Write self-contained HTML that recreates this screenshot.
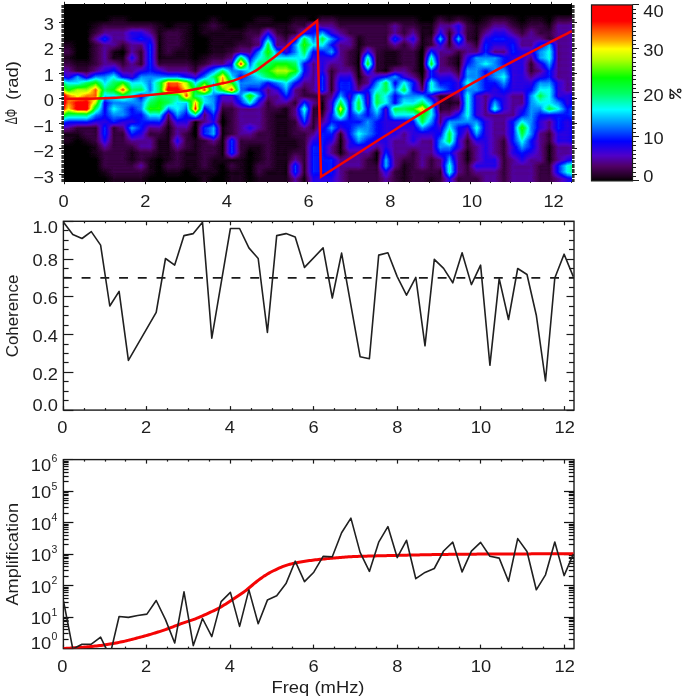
<!DOCTYPE html>
<html><head><meta charset="utf-8"><style>
html,body{margin:0;padding:0;background:#fff;}
svg{display:block;font-family:"Liberation Sans", sans-serif;will-change:transform;}
text{fill:#1e1e1e;}
</style></head><body>
<svg width="685" height="699" viewBox="0 0 685 699">
<defs><linearGradient id="cbgrad" x1="0" y1="0" x2="0" y2="1"><stop offset="0.000" stop-color="rgb(255, 0, 0)"/><stop offset="0.092" stop-color="rgb(255, 0, 0)"/><stop offset="0.144" stop-color="rgb(255, 80, 0)"/><stop offset="0.200" stop-color="rgb(255, 160, 0)"/><stop offset="0.250" stop-color="rgb(255, 255, 0)"/><stop offset="0.310" stop-color="rgb(180, 255, 0)"/><stop offset="0.414" stop-color="rgb(0, 255, 0)"/><stop offset="0.503" stop-color="rgb(0, 255, 100)"/><stop offset="0.595" stop-color="rgb(0, 255, 255)"/><stop offset="0.670" stop-color="rgb(0, 150, 255)"/><stop offset="0.775" stop-color="rgb(0, 0, 255)"/><stop offset="0.857" stop-color="rgb(80, 0, 200)"/><stop offset="0.917" stop-color="rgb(80, 0, 100)"/><stop offset="0.977" stop-color="rgb(30, 0, 30)"/><stop offset="1.000" stop-color="rgb(0, 0, 0)"/></linearGradient></defs>
<defs>
<linearGradient id="hg0" gradientUnits="userSpaceOnUse" x1="64.0" y1="0" x2="572.0" y2="0"><stop offset="0.0089" stop-color="#000000"/><stop offset="0.0268" stop-color="#000000"/><stop offset="0.0446" stop-color="#000000"/><stop offset="0.0625" stop-color="#000000"/><stop offset="0.0804" stop-color="#000000"/><stop offset="0.0982" stop-color="#000000"/><stop offset="0.1161" stop-color="#000000"/><stop offset="0.1339" stop-color="#000000"/><stop offset="0.1518" stop-color="#000000"/><stop offset="0.1696" stop-color="#000000"/><stop offset="0.1875" stop-color="#000000"/><stop offset="0.2054" stop-color="#000000"/><stop offset="0.2232" stop-color="#000000"/><stop offset="0.2411" stop-color="#000000"/><stop offset="0.2589" stop-color="#000000"/><stop offset="0.2768" stop-color="#000000"/><stop offset="0.2946" stop-color="#000000"/><stop offset="0.3125" stop-color="#000000"/><stop offset="0.3304" stop-color="#000000"/><stop offset="0.3482" stop-color="#000000"/><stop offset="0.3661" stop-color="#000000"/><stop offset="0.3839" stop-color="#000000"/><stop offset="0.4018" stop-color="#000000"/><stop offset="0.4196" stop-color="#000000"/><stop offset="0.4375" stop-color="#000000"/><stop offset="0.4554" stop-color="#000000"/><stop offset="0.4732" stop-color="#000000"/><stop offset="0.4911" stop-color="#000000"/><stop offset="0.5089" stop-color="#000000"/><stop offset="0.5268" stop-color="#000000"/><stop offset="0.5446" stop-color="#000000"/><stop offset="0.5625" stop-color="#000000"/><stop offset="0.5804" stop-color="#000000"/><stop offset="0.5982" stop-color="#000000"/><stop offset="0.6161" stop-color="#000000"/><stop offset="0.6339" stop-color="#000000"/><stop offset="0.6518" stop-color="#000000"/><stop offset="0.6696" stop-color="#000000"/><stop offset="0.6875" stop-color="#000000"/><stop offset="0.7054" stop-color="#000000"/><stop offset="0.7232" stop-color="#000000"/><stop offset="0.7411" stop-color="#000000"/><stop offset="0.7589" stop-color="#000000"/><stop offset="0.7768" stop-color="#000000"/><stop offset="0.7946" stop-color="#000000"/><stop offset="0.8125" stop-color="#000000"/><stop offset="0.8304" stop-color="#000000"/><stop offset="0.8482" stop-color="#000000"/><stop offset="0.8661" stop-color="#000000"/><stop offset="0.8839" stop-color="#000000"/><stop offset="0.9018" stop-color="#000000"/><stop offset="0.9196" stop-color="#000000"/><stop offset="0.9375" stop-color="#000000"/><stop offset="0.9554" stop-color="#000000"/><stop offset="0.9732" stop-color="#000000"/><stop offset="0.9911" stop-color="#000000"/></linearGradient>
<linearGradient id="hg1" gradientUnits="userSpaceOnUse" x1="64.0" y1="0" x2="572.0" y2="0"><stop offset="0.0089" stop-color="#000000"/><stop offset="0.0268" stop-color="#000000"/><stop offset="0.0446" stop-color="#000000"/><stop offset="0.0625" stop-color="#000000"/><stop offset="0.0804" stop-color="#000000"/><stop offset="0.0982" stop-color="#000000"/><stop offset="0.1161" stop-color="#000000"/><stop offset="0.1339" stop-color="#000000"/><stop offset="0.1518" stop-color="#000000"/><stop offset="0.1696" stop-color="#000000"/><stop offset="0.1875" stop-color="#000000"/><stop offset="0.2054" stop-color="#000000"/><stop offset="0.2232" stop-color="#000000"/><stop offset="0.2411" stop-color="#000000"/><stop offset="0.2589" stop-color="#000000"/><stop offset="0.2768" stop-color="#000000"/><stop offset="0.2946" stop-color="#000000"/><stop offset="0.3125" stop-color="#000000"/><stop offset="0.3304" stop-color="#000000"/><stop offset="0.3482" stop-color="#000000"/><stop offset="0.3661" stop-color="#000000"/><stop offset="0.3839" stop-color="#000000"/><stop offset="0.4018" stop-color="#000000"/><stop offset="0.4196" stop-color="#000000"/><stop offset="0.4375" stop-color="#000000"/><stop offset="0.4554" stop-color="#000000"/><stop offset="0.4732" stop-color="#000000"/><stop offset="0.4911" stop-color="#000000"/><stop offset="0.5089" stop-color="#000000"/><stop offset="0.5268" stop-color="#000000"/><stop offset="0.5446" stop-color="#000000"/><stop offset="0.5625" stop-color="#000000"/><stop offset="0.5804" stop-color="#000000"/><stop offset="0.5982" stop-color="#000000"/><stop offset="0.6161" stop-color="#000000"/><stop offset="0.6339" stop-color="#000000"/><stop offset="0.6518" stop-color="#000000"/><stop offset="0.6696" stop-color="#000000"/><stop offset="0.6875" stop-color="#000000"/><stop offset="0.7054" stop-color="#000000"/><stop offset="0.7232" stop-color="#000000"/><stop offset="0.7411" stop-color="#000000"/><stop offset="0.7589" stop-color="#000000"/><stop offset="0.7768" stop-color="#000000"/><stop offset="0.7946" stop-color="#000000"/><stop offset="0.8125" stop-color="#000000"/><stop offset="0.8304" stop-color="#000000"/><stop offset="0.8482" stop-color="#000000"/><stop offset="0.8661" stop-color="#000000"/><stop offset="0.8839" stop-color="#000000"/><stop offset="0.9018" stop-color="#000000"/><stop offset="0.9196" stop-color="#000000"/><stop offset="0.9375" stop-color="#000000"/><stop offset="0.9554" stop-color="#000000"/><stop offset="0.9732" stop-color="#000000"/><stop offset="0.9911" stop-color="#000000"/></linearGradient>
<linearGradient id="hg2" gradientUnits="userSpaceOnUse" x1="64.0" y1="0" x2="572.0" y2="0"><stop offset="0.0089" stop-color="#000000"/><stop offset="0.0268" stop-color="#000000"/><stop offset="0.0446" stop-color="#000000"/><stop offset="0.0625" stop-color="#000000"/><stop offset="0.0804" stop-color="#000000"/><stop offset="0.0982" stop-color="#060606"/><stop offset="0.1161" stop-color="#060606"/><stop offset="0.1339" stop-color="#000000"/><stop offset="0.1518" stop-color="#000000"/><stop offset="0.1696" stop-color="#000000"/><stop offset="0.1875" stop-color="#000000"/><stop offset="0.2054" stop-color="#000000"/><stop offset="0.2232" stop-color="#000000"/><stop offset="0.2411" stop-color="#000000"/><stop offset="0.2589" stop-color="#000000"/><stop offset="0.2768" stop-color="#000000"/><stop offset="0.2946" stop-color="#060606"/><stop offset="0.3125" stop-color="#000000"/><stop offset="0.3304" stop-color="#000000"/><stop offset="0.3482" stop-color="#000000"/><stop offset="0.3661" stop-color="#000000"/><stop offset="0.3839" stop-color="#060606"/><stop offset="0.4018" stop-color="#060606"/><stop offset="0.4196" stop-color="#000000"/><stop offset="0.4375" stop-color="#000000"/><stop offset="0.4554" stop-color="#060606"/><stop offset="0.4732" stop-color="#060606"/><stop offset="0.4911" stop-color="#000000"/><stop offset="0.5089" stop-color="#0e0e0e"/><stop offset="0.5268" stop-color="#0e0e0e"/><stop offset="0.5446" stop-color="#060606"/><stop offset="0.5625" stop-color="#060606"/><stop offset="0.5804" stop-color="#060606"/><stop offset="0.5982" stop-color="#060606"/><stop offset="0.6161" stop-color="#060606"/><stop offset="0.6339" stop-color="#060606"/><stop offset="0.6518" stop-color="#060606"/><stop offset="0.6696" stop-color="#060606"/><stop offset="0.6875" stop-color="#060606"/><stop offset="0.7054" stop-color="#000000"/><stop offset="0.7232" stop-color="#000000"/><stop offset="0.7411" stop-color="#0e0e0e"/><stop offset="0.7589" stop-color="#060606"/><stop offset="0.7768" stop-color="#0e0e0e"/><stop offset="0.7946" stop-color="#060606"/><stop offset="0.8125" stop-color="#000000"/><stop offset="0.8304" stop-color="#060606"/><stop offset="0.8482" stop-color="#0e0e0e"/><stop offset="0.8661" stop-color="#0e0e0e"/><stop offset="0.8839" stop-color="#060606"/><stop offset="0.9018" stop-color="#000000"/><stop offset="0.9196" stop-color="#060606"/><stop offset="0.9375" stop-color="#060606"/><stop offset="0.9554" stop-color="#000000"/><stop offset="0.9732" stop-color="#0e0e0e"/><stop offset="0.9911" stop-color="#0e0e0e"/></linearGradient>
<linearGradient id="hg3" gradientUnits="userSpaceOnUse" x1="64.0" y1="0" x2="572.0" y2="0"><stop offset="0.0089" stop-color="#000000"/><stop offset="0.0268" stop-color="#000000"/><stop offset="0.0446" stop-color="#000000"/><stop offset="0.0625" stop-color="#060606"/><stop offset="0.0804" stop-color="#0e0e0e"/><stop offset="0.0982" stop-color="#0e0e0e"/><stop offset="0.1161" stop-color="#0e0e0e"/><stop offset="0.1339" stop-color="#0e0e0e"/><stop offset="0.1518" stop-color="#0e0e0e"/><stop offset="0.1696" stop-color="#0e0e0e"/><stop offset="0.1875" stop-color="#060606"/><stop offset="0.2054" stop-color="#000000"/><stop offset="0.2232" stop-color="#060606"/><stop offset="0.2411" stop-color="#060606"/><stop offset="0.2589" stop-color="#000000"/><stop offset="0.2768" stop-color="#060606"/><stop offset="0.2946" stop-color="#0e0e0e"/><stop offset="0.3125" stop-color="#060606"/><stop offset="0.3304" stop-color="#000000"/><stop offset="0.3482" stop-color="#000000"/><stop offset="0.3661" stop-color="#060606"/><stop offset="0.3839" stop-color="#060606"/><stop offset="0.4018" stop-color="#060606"/><stop offset="0.4196" stop-color="#060606"/><stop offset="0.4375" stop-color="#060606"/><stop offset="0.4554" stop-color="#0e0e0e"/><stop offset="0.4732" stop-color="#0e0e0e"/><stop offset="0.4911" stop-color="#2f2f2f"/><stop offset="0.5089" stop-color="#1d1d1d"/><stop offset="0.5268" stop-color="#1d1d1d"/><stop offset="0.5446" stop-color="#0e0e0e"/><stop offset="0.5625" stop-color="#0e0e0e"/><stop offset="0.5804" stop-color="#0e0e0e"/><stop offset="0.5982" stop-color="#0e0e0e"/><stop offset="0.6161" stop-color="#0e0e0e"/><stop offset="0.6339" stop-color="#0e0e0e"/><stop offset="0.6518" stop-color="#1d1d1d"/><stop offset="0.6696" stop-color="#0e0e0e"/><stop offset="0.6875" stop-color="#0e0e0e"/><stop offset="0.7054" stop-color="#060606"/><stop offset="0.7232" stop-color="#060606"/><stop offset="0.7411" stop-color="#1d1d1d"/><stop offset="0.7589" stop-color="#1d1d1d"/><stop offset="0.7768" stop-color="#2f2f2f"/><stop offset="0.7946" stop-color="#0e0e0e"/><stop offset="0.8125" stop-color="#060606"/><stop offset="0.8304" stop-color="#0e0e0e"/><stop offset="0.8482" stop-color="#1d1d1d"/><stop offset="0.8661" stop-color="#1d1d1d"/><stop offset="0.8839" stop-color="#0e0e0e"/><stop offset="0.9018" stop-color="#060606"/><stop offset="0.9196" stop-color="#0e0e0e"/><stop offset="0.9375" stop-color="#0e0e0e"/><stop offset="0.9554" stop-color="#060606"/><stop offset="0.9732" stop-color="#1d1d1d"/><stop offset="0.9911" stop-color="#1d1d1d"/></linearGradient>
<linearGradient id="hg4" gradientUnits="userSpaceOnUse" x1="64.0" y1="0" x2="572.0" y2="0"><stop offset="0.0089" stop-color="#000000"/><stop offset="0.0268" stop-color="#000000"/><stop offset="0.0446" stop-color="#000000"/><stop offset="0.0625" stop-color="#0e0e0e"/><stop offset="0.0804" stop-color="#1d1d1d"/><stop offset="0.0982" stop-color="#1d1d1d"/><stop offset="0.1161" stop-color="#1d1d1d"/><stop offset="0.1339" stop-color="#2f2f2f"/><stop offset="0.1518" stop-color="#2f2f2f"/><stop offset="0.1696" stop-color="#1d1d1d"/><stop offset="0.1875" stop-color="#060606"/><stop offset="0.2054" stop-color="#0e0e0e"/><stop offset="0.2232" stop-color="#0e0e0e"/><stop offset="0.2411" stop-color="#060606"/><stop offset="0.2589" stop-color="#000000"/><stop offset="0.2768" stop-color="#060606"/><stop offset="0.2946" stop-color="#060606"/><stop offset="0.3125" stop-color="#060606"/><stop offset="0.3304" stop-color="#060606"/><stop offset="0.3482" stop-color="#060606"/><stop offset="0.3661" stop-color="#0e0e0e"/><stop offset="0.3839" stop-color="#0e0e0e"/><stop offset="0.4018" stop-color="#2f2f2f"/><stop offset="0.4196" stop-color="#0e0e0e"/><stop offset="0.4375" stop-color="#060606"/><stop offset="0.4554" stop-color="#0e0e0e"/><stop offset="0.4732" stop-color="#2f2f2f"/><stop offset="0.4911" stop-color="#3c3c3c"/><stop offset="0.5089" stop-color="#525252"/><stop offset="0.5268" stop-color="#2f2f2f"/><stop offset="0.5446" stop-color="#1d1d1d"/><stop offset="0.5625" stop-color="#0e0e0e"/><stop offset="0.5804" stop-color="#0e0e0e"/><stop offset="0.5982" stop-color="#0e0e0e"/><stop offset="0.6161" stop-color="#0e0e0e"/><stop offset="0.6339" stop-color="#0e0e0e"/><stop offset="0.6518" stop-color="#1d1d1d"/><stop offset="0.6696" stop-color="#0e0e0e"/><stop offset="0.6875" stop-color="#1d1d1d"/><stop offset="0.7054" stop-color="#060606"/><stop offset="0.7232" stop-color="#060606"/><stop offset="0.7411" stop-color="#2f2f2f"/><stop offset="0.7589" stop-color="#0e0e0e"/><stop offset="0.7768" stop-color="#2f2f2f"/><stop offset="0.7946" stop-color="#0e0e0e"/><stop offset="0.8125" stop-color="#060606"/><stop offset="0.8304" stop-color="#1d1d1d"/><stop offset="0.8482" stop-color="#2f2f2f"/><stop offset="0.8661" stop-color="#2f2f2f"/><stop offset="0.8839" stop-color="#1d1d1d"/><stop offset="0.9018" stop-color="#0e0e0e"/><stop offset="0.9196" stop-color="#1d1d1d"/><stop offset="0.9375" stop-color="#0e0e0e"/><stop offset="0.9554" stop-color="#0e0e0e"/><stop offset="0.9732" stop-color="#1d1d1d"/><stop offset="0.9911" stop-color="#1d1d1d"/></linearGradient>
<linearGradient id="hg5" gradientUnits="userSpaceOnUse" x1="64.0" y1="0" x2="572.0" y2="0"><stop offset="0.0089" stop-color="#000000"/><stop offset="0.0268" stop-color="#000000"/><stop offset="0.0446" stop-color="#000000"/><stop offset="0.0625" stop-color="#1d1d1d"/><stop offset="0.0804" stop-color="#3c3c3c"/><stop offset="0.0982" stop-color="#1d1d1d"/><stop offset="0.1161" stop-color="#1d1d1d"/><stop offset="0.1339" stop-color="#2f2f2f"/><stop offset="0.1518" stop-color="#3c3c3c"/><stop offset="0.1696" stop-color="#2f2f2f"/><stop offset="0.1875" stop-color="#060606"/><stop offset="0.2054" stop-color="#0e0e0e"/><stop offset="0.2232" stop-color="#0e0e0e"/><stop offset="0.2411" stop-color="#060606"/><stop offset="0.2589" stop-color="#000000"/><stop offset="0.2768" stop-color="#000000"/><stop offset="0.2946" stop-color="#060606"/><stop offset="0.3125" stop-color="#060606"/><stop offset="0.3304" stop-color="#060606"/><stop offset="0.3482" stop-color="#060606"/><stop offset="0.3661" stop-color="#0e0e0e"/><stop offset="0.3839" stop-color="#1d1d1d"/><stop offset="0.4018" stop-color="#525252"/><stop offset="0.4196" stop-color="#1d1d1d"/><stop offset="0.4375" stop-color="#0e0e0e"/><stop offset="0.4554" stop-color="#2f2f2f"/><stop offset="0.4732" stop-color="#808080"/><stop offset="0.4911" stop-color="#525252"/><stop offset="0.5089" stop-color="#808080"/><stop offset="0.5268" stop-color="#525252"/><stop offset="0.5446" stop-color="#2f2f2f"/><stop offset="0.5625" stop-color="#1d1d1d"/><stop offset="0.5804" stop-color="#060606"/><stop offset="0.5982" stop-color="#0e0e0e"/><stop offset="0.6161" stop-color="#0e0e0e"/><stop offset="0.6339" stop-color="#0e0e0e"/><stop offset="0.6518" stop-color="#3c3c3c"/><stop offset="0.6696" stop-color="#1d1d1d"/><stop offset="0.6875" stop-color="#2f2f2f"/><stop offset="0.7054" stop-color="#060606"/><stop offset="0.7232" stop-color="#0e0e0e"/><stop offset="0.7411" stop-color="#525252"/><stop offset="0.7589" stop-color="#0e0e0e"/><stop offset="0.7768" stop-color="#525252"/><stop offset="0.7946" stop-color="#0e0e0e"/><stop offset="0.8125" stop-color="#060606"/><stop offset="0.8304" stop-color="#2f2f2f"/><stop offset="0.8482" stop-color="#3c3c3c"/><stop offset="0.8661" stop-color="#3c3c3c"/><stop offset="0.8839" stop-color="#2f2f2f"/><stop offset="0.9018" stop-color="#1d1d1d"/><stop offset="0.9196" stop-color="#1d1d1d"/><stop offset="0.9375" stop-color="#1d1d1d"/><stop offset="0.9554" stop-color="#0e0e0e"/><stop offset="0.9732" stop-color="#1d1d1d"/><stop offset="0.9911" stop-color="#1d1d1d"/></linearGradient>
<linearGradient id="hg6" gradientUnits="userSpaceOnUse" x1="64.0" y1="0" x2="572.0" y2="0"><stop offset="0.0089" stop-color="#060606"/><stop offset="0.0268" stop-color="#000000"/><stop offset="0.0446" stop-color="#000000"/><stop offset="0.0625" stop-color="#0e0e0e"/><stop offset="0.0804" stop-color="#1d1d1d"/><stop offset="0.0982" stop-color="#1d1d1d"/><stop offset="0.1161" stop-color="#0e0e0e"/><stop offset="0.1339" stop-color="#1d1d1d"/><stop offset="0.1518" stop-color="#1d1d1d"/><stop offset="0.1696" stop-color="#3c3c3c"/><stop offset="0.1875" stop-color="#060606"/><stop offset="0.2054" stop-color="#0e0e0e"/><stop offset="0.2232" stop-color="#0e0e0e"/><stop offset="0.2411" stop-color="#060606"/><stop offset="0.2589" stop-color="#000000"/><stop offset="0.2768" stop-color="#000000"/><stop offset="0.2946" stop-color="#060606"/><stop offset="0.3125" stop-color="#060606"/><stop offset="0.3304" stop-color="#060606"/><stop offset="0.3482" stop-color="#0e0e0e"/><stop offset="0.3661" stop-color="#0e0e0e"/><stop offset="0.3839" stop-color="#1d1d1d"/><stop offset="0.4018" stop-color="#808080"/><stop offset="0.4196" stop-color="#1d1d1d"/><stop offset="0.4375" stop-color="#1d1d1d"/><stop offset="0.4554" stop-color="#525252"/><stop offset="0.4732" stop-color="#949494"/><stop offset="0.4911" stop-color="#666666"/><stop offset="0.5089" stop-color="#666666"/><stop offset="0.5268" stop-color="#3c3c3c"/><stop offset="0.5446" stop-color="#1d1d1d"/><stop offset="0.5625" stop-color="#1d1d1d"/><stop offset="0.5804" stop-color="#060606"/><stop offset="0.5982" stop-color="#0e0e0e"/><stop offset="0.6161" stop-color="#0e0e0e"/><stop offset="0.6339" stop-color="#0e0e0e"/><stop offset="0.6518" stop-color="#1d1d1d"/><stop offset="0.6696" stop-color="#0e0e0e"/><stop offset="0.6875" stop-color="#1d1d1d"/><stop offset="0.7054" stop-color="#060606"/><stop offset="0.7232" stop-color="#0e0e0e"/><stop offset="0.7411" stop-color="#2f2f2f"/><stop offset="0.7589" stop-color="#0e0e0e"/><stop offset="0.7768" stop-color="#2f2f2f"/><stop offset="0.7946" stop-color="#1d1d1d"/><stop offset="0.8125" stop-color="#0e0e0e"/><stop offset="0.8304" stop-color="#3c3c3c"/><stop offset="0.8482" stop-color="#2f2f2f"/><stop offset="0.8661" stop-color="#2f2f2f"/><stop offset="0.8839" stop-color="#3c3c3c"/><stop offset="0.9018" stop-color="#1d1d1d"/><stop offset="0.9196" stop-color="#1d1d1d"/><stop offset="0.9375" stop-color="#3c3c3c"/><stop offset="0.9554" stop-color="#525252"/><stop offset="0.9732" stop-color="#1d1d1d"/><stop offset="0.9911" stop-color="#1d1d1d"/></linearGradient>
<linearGradient id="hg7" gradientUnits="userSpaceOnUse" x1="64.0" y1="0" x2="572.0" y2="0"><stop offset="0.0089" stop-color="#0e0e0e"/><stop offset="0.0268" stop-color="#000000"/><stop offset="0.0446" stop-color="#000000"/><stop offset="0.0625" stop-color="#0e0e0e"/><stop offset="0.0804" stop-color="#1d1d1d"/><stop offset="0.0982" stop-color="#060606"/><stop offset="0.1161" stop-color="#000000"/><stop offset="0.1339" stop-color="#1d1d1d"/><stop offset="0.1518" stop-color="#0e0e0e"/><stop offset="0.1696" stop-color="#3c3c3c"/><stop offset="0.1875" stop-color="#060606"/><stop offset="0.2054" stop-color="#0e0e0e"/><stop offset="0.2232" stop-color="#060606"/><stop offset="0.2411" stop-color="#060606"/><stop offset="0.2589" stop-color="#000000"/><stop offset="0.2768" stop-color="#000000"/><stop offset="0.2946" stop-color="#060606"/><stop offset="0.3125" stop-color="#060606"/><stop offset="0.3304" stop-color="#0e0e0e"/><stop offset="0.3482" stop-color="#1d1d1d"/><stop offset="0.3661" stop-color="#1d1d1d"/><stop offset="0.3839" stop-color="#525252"/><stop offset="0.4018" stop-color="#949494"/><stop offset="0.4196" stop-color="#525252"/><stop offset="0.4375" stop-color="#2f2f2f"/><stop offset="0.4554" stop-color="#525252"/><stop offset="0.4732" stop-color="#808080"/><stop offset="0.4911" stop-color="#3c3c3c"/><stop offset="0.5089" stop-color="#3c3c3c"/><stop offset="0.5268" stop-color="#525252"/><stop offset="0.5446" stop-color="#1d1d1d"/><stop offset="0.5625" stop-color="#0e0e0e"/><stop offset="0.5804" stop-color="#060606"/><stop offset="0.5982" stop-color="#2f2f2f"/><stop offset="0.6161" stop-color="#0e0e0e"/><stop offset="0.6339" stop-color="#060606"/><stop offset="0.6518" stop-color="#060606"/><stop offset="0.6696" stop-color="#0e0e0e"/><stop offset="0.6875" stop-color="#0e0e0e"/><stop offset="0.7054" stop-color="#000000"/><stop offset="0.7232" stop-color="#3c3c3c"/><stop offset="0.7411" stop-color="#1d1d1d"/><stop offset="0.7589" stop-color="#1d1d1d"/><stop offset="0.7768" stop-color="#0e0e0e"/><stop offset="0.7946" stop-color="#1d1d1d"/><stop offset="0.8125" stop-color="#1d1d1d"/><stop offset="0.8304" stop-color="#3c3c3c"/><stop offset="0.8482" stop-color="#1d1d1d"/><stop offset="0.8661" stop-color="#1d1d1d"/><stop offset="0.8839" stop-color="#3c3c3c"/><stop offset="0.9018" stop-color="#2f2f2f"/><stop offset="0.9196" stop-color="#2f2f2f"/><stop offset="0.9375" stop-color="#525252"/><stop offset="0.9554" stop-color="#666666"/><stop offset="0.9732" stop-color="#1d1d1d"/><stop offset="0.9911" stop-color="#1d1d1d"/></linearGradient>
<linearGradient id="hg8" gradientUnits="userSpaceOnUse" x1="64.0" y1="0" x2="572.0" y2="0"><stop offset="0.0089" stop-color="#060606"/><stop offset="0.0268" stop-color="#000000"/><stop offset="0.0446" stop-color="#000000"/><stop offset="0.0625" stop-color="#0e0e0e"/><stop offset="0.0804" stop-color="#1d1d1d"/><stop offset="0.0982" stop-color="#060606"/><stop offset="0.1161" stop-color="#060606"/><stop offset="0.1339" stop-color="#2f2f2f"/><stop offset="0.1518" stop-color="#0e0e0e"/><stop offset="0.1696" stop-color="#3c3c3c"/><stop offset="0.1875" stop-color="#060606"/><stop offset="0.2054" stop-color="#060606"/><stop offset="0.2232" stop-color="#060606"/><stop offset="0.2411" stop-color="#060606"/><stop offset="0.2589" stop-color="#000000"/><stop offset="0.2768" stop-color="#060606"/><stop offset="0.2946" stop-color="#0e0e0e"/><stop offset="0.3125" stop-color="#0e0e0e"/><stop offset="0.3304" stop-color="#1d1d1d"/><stop offset="0.3482" stop-color="#808080"/><stop offset="0.3661" stop-color="#3c3c3c"/><stop offset="0.3839" stop-color="#666666"/><stop offset="0.4018" stop-color="#808080"/><stop offset="0.4196" stop-color="#666666"/><stop offset="0.4375" stop-color="#666666"/><stop offset="0.4554" stop-color="#666666"/><stop offset="0.4732" stop-color="#666666"/><stop offset="0.4911" stop-color="#2f2f2f"/><stop offset="0.5089" stop-color="#2f2f2f"/><stop offset="0.5268" stop-color="#2f2f2f"/><stop offset="0.5446" stop-color="#1d1d1d"/><stop offset="0.5625" stop-color="#0e0e0e"/><stop offset="0.5804" stop-color="#060606"/><stop offset="0.5982" stop-color="#666666"/><stop offset="0.6161" stop-color="#0e0e0e"/><stop offset="0.6339" stop-color="#060606"/><stop offset="0.6518" stop-color="#060606"/><stop offset="0.6696" stop-color="#0e0e0e"/><stop offset="0.6875" stop-color="#0e0e0e"/><stop offset="0.7054" stop-color="#000000"/><stop offset="0.7232" stop-color="#666666"/><stop offset="0.7411" stop-color="#1d1d1d"/><stop offset="0.7589" stop-color="#0e0e0e"/><stop offset="0.7768" stop-color="#060606"/><stop offset="0.7946" stop-color="#2f2f2f"/><stop offset="0.8125" stop-color="#525252"/><stop offset="0.8304" stop-color="#525252"/><stop offset="0.8482" stop-color="#525252"/><stop offset="0.8661" stop-color="#3c3c3c"/><stop offset="0.8839" stop-color="#2f2f2f"/><stop offset="0.9018" stop-color="#2f2f2f"/><stop offset="0.9196" stop-color="#1d1d1d"/><stop offset="0.9375" stop-color="#525252"/><stop offset="0.9554" stop-color="#666666"/><stop offset="0.9732" stop-color="#1d1d1d"/><stop offset="0.9911" stop-color="#1d1d1d"/></linearGradient>
<linearGradient id="hg9" gradientUnits="userSpaceOnUse" x1="64.0" y1="0" x2="572.0" y2="0"><stop offset="0.0089" stop-color="#0e0e0e"/><stop offset="0.0268" stop-color="#060606"/><stop offset="0.0446" stop-color="#060606"/><stop offset="0.0625" stop-color="#0e0e0e"/><stop offset="0.0804" stop-color="#1d1d1d"/><stop offset="0.0982" stop-color="#1d1d1d"/><stop offset="0.1161" stop-color="#0e0e0e"/><stop offset="0.1339" stop-color="#1d1d1d"/><stop offset="0.1518" stop-color="#0e0e0e"/><stop offset="0.1696" stop-color="#3c3c3c"/><stop offset="0.1875" stop-color="#0e0e0e"/><stop offset="0.2054" stop-color="#0e0e0e"/><stop offset="0.2232" stop-color="#0e0e0e"/><stop offset="0.2411" stop-color="#0e0e0e"/><stop offset="0.2589" stop-color="#060606"/><stop offset="0.2768" stop-color="#0e0e0e"/><stop offset="0.2946" stop-color="#1d1d1d"/><stop offset="0.3125" stop-color="#1d1d1d"/><stop offset="0.3304" stop-color="#3c3c3c"/><stop offset="0.3482" stop-color="#d1d1d1"/><stop offset="0.3661" stop-color="#525252"/><stop offset="0.3839" stop-color="#808080"/><stop offset="0.4018" stop-color="#808080"/><stop offset="0.4196" stop-color="#949494"/><stop offset="0.4375" stop-color="#949494"/><stop offset="0.4554" stop-color="#808080"/><stop offset="0.4732" stop-color="#3c3c3c"/><stop offset="0.4911" stop-color="#1d1d1d"/><stop offset="0.5089" stop-color="#2f2f2f"/><stop offset="0.5268" stop-color="#1d1d1d"/><stop offset="0.5446" stop-color="#1d1d1d"/><stop offset="0.5625" stop-color="#0e0e0e"/><stop offset="0.5804" stop-color="#060606"/><stop offset="0.5982" stop-color="#808080"/><stop offset="0.6161" stop-color="#0e0e0e"/><stop offset="0.6339" stop-color="#060606"/><stop offset="0.6518" stop-color="#060606"/><stop offset="0.6696" stop-color="#0e0e0e"/><stop offset="0.6875" stop-color="#0e0e0e"/><stop offset="0.7054" stop-color="#000000"/><stop offset="0.7232" stop-color="#808080"/><stop offset="0.7411" stop-color="#1d1d1d"/><stop offset="0.7589" stop-color="#0e0e0e"/><stop offset="0.7768" stop-color="#060606"/><stop offset="0.7946" stop-color="#3c3c3c"/><stop offset="0.8125" stop-color="#525252"/><stop offset="0.8304" stop-color="#666666"/><stop offset="0.8482" stop-color="#525252"/><stop offset="0.8661" stop-color="#3c3c3c"/><stop offset="0.8839" stop-color="#2f2f2f"/><stop offset="0.9018" stop-color="#2f2f2f"/><stop offset="0.9196" stop-color="#0e0e0e"/><stop offset="0.9375" stop-color="#2f2f2f"/><stop offset="0.9554" stop-color="#525252"/><stop offset="0.9732" stop-color="#1d1d1d"/><stop offset="0.9911" stop-color="#1d1d1d"/></linearGradient>
<linearGradient id="hg10" gradientUnits="userSpaceOnUse" x1="64.0" y1="0" x2="572.0" y2="0"><stop offset="0.0089" stop-color="#1d1d1d"/><stop offset="0.0268" stop-color="#0e0e0e"/><stop offset="0.0446" stop-color="#0e0e0e"/><stop offset="0.0625" stop-color="#1d1d1d"/><stop offset="0.0804" stop-color="#2f2f2f"/><stop offset="0.0982" stop-color="#3c3c3c"/><stop offset="0.1161" stop-color="#1d1d1d"/><stop offset="0.1339" stop-color="#1d1d1d"/><stop offset="0.1518" stop-color="#2f2f2f"/><stop offset="0.1696" stop-color="#3c3c3c"/><stop offset="0.1875" stop-color="#2f2f2f"/><stop offset="0.2054" stop-color="#1d1d1d"/><stop offset="0.2232" stop-color="#1d1d1d"/><stop offset="0.2411" stop-color="#1d1d1d"/><stop offset="0.2589" stop-color="#0e0e0e"/><stop offset="0.2768" stop-color="#2f2f2f"/><stop offset="0.2946" stop-color="#525252"/><stop offset="0.3125" stop-color="#808080"/><stop offset="0.3304" stop-color="#525252"/><stop offset="0.3482" stop-color="#525252"/><stop offset="0.3661" stop-color="#666666"/><stop offset="0.3839" stop-color="#808080"/><stop offset="0.4018" stop-color="#949494"/><stop offset="0.4196" stop-color="#adadad"/><stop offset="0.4375" stop-color="#adadad"/><stop offset="0.4554" stop-color="#949494"/><stop offset="0.4732" stop-color="#3c3c3c"/><stop offset="0.4911" stop-color="#1d1d1d"/><stop offset="0.5089" stop-color="#2f2f2f"/><stop offset="0.5268" stop-color="#0e0e0e"/><stop offset="0.5446" stop-color="#1d1d1d"/><stop offset="0.5625" stop-color="#1d1d1d"/><stop offset="0.5804" stop-color="#060606"/><stop offset="0.5982" stop-color="#3c3c3c"/><stop offset="0.6161" stop-color="#0e0e0e"/><stop offset="0.6339" stop-color="#060606"/><stop offset="0.6518" stop-color="#1d1d1d"/><stop offset="0.6696" stop-color="#1d1d1d"/><stop offset="0.6875" stop-color="#0e0e0e"/><stop offset="0.7054" stop-color="#000000"/><stop offset="0.7232" stop-color="#3c3c3c"/><stop offset="0.7411" stop-color="#1d1d1d"/><stop offset="0.7589" stop-color="#1d1d1d"/><stop offset="0.7768" stop-color="#0e0e0e"/><stop offset="0.7946" stop-color="#525252"/><stop offset="0.8125" stop-color="#525252"/><stop offset="0.8304" stop-color="#3c3c3c"/><stop offset="0.8482" stop-color="#525252"/><stop offset="0.8661" stop-color="#525252"/><stop offset="0.8839" stop-color="#2f2f2f"/><stop offset="0.9018" stop-color="#2f2f2f"/><stop offset="0.9196" stop-color="#0e0e0e"/><stop offset="0.9375" stop-color="#1d1d1d"/><stop offset="0.9554" stop-color="#3c3c3c"/><stop offset="0.9732" stop-color="#1d1d1d"/><stop offset="0.9911" stop-color="#1d1d1d"/></linearGradient>
<linearGradient id="hg11" gradientUnits="userSpaceOnUse" x1="64.0" y1="0" x2="572.0" y2="0"><stop offset="0.0089" stop-color="#2f2f2f"/><stop offset="0.0268" stop-color="#525252"/><stop offset="0.0446" stop-color="#2f2f2f"/><stop offset="0.0625" stop-color="#525252"/><stop offset="0.0804" stop-color="#525252"/><stop offset="0.0982" stop-color="#666666"/><stop offset="0.1161" stop-color="#3c3c3c"/><stop offset="0.1339" stop-color="#2f2f2f"/><stop offset="0.1518" stop-color="#525252"/><stop offset="0.1696" stop-color="#525252"/><stop offset="0.1875" stop-color="#525252"/><stop offset="0.2054" stop-color="#525252"/><stop offset="0.2232" stop-color="#525252"/><stop offset="0.2411" stop-color="#3c3c3c"/><stop offset="0.2589" stop-color="#2f2f2f"/><stop offset="0.2768" stop-color="#525252"/><stop offset="0.2946" stop-color="#808080"/><stop offset="0.3125" stop-color="#bfbfbf"/><stop offset="0.3304" stop-color="#666666"/><stop offset="0.3482" stop-color="#3c3c3c"/><stop offset="0.3661" stop-color="#525252"/><stop offset="0.3839" stop-color="#666666"/><stop offset="0.4018" stop-color="#808080"/><stop offset="0.4196" stop-color="#949494"/><stop offset="0.4375" stop-color="#949494"/><stop offset="0.4554" stop-color="#666666"/><stop offset="0.4732" stop-color="#2f2f2f"/><stop offset="0.4911" stop-color="#1d1d1d"/><stop offset="0.5089" stop-color="#3c3c3c"/><stop offset="0.5268" stop-color="#0e0e0e"/><stop offset="0.5446" stop-color="#2f2f2f"/><stop offset="0.5625" stop-color="#2f2f2f"/><stop offset="0.5804" stop-color="#060606"/><stop offset="0.5982" stop-color="#1d1d1d"/><stop offset="0.6161" stop-color="#2f2f2f"/><stop offset="0.6339" stop-color="#3c3c3c"/><stop offset="0.6518" stop-color="#525252"/><stop offset="0.6696" stop-color="#2f2f2f"/><stop offset="0.6875" stop-color="#1d1d1d"/><stop offset="0.7054" stop-color="#060606"/><stop offset="0.7232" stop-color="#3c3c3c"/><stop offset="0.7411" stop-color="#2f2f2f"/><stop offset="0.7589" stop-color="#2f2f2f"/><stop offset="0.7768" stop-color="#1d1d1d"/><stop offset="0.7946" stop-color="#525252"/><stop offset="0.8125" stop-color="#525252"/><stop offset="0.8304" stop-color="#3c3c3c"/><stop offset="0.8482" stop-color="#525252"/><stop offset="0.8661" stop-color="#666666"/><stop offset="0.8839" stop-color="#2f2f2f"/><stop offset="0.9018" stop-color="#2f2f2f"/><stop offset="0.9196" stop-color="#1d1d1d"/><stop offset="0.9375" stop-color="#2f2f2f"/><stop offset="0.9554" stop-color="#3c3c3c"/><stop offset="0.9732" stop-color="#1d1d1d"/><stop offset="0.9911" stop-color="#1d1d1d"/></linearGradient>
<linearGradient id="hg12" gradientUnits="userSpaceOnUse" x1="64.0" y1="0" x2="572.0" y2="0"><stop offset="0.0089" stop-color="#666666"/><stop offset="0.0268" stop-color="#666666"/><stop offset="0.0446" stop-color="#808080"/><stop offset="0.0625" stop-color="#949494"/><stop offset="0.0804" stop-color="#666666"/><stop offset="0.0982" stop-color="#808080"/><stop offset="0.1161" stop-color="#949494"/><stop offset="0.1339" stop-color="#666666"/><stop offset="0.1518" stop-color="#666666"/><stop offset="0.1696" stop-color="#525252"/><stop offset="0.1875" stop-color="#808080"/><stop offset="0.2054" stop-color="#d1d1d1"/><stop offset="0.2232" stop-color="#d1d1d1"/><stop offset="0.2411" stop-color="#adadad"/><stop offset="0.2589" stop-color="#666666"/><stop offset="0.2768" stop-color="#949494"/><stop offset="0.2946" stop-color="#666666"/><stop offset="0.3125" stop-color="#d1d1d1"/><stop offset="0.3304" stop-color="#949494"/><stop offset="0.3482" stop-color="#525252"/><stop offset="0.3661" stop-color="#525252"/><stop offset="0.3839" stop-color="#525252"/><stop offset="0.4018" stop-color="#3c3c3c"/><stop offset="0.4196" stop-color="#525252"/><stop offset="0.4375" stop-color="#666666"/><stop offset="0.4554" stop-color="#3c3c3c"/><stop offset="0.4732" stop-color="#1d1d1d"/><stop offset="0.4911" stop-color="#1d1d1d"/><stop offset="0.5089" stop-color="#3c3c3c"/><stop offset="0.5268" stop-color="#0e0e0e"/><stop offset="0.5446" stop-color="#3c3c3c"/><stop offset="0.5625" stop-color="#3c3c3c"/><stop offset="0.5804" stop-color="#0e0e0e"/><stop offset="0.5982" stop-color="#1d1d1d"/><stop offset="0.6161" stop-color="#525252"/><stop offset="0.6339" stop-color="#808080"/><stop offset="0.6518" stop-color="#3c3c3c"/><stop offset="0.6696" stop-color="#666666"/><stop offset="0.6875" stop-color="#3c3c3c"/><stop offset="0.7054" stop-color="#0e0e0e"/><stop offset="0.7232" stop-color="#666666"/><stop offset="0.7411" stop-color="#3c3c3c"/><stop offset="0.7589" stop-color="#3c3c3c"/><stop offset="0.7768" stop-color="#2f2f2f"/><stop offset="0.7946" stop-color="#666666"/><stop offset="0.8125" stop-color="#525252"/><stop offset="0.8304" stop-color="#3c3c3c"/><stop offset="0.8482" stop-color="#3c3c3c"/><stop offset="0.8661" stop-color="#525252"/><stop offset="0.8839" stop-color="#2f2f2f"/><stop offset="0.9018" stop-color="#2f2f2f"/><stop offset="0.9196" stop-color="#2f2f2f"/><stop offset="0.9375" stop-color="#525252"/><stop offset="0.9554" stop-color="#525252"/><stop offset="0.9732" stop-color="#2f2f2f"/><stop offset="0.9911" stop-color="#1d1d1d"/></linearGradient>
<linearGradient id="hg13" gradientUnits="userSpaceOnUse" x1="64.0" y1="0" x2="572.0" y2="0"><stop offset="0.0089" stop-color="#949494"/><stop offset="0.0268" stop-color="#adadad"/><stop offset="0.0446" stop-color="#adadad"/><stop offset="0.0625" stop-color="#d1d1d1"/><stop offset="0.0804" stop-color="#808080"/><stop offset="0.0982" stop-color="#949494"/><stop offset="0.1161" stop-color="#d1d1d1"/><stop offset="0.1339" stop-color="#808080"/><stop offset="0.1518" stop-color="#808080"/><stop offset="0.1696" stop-color="#525252"/><stop offset="0.1875" stop-color="#808080"/><stop offset="0.2054" stop-color="#ebebeb"/><stop offset="0.2232" stop-color="#ebebeb"/><stop offset="0.2411" stop-color="#bfbfbf"/><stop offset="0.2589" stop-color="#949494"/><stop offset="0.2768" stop-color="#d1d1d1"/><stop offset="0.2946" stop-color="#666666"/><stop offset="0.3125" stop-color="#949494"/><stop offset="0.3304" stop-color="#d1d1d1"/><stop offset="0.3482" stop-color="#525252"/><stop offset="0.3661" stop-color="#3c3c3c"/><stop offset="0.3839" stop-color="#3c3c3c"/><stop offset="0.4018" stop-color="#1d1d1d"/><stop offset="0.4196" stop-color="#2f2f2f"/><stop offset="0.4375" stop-color="#525252"/><stop offset="0.4554" stop-color="#1d1d1d"/><stop offset="0.4732" stop-color="#0e0e0e"/><stop offset="0.4911" stop-color="#1d1d1d"/><stop offset="0.5089" stop-color="#3c3c3c"/><stop offset="0.5268" stop-color="#0e0e0e"/><stop offset="0.5446" stop-color="#3c3c3c"/><stop offset="0.5625" stop-color="#3c3c3c"/><stop offset="0.5804" stop-color="#1d1d1d"/><stop offset="0.5982" stop-color="#3c3c3c"/><stop offset="0.6161" stop-color="#666666"/><stop offset="0.6339" stop-color="#808080"/><stop offset="0.6518" stop-color="#525252"/><stop offset="0.6696" stop-color="#808080"/><stop offset="0.6875" stop-color="#3c3c3c"/><stop offset="0.7054" stop-color="#1d1d1d"/><stop offset="0.7232" stop-color="#666666"/><stop offset="0.7411" stop-color="#525252"/><stop offset="0.7589" stop-color="#3c3c3c"/><stop offset="0.7768" stop-color="#2f2f2f"/><stop offset="0.7946" stop-color="#525252"/><stop offset="0.8125" stop-color="#525252"/><stop offset="0.8304" stop-color="#3c3c3c"/><stop offset="0.8482" stop-color="#2f2f2f"/><stop offset="0.8661" stop-color="#3c3c3c"/><stop offset="0.8839" stop-color="#2f2f2f"/><stop offset="0.9018" stop-color="#2f2f2f"/><stop offset="0.9196" stop-color="#3c3c3c"/><stop offset="0.9375" stop-color="#666666"/><stop offset="0.9554" stop-color="#666666"/><stop offset="0.9732" stop-color="#2f2f2f"/><stop offset="0.9911" stop-color="#1d1d1d"/></linearGradient>
<linearGradient id="hg14" gradientUnits="userSpaceOnUse" x1="64.0" y1="0" x2="572.0" y2="0"><stop offset="0.0089" stop-color="#d1d1d1"/><stop offset="0.0268" stop-color="#bfbfbf"/><stop offset="0.0446" stop-color="#d1d1d1"/><stop offset="0.0625" stop-color="#d1d1d1"/><stop offset="0.0804" stop-color="#666666"/><stop offset="0.0982" stop-color="#666666"/><stop offset="0.1161" stop-color="#808080"/><stop offset="0.1339" stop-color="#666666"/><stop offset="0.1518" stop-color="#3c3c3c"/><stop offset="0.1696" stop-color="#666666"/><stop offset="0.1875" stop-color="#808080"/><stop offset="0.2054" stop-color="#808080"/><stop offset="0.2232" stop-color="#808080"/><stop offset="0.2411" stop-color="#d1d1d1"/><stop offset="0.2589" stop-color="#808080"/><stop offset="0.2768" stop-color="#666666"/><stop offset="0.2946" stop-color="#525252"/><stop offset="0.3125" stop-color="#2f2f2f"/><stop offset="0.3304" stop-color="#2f2f2f"/><stop offset="0.3482" stop-color="#525252"/><stop offset="0.3661" stop-color="#949494"/><stop offset="0.3839" stop-color="#525252"/><stop offset="0.4018" stop-color="#1d1d1d"/><stop offset="0.4196" stop-color="#1d1d1d"/><stop offset="0.4375" stop-color="#3c3c3c"/><stop offset="0.4554" stop-color="#1d1d1d"/><stop offset="0.4732" stop-color="#0e0e0e"/><stop offset="0.4911" stop-color="#0e0e0e"/><stop offset="0.5089" stop-color="#0e0e0e"/><stop offset="0.5268" stop-color="#1d1d1d"/><stop offset="0.5446" stop-color="#525252"/><stop offset="0.5625" stop-color="#2f2f2f"/><stop offset="0.5804" stop-color="#666666"/><stop offset="0.5982" stop-color="#2f2f2f"/><stop offset="0.6161" stop-color="#808080"/><stop offset="0.6339" stop-color="#666666"/><stop offset="0.6518" stop-color="#3c3c3c"/><stop offset="0.6696" stop-color="#525252"/><stop offset="0.6875" stop-color="#525252"/><stop offset="0.7054" stop-color="#525252"/><stop offset="0.7232" stop-color="#2f2f2f"/><stop offset="0.7411" stop-color="#0e0e0e"/><stop offset="0.7589" stop-color="#0e0e0e"/><stop offset="0.7768" stop-color="#1d1d1d"/><stop offset="0.7946" stop-color="#666666"/><stop offset="0.8125" stop-color="#2f2f2f"/><stop offset="0.8304" stop-color="#1d1d1d"/><stop offset="0.8482" stop-color="#2f2f2f"/><stop offset="0.8661" stop-color="#2f2f2f"/><stop offset="0.8839" stop-color="#1d1d1d"/><stop offset="0.9018" stop-color="#1d1d1d"/><stop offset="0.9196" stop-color="#525252"/><stop offset="0.9375" stop-color="#808080"/><stop offset="0.9554" stop-color="#666666"/><stop offset="0.9732" stop-color="#2f2f2f"/><stop offset="0.9911" stop-color="#2f2f2f"/></linearGradient>
<linearGradient id="hg15" gradientUnits="userSpaceOnUse" x1="64.0" y1="0" x2="572.0" y2="0"><stop offset="0.0089" stop-color="#d1d1d1"/><stop offset="0.0268" stop-color="#ebebeb"/><stop offset="0.0446" stop-color="#ebebeb"/><stop offset="0.0625" stop-color="#adadad"/><stop offset="0.0804" stop-color="#3c3c3c"/><stop offset="0.0982" stop-color="#525252"/><stop offset="0.1161" stop-color="#525252"/><stop offset="0.1339" stop-color="#525252"/><stop offset="0.1518" stop-color="#525252"/><stop offset="0.1696" stop-color="#808080"/><stop offset="0.1875" stop-color="#949494"/><stop offset="0.2054" stop-color="#808080"/><stop offset="0.2232" stop-color="#666666"/><stop offset="0.2411" stop-color="#666666"/><stop offset="0.2589" stop-color="#bfbfbf"/><stop offset="0.2768" stop-color="#666666"/><stop offset="0.2946" stop-color="#525252"/><stop offset="0.3125" stop-color="#1d1d1d"/><stop offset="0.3304" stop-color="#1d1d1d"/><stop offset="0.3482" stop-color="#3c3c3c"/><stop offset="0.3661" stop-color="#666666"/><stop offset="0.3839" stop-color="#2f2f2f"/><stop offset="0.4018" stop-color="#0e0e0e"/><stop offset="0.4196" stop-color="#1d1d1d"/><stop offset="0.4375" stop-color="#1d1d1d"/><stop offset="0.4554" stop-color="#0e0e0e"/><stop offset="0.4732" stop-color="#3c3c3c"/><stop offset="0.4911" stop-color="#1d1d1d"/><stop offset="0.5089" stop-color="#060606"/><stop offset="0.5268" stop-color="#2f2f2f"/><stop offset="0.5446" stop-color="#808080"/><stop offset="0.5625" stop-color="#3c3c3c"/><stop offset="0.5804" stop-color="#808080"/><stop offset="0.5982" stop-color="#2f2f2f"/><stop offset="0.6161" stop-color="#808080"/><stop offset="0.6339" stop-color="#666666"/><stop offset="0.6518" stop-color="#3c3c3c"/><stop offset="0.6696" stop-color="#666666"/><stop offset="0.6875" stop-color="#666666"/><stop offset="0.7054" stop-color="#808080"/><stop offset="0.7232" stop-color="#525252"/><stop offset="0.7411" stop-color="#0e0e0e"/><stop offset="0.7589" stop-color="#060606"/><stop offset="0.7768" stop-color="#0e0e0e"/><stop offset="0.7946" stop-color="#666666"/><stop offset="0.8125" stop-color="#2f2f2f"/><stop offset="0.8304" stop-color="#1d1d1d"/><stop offset="0.8482" stop-color="#525252"/><stop offset="0.8661" stop-color="#2f2f2f"/><stop offset="0.8839" stop-color="#1d1d1d"/><stop offset="0.9018" stop-color="#1d1d1d"/><stop offset="0.9196" stop-color="#525252"/><stop offset="0.9375" stop-color="#666666"/><stop offset="0.9554" stop-color="#666666"/><stop offset="0.9732" stop-color="#525252"/><stop offset="0.9911" stop-color="#2f2f2f"/></linearGradient>
<linearGradient id="hg16" gradientUnits="userSpaceOnUse" x1="64.0" y1="0" x2="572.0" y2="0"><stop offset="0.0089" stop-color="#bfbfbf"/><stop offset="0.0268" stop-color="#ebebeb"/><stop offset="0.0446" stop-color="#ebebeb"/><stop offset="0.0625" stop-color="#808080"/><stop offset="0.0804" stop-color="#3c3c3c"/><stop offset="0.0982" stop-color="#666666"/><stop offset="0.1161" stop-color="#525252"/><stop offset="0.1339" stop-color="#3c3c3c"/><stop offset="0.1518" stop-color="#525252"/><stop offset="0.1696" stop-color="#949494"/><stop offset="0.1875" stop-color="#949494"/><stop offset="0.2054" stop-color="#525252"/><stop offset="0.2232" stop-color="#666666"/><stop offset="0.2411" stop-color="#525252"/><stop offset="0.2589" stop-color="#d1d1d1"/><stop offset="0.2768" stop-color="#3c3c3c"/><stop offset="0.2946" stop-color="#525252"/><stop offset="0.3125" stop-color="#0e0e0e"/><stop offset="0.3304" stop-color="#0e0e0e"/><stop offset="0.3482" stop-color="#1d1d1d"/><stop offset="0.3661" stop-color="#1d1d1d"/><stop offset="0.3839" stop-color="#1d1d1d"/><stop offset="0.4018" stop-color="#0e0e0e"/><stop offset="0.4196" stop-color="#0e0e0e"/><stop offset="0.4375" stop-color="#060606"/><stop offset="0.4554" stop-color="#1d1d1d"/><stop offset="0.4732" stop-color="#666666"/><stop offset="0.4911" stop-color="#0e0e0e"/><stop offset="0.5089" stop-color="#060606"/><stop offset="0.5268" stop-color="#2f2f2f"/><stop offset="0.5446" stop-color="#adadad"/><stop offset="0.5625" stop-color="#3c3c3c"/><stop offset="0.5804" stop-color="#808080"/><stop offset="0.5982" stop-color="#3c3c3c"/><stop offset="0.6161" stop-color="#666666"/><stop offset="0.6339" stop-color="#2f2f2f"/><stop offset="0.6518" stop-color="#808080"/><stop offset="0.6696" stop-color="#808080"/><stop offset="0.6875" stop-color="#949494"/><stop offset="0.7054" stop-color="#bfbfbf"/><stop offset="0.7232" stop-color="#666666"/><stop offset="0.7411" stop-color="#0e0e0e"/><stop offset="0.7589" stop-color="#0e0e0e"/><stop offset="0.7768" stop-color="#1d1d1d"/><stop offset="0.7946" stop-color="#666666"/><stop offset="0.8125" stop-color="#2f2f2f"/><stop offset="0.8304" stop-color="#1d1d1d"/><stop offset="0.8482" stop-color="#666666"/><stop offset="0.8661" stop-color="#2f2f2f"/><stop offset="0.8839" stop-color="#1d1d1d"/><stop offset="0.9018" stop-color="#2f2f2f"/><stop offset="0.9196" stop-color="#525252"/><stop offset="0.9375" stop-color="#525252"/><stop offset="0.9554" stop-color="#808080"/><stop offset="0.9732" stop-color="#666666"/><stop offset="0.9911" stop-color="#3c3c3c"/></linearGradient>
<linearGradient id="hg17" gradientUnits="userSpaceOnUse" x1="64.0" y1="0" x2="572.0" y2="0"><stop offset="0.0089" stop-color="#808080"/><stop offset="0.0268" stop-color="#808080"/><stop offset="0.0446" stop-color="#808080"/><stop offset="0.0625" stop-color="#525252"/><stop offset="0.0804" stop-color="#3c3c3c"/><stop offset="0.0982" stop-color="#525252"/><stop offset="0.1161" stop-color="#525252"/><stop offset="0.1339" stop-color="#3c3c3c"/><stop offset="0.1518" stop-color="#3c3c3c"/><stop offset="0.1696" stop-color="#666666"/><stop offset="0.1875" stop-color="#666666"/><stop offset="0.2054" stop-color="#1d1d1d"/><stop offset="0.2232" stop-color="#525252"/><stop offset="0.2411" stop-color="#3c3c3c"/><stop offset="0.2589" stop-color="#666666"/><stop offset="0.2768" stop-color="#1d1d1d"/><stop offset="0.2946" stop-color="#3c3c3c"/><stop offset="0.3125" stop-color="#060606"/><stop offset="0.3304" stop-color="#0e0e0e"/><stop offset="0.3482" stop-color="#1d1d1d"/><stop offset="0.3661" stop-color="#1d1d1d"/><stop offset="0.3839" stop-color="#1d1d1d"/><stop offset="0.4018" stop-color="#0e0e0e"/><stop offset="0.4196" stop-color="#060606"/><stop offset="0.4375" stop-color="#060606"/><stop offset="0.4554" stop-color="#1d1d1d"/><stop offset="0.4732" stop-color="#525252"/><stop offset="0.4911" stop-color="#0e0e0e"/><stop offset="0.5089" stop-color="#0e0e0e"/><stop offset="0.5268" stop-color="#3c3c3c"/><stop offset="0.5446" stop-color="#808080"/><stop offset="0.5625" stop-color="#3c3c3c"/><stop offset="0.5804" stop-color="#525252"/><stop offset="0.5982" stop-color="#3c3c3c"/><stop offset="0.6161" stop-color="#525252"/><stop offset="0.6339" stop-color="#2f2f2f"/><stop offset="0.6518" stop-color="#666666"/><stop offset="0.6696" stop-color="#666666"/><stop offset="0.6875" stop-color="#666666"/><stop offset="0.7054" stop-color="#949494"/><stop offset="0.7232" stop-color="#666666"/><stop offset="0.7411" stop-color="#1d1d1d"/><stop offset="0.7589" stop-color="#1d1d1d"/><stop offset="0.7768" stop-color="#3c3c3c"/><stop offset="0.7946" stop-color="#666666"/><stop offset="0.8125" stop-color="#2f2f2f"/><stop offset="0.8304" stop-color="#1d1d1d"/><stop offset="0.8482" stop-color="#1d1d1d"/><stop offset="0.8661" stop-color="#1d1d1d"/><stop offset="0.8839" stop-color="#1d1d1d"/><stop offset="0.9018" stop-color="#3c3c3c"/><stop offset="0.9196" stop-color="#525252"/><stop offset="0.9375" stop-color="#3c3c3c"/><stop offset="0.9554" stop-color="#3c3c3c"/><stop offset="0.9732" stop-color="#3c3c3c"/><stop offset="0.9911" stop-color="#3c3c3c"/></linearGradient>
<linearGradient id="hg18" gradientUnits="userSpaceOnUse" x1="64.0" y1="0" x2="572.0" y2="0"><stop offset="0.0089" stop-color="#3c3c3c"/><stop offset="0.0268" stop-color="#3c3c3c"/><stop offset="0.0446" stop-color="#3c3c3c"/><stop offset="0.0625" stop-color="#2f2f2f"/><stop offset="0.0804" stop-color="#2f2f2f"/><stop offset="0.0982" stop-color="#3c3c3c"/><stop offset="0.1161" stop-color="#2f2f2f"/><stop offset="0.1339" stop-color="#2f2f2f"/><stop offset="0.1518" stop-color="#3c3c3c"/><stop offset="0.1696" stop-color="#3c3c3c"/><stop offset="0.1875" stop-color="#3c3c3c"/><stop offset="0.2054" stop-color="#0e0e0e"/><stop offset="0.2232" stop-color="#2f2f2f"/><stop offset="0.2411" stop-color="#2f2f2f"/><stop offset="0.2589" stop-color="#060606"/><stop offset="0.2768" stop-color="#1d1d1d"/><stop offset="0.2946" stop-color="#2f2f2f"/><stop offset="0.3125" stop-color="#000000"/><stop offset="0.3304" stop-color="#0e0e0e"/><stop offset="0.3482" stop-color="#1d1d1d"/><stop offset="0.3661" stop-color="#1d1d1d"/><stop offset="0.3839" stop-color="#1d1d1d"/><stop offset="0.4018" stop-color="#0e0e0e"/><stop offset="0.4196" stop-color="#060606"/><stop offset="0.4375" stop-color="#060606"/><stop offset="0.4554" stop-color="#0e0e0e"/><stop offset="0.4732" stop-color="#3c3c3c"/><stop offset="0.4911" stop-color="#0e0e0e"/><stop offset="0.5089" stop-color="#1d1d1d"/><stop offset="0.5268" stop-color="#3c3c3c"/><stop offset="0.5446" stop-color="#3c3c3c"/><stop offset="0.5625" stop-color="#3c3c3c"/><stop offset="0.5804" stop-color="#3c3c3c"/><stop offset="0.5982" stop-color="#525252"/><stop offset="0.6161" stop-color="#3c3c3c"/><stop offset="0.6339" stop-color="#2f2f2f"/><stop offset="0.6518" stop-color="#2f2f2f"/><stop offset="0.6696" stop-color="#2f2f2f"/><stop offset="0.6875" stop-color="#3c3c3c"/><stop offset="0.7054" stop-color="#808080"/><stop offset="0.7232" stop-color="#525252"/><stop offset="0.7411" stop-color="#1d1d1d"/><stop offset="0.7589" stop-color="#525252"/><stop offset="0.7768" stop-color="#525252"/><stop offset="0.7946" stop-color="#525252"/><stop offset="0.8125" stop-color="#525252"/><stop offset="0.8304" stop-color="#2f2f2f"/><stop offset="0.8482" stop-color="#1d1d1d"/><stop offset="0.8661" stop-color="#1d1d1d"/><stop offset="0.8839" stop-color="#3c3c3c"/><stop offset="0.9018" stop-color="#666666"/><stop offset="0.9196" stop-color="#525252"/><stop offset="0.9375" stop-color="#2f2f2f"/><stop offset="0.9554" stop-color="#1d1d1d"/><stop offset="0.9732" stop-color="#3c3c3c"/><stop offset="0.9911" stop-color="#2f2f2f"/></linearGradient>
<linearGradient id="hg19" gradientUnits="userSpaceOnUse" x1="64.0" y1="0" x2="572.0" y2="0"><stop offset="0.0089" stop-color="#1d1d1d"/><stop offset="0.0268" stop-color="#0e0e0e"/><stop offset="0.0446" stop-color="#0e0e0e"/><stop offset="0.0625" stop-color="#0e0e0e"/><stop offset="0.0804" stop-color="#3c3c3c"/><stop offset="0.0982" stop-color="#0e0e0e"/><stop offset="0.1161" stop-color="#1d1d1d"/><stop offset="0.1339" stop-color="#525252"/><stop offset="0.1518" stop-color="#3c3c3c"/><stop offset="0.1696" stop-color="#1d1d1d"/><stop offset="0.1875" stop-color="#1d1d1d"/><stop offset="0.2054" stop-color="#060606"/><stop offset="0.2232" stop-color="#1d1d1d"/><stop offset="0.2411" stop-color="#1d1d1d"/><stop offset="0.2589" stop-color="#000000"/><stop offset="0.2768" stop-color="#3c3c3c"/><stop offset="0.2946" stop-color="#525252"/><stop offset="0.3125" stop-color="#060606"/><stop offset="0.3304" stop-color="#0e0e0e"/><stop offset="0.3482" stop-color="#1d1d1d"/><stop offset="0.3661" stop-color="#2f2f2f"/><stop offset="0.3839" stop-color="#1d1d1d"/><stop offset="0.4018" stop-color="#0e0e0e"/><stop offset="0.4196" stop-color="#060606"/><stop offset="0.4375" stop-color="#060606"/><stop offset="0.4554" stop-color="#0e0e0e"/><stop offset="0.4732" stop-color="#1d1d1d"/><stop offset="0.4911" stop-color="#0e0e0e"/><stop offset="0.5089" stop-color="#2f2f2f"/><stop offset="0.5268" stop-color="#525252"/><stop offset="0.5446" stop-color="#2f2f2f"/><stop offset="0.5625" stop-color="#3c3c3c"/><stop offset="0.5804" stop-color="#525252"/><stop offset="0.5982" stop-color="#525252"/><stop offset="0.6161" stop-color="#3c3c3c"/><stop offset="0.6339" stop-color="#2f2f2f"/><stop offset="0.6518" stop-color="#2f2f2f"/><stop offset="0.6696" stop-color="#2f2f2f"/><stop offset="0.6875" stop-color="#2f2f2f"/><stop offset="0.7054" stop-color="#525252"/><stop offset="0.7232" stop-color="#3c3c3c"/><stop offset="0.7411" stop-color="#2f2f2f"/><stop offset="0.7589" stop-color="#666666"/><stop offset="0.7768" stop-color="#3c3c3c"/><stop offset="0.7946" stop-color="#2f2f2f"/><stop offset="0.8125" stop-color="#666666"/><stop offset="0.8304" stop-color="#2f2f2f"/><stop offset="0.8482" stop-color="#1d1d1d"/><stop offset="0.8661" stop-color="#1d1d1d"/><stop offset="0.8839" stop-color="#3c3c3c"/><stop offset="0.9018" stop-color="#949494"/><stop offset="0.9196" stop-color="#525252"/><stop offset="0.9375" stop-color="#2f2f2f"/><stop offset="0.9554" stop-color="#1d1d1d"/><stop offset="0.9732" stop-color="#3c3c3c"/><stop offset="0.9911" stop-color="#2f2f2f"/></linearGradient>
<linearGradient id="hg20" gradientUnits="userSpaceOnUse" x1="64.0" y1="0" x2="572.0" y2="0"><stop offset="0.0089" stop-color="#060606"/><stop offset="0.0268" stop-color="#060606"/><stop offset="0.0446" stop-color="#0e0e0e"/><stop offset="0.0625" stop-color="#0e0e0e"/><stop offset="0.0804" stop-color="#3c3c3c"/><stop offset="0.0982" stop-color="#0e0e0e"/><stop offset="0.1161" stop-color="#0e0e0e"/><stop offset="0.1339" stop-color="#3c3c3c"/><stop offset="0.1518" stop-color="#2f2f2f"/><stop offset="0.1696" stop-color="#0e0e0e"/><stop offset="0.1875" stop-color="#0e0e0e"/><stop offset="0.2054" stop-color="#060606"/><stop offset="0.2232" stop-color="#1d1d1d"/><stop offset="0.2411" stop-color="#0e0e0e"/><stop offset="0.2589" stop-color="#000000"/><stop offset="0.2768" stop-color="#3c3c3c"/><stop offset="0.2946" stop-color="#525252"/><stop offset="0.3125" stop-color="#060606"/><stop offset="0.3304" stop-color="#0e0e0e"/><stop offset="0.3482" stop-color="#1d1d1d"/><stop offset="0.3661" stop-color="#1d1d1d"/><stop offset="0.3839" stop-color="#0e0e0e"/><stop offset="0.4018" stop-color="#0e0e0e"/><stop offset="0.4196" stop-color="#060606"/><stop offset="0.4375" stop-color="#060606"/><stop offset="0.4554" stop-color="#0e0e0e"/><stop offset="0.4732" stop-color="#0e0e0e"/><stop offset="0.4911" stop-color="#1d1d1d"/><stop offset="0.5089" stop-color="#3c3c3c"/><stop offset="0.5268" stop-color="#3c3c3c"/><stop offset="0.5446" stop-color="#0e0e0e"/><stop offset="0.5625" stop-color="#3c3c3c"/><stop offset="0.5804" stop-color="#666666"/><stop offset="0.5982" stop-color="#525252"/><stop offset="0.6161" stop-color="#3c3c3c"/><stop offset="0.6339" stop-color="#2f2f2f"/><stop offset="0.6518" stop-color="#2f2f2f"/><stop offset="0.6696" stop-color="#1d1d1d"/><stop offset="0.6875" stop-color="#2f2f2f"/><stop offset="0.7054" stop-color="#2f2f2f"/><stop offset="0.7232" stop-color="#2f2f2f"/><stop offset="0.7411" stop-color="#3c3c3c"/><stop offset="0.7589" stop-color="#808080"/><stop offset="0.7768" stop-color="#3c3c3c"/><stop offset="0.7946" stop-color="#1d1d1d"/><stop offset="0.8125" stop-color="#525252"/><stop offset="0.8304" stop-color="#2f2f2f"/><stop offset="0.8482" stop-color="#1d1d1d"/><stop offset="0.8661" stop-color="#1d1d1d"/><stop offset="0.8839" stop-color="#3c3c3c"/><stop offset="0.9018" stop-color="#808080"/><stop offset="0.9196" stop-color="#525252"/><stop offset="0.9375" stop-color="#1d1d1d"/><stop offset="0.9554" stop-color="#0e0e0e"/><stop offset="0.9732" stop-color="#2f2f2f"/><stop offset="0.9911" stop-color="#2f2f2f"/></linearGradient>
<linearGradient id="hg21" gradientUnits="userSpaceOnUse" x1="64.0" y1="0" x2="572.0" y2="0"><stop offset="0.0089" stop-color="#060606"/><stop offset="0.0268" stop-color="#000000"/><stop offset="0.0446" stop-color="#060606"/><stop offset="0.0625" stop-color="#0e0e0e"/><stop offset="0.0804" stop-color="#2f2f2f"/><stop offset="0.0982" stop-color="#0e0e0e"/><stop offset="0.1161" stop-color="#0e0e0e"/><stop offset="0.1339" stop-color="#1d1d1d"/><stop offset="0.1518" stop-color="#1d1d1d"/><stop offset="0.1696" stop-color="#1d1d1d"/><stop offset="0.1875" stop-color="#060606"/><stop offset="0.2054" stop-color="#060606"/><stop offset="0.2232" stop-color="#2f2f2f"/><stop offset="0.2411" stop-color="#0e0e0e"/><stop offset="0.2589" stop-color="#060606"/><stop offset="0.2768" stop-color="#0e0e0e"/><stop offset="0.2946" stop-color="#1d1d1d"/><stop offset="0.3125" stop-color="#060606"/><stop offset="0.3304" stop-color="#3c3c3c"/><stop offset="0.3482" stop-color="#0e0e0e"/><stop offset="0.3661" stop-color="#0e0e0e"/><stop offset="0.3839" stop-color="#0e0e0e"/><stop offset="0.4018" stop-color="#0e0e0e"/><stop offset="0.4196" stop-color="#060606"/><stop offset="0.4375" stop-color="#060606"/><stop offset="0.4554" stop-color="#060606"/><stop offset="0.4732" stop-color="#0e0e0e"/><stop offset="0.4911" stop-color="#2f2f2f"/><stop offset="0.5089" stop-color="#3c3c3c"/><stop offset="0.5268" stop-color="#2f2f2f"/><stop offset="0.5446" stop-color="#060606"/><stop offset="0.5625" stop-color="#2f2f2f"/><stop offset="0.5804" stop-color="#525252"/><stop offset="0.5982" stop-color="#3c3c3c"/><stop offset="0.6161" stop-color="#2f2f2f"/><stop offset="0.6339" stop-color="#2f2f2f"/><stop offset="0.6518" stop-color="#1d1d1d"/><stop offset="0.6696" stop-color="#1d1d1d"/><stop offset="0.6875" stop-color="#2f2f2f"/><stop offset="0.7054" stop-color="#1d1d1d"/><stop offset="0.7232" stop-color="#1d1d1d"/><stop offset="0.7411" stop-color="#525252"/><stop offset="0.7589" stop-color="#808080"/><stop offset="0.7768" stop-color="#2f2f2f"/><stop offset="0.7946" stop-color="#0e0e0e"/><stop offset="0.8125" stop-color="#2f2f2f"/><stop offset="0.8304" stop-color="#2f2f2f"/><stop offset="0.8482" stop-color="#1d1d1d"/><stop offset="0.8661" stop-color="#0e0e0e"/><stop offset="0.8839" stop-color="#3c3c3c"/><stop offset="0.9018" stop-color="#666666"/><stop offset="0.9196" stop-color="#3c3c3c"/><stop offset="0.9375" stop-color="#1d1d1d"/><stop offset="0.9554" stop-color="#0e0e0e"/><stop offset="0.9732" stop-color="#2f2f2f"/><stop offset="0.9911" stop-color="#2f2f2f"/></linearGradient>
<linearGradient id="hg22" gradientUnits="userSpaceOnUse" x1="64.0" y1="0" x2="572.0" y2="0"><stop offset="0.0089" stop-color="#000000"/><stop offset="0.0268" stop-color="#000000"/><stop offset="0.0446" stop-color="#000000"/><stop offset="0.0625" stop-color="#060606"/><stop offset="0.0804" stop-color="#1d1d1d"/><stop offset="0.0982" stop-color="#0e0e0e"/><stop offset="0.1161" stop-color="#0e0e0e"/><stop offset="0.1339" stop-color="#0e0e0e"/><stop offset="0.1518" stop-color="#1d1d1d"/><stop offset="0.1696" stop-color="#1d1d1d"/><stop offset="0.1875" stop-color="#060606"/><stop offset="0.2054" stop-color="#060606"/><stop offset="0.2232" stop-color="#1d1d1d"/><stop offset="0.2411" stop-color="#0e0e0e"/><stop offset="0.2589" stop-color="#060606"/><stop offset="0.2768" stop-color="#0e0e0e"/><stop offset="0.2946" stop-color="#0e0e0e"/><stop offset="0.3125" stop-color="#060606"/><stop offset="0.3304" stop-color="#3c3c3c"/><stop offset="0.3482" stop-color="#0e0e0e"/><stop offset="0.3661" stop-color="#060606"/><stop offset="0.3839" stop-color="#060606"/><stop offset="0.4018" stop-color="#0e0e0e"/><stop offset="0.4196" stop-color="#060606"/><stop offset="0.4375" stop-color="#060606"/><stop offset="0.4554" stop-color="#060606"/><stop offset="0.4732" stop-color="#0e0e0e"/><stop offset="0.4911" stop-color="#3c3c3c"/><stop offset="0.5089" stop-color="#3c3c3c"/><stop offset="0.5268" stop-color="#1d1d1d"/><stop offset="0.5446" stop-color="#060606"/><stop offset="0.5625" stop-color="#2f2f2f"/><stop offset="0.5804" stop-color="#2f2f2f"/><stop offset="0.5982" stop-color="#2f2f2f"/><stop offset="0.6161" stop-color="#1d1d1d"/><stop offset="0.6339" stop-color="#2f2f2f"/><stop offset="0.6518" stop-color="#1d1d1d"/><stop offset="0.6696" stop-color="#1d1d1d"/><stop offset="0.6875" stop-color="#1d1d1d"/><stop offset="0.7054" stop-color="#1d1d1d"/><stop offset="0.7232" stop-color="#1d1d1d"/><stop offset="0.7411" stop-color="#525252"/><stop offset="0.7589" stop-color="#525252"/><stop offset="0.7768" stop-color="#2f2f2f"/><stop offset="0.7946" stop-color="#0e0e0e"/><stop offset="0.8125" stop-color="#1d1d1d"/><stop offset="0.8304" stop-color="#2f2f2f"/><stop offset="0.8482" stop-color="#1d1d1d"/><stop offset="0.8661" stop-color="#0e0e0e"/><stop offset="0.8839" stop-color="#2f2f2f"/><stop offset="0.9018" stop-color="#525252"/><stop offset="0.9196" stop-color="#3c3c3c"/><stop offset="0.9375" stop-color="#1d1d1d"/><stop offset="0.9554" stop-color="#060606"/><stop offset="0.9732" stop-color="#1d1d1d"/><stop offset="0.9911" stop-color="#1d1d1d"/></linearGradient>
<linearGradient id="hg23" gradientUnits="userSpaceOnUse" x1="64.0" y1="0" x2="572.0" y2="0"><stop offset="0.0089" stop-color="#000000"/><stop offset="0.0268" stop-color="#000000"/><stop offset="0.0446" stop-color="#000000"/><stop offset="0.0625" stop-color="#060606"/><stop offset="0.0804" stop-color="#0e0e0e"/><stop offset="0.0982" stop-color="#0e0e0e"/><stop offset="0.1161" stop-color="#0e0e0e"/><stop offset="0.1339" stop-color="#060606"/><stop offset="0.1518" stop-color="#0e0e0e"/><stop offset="0.1696" stop-color="#0e0e0e"/><stop offset="0.1875" stop-color="#060606"/><stop offset="0.2054" stop-color="#060606"/><stop offset="0.2232" stop-color="#0e0e0e"/><stop offset="0.2411" stop-color="#060606"/><stop offset="0.2589" stop-color="#060606"/><stop offset="0.2768" stop-color="#0e0e0e"/><stop offset="0.2946" stop-color="#0e0e0e"/><stop offset="0.3125" stop-color="#060606"/><stop offset="0.3304" stop-color="#3c3c3c"/><stop offset="0.3482" stop-color="#0e0e0e"/><stop offset="0.3661" stop-color="#000000"/><stop offset="0.3839" stop-color="#060606"/><stop offset="0.4018" stop-color="#0e0e0e"/><stop offset="0.4196" stop-color="#060606"/><stop offset="0.4375" stop-color="#060606"/><stop offset="0.4554" stop-color="#0e0e0e"/><stop offset="0.4732" stop-color="#0e0e0e"/><stop offset="0.4911" stop-color="#3c3c3c"/><stop offset="0.5089" stop-color="#3c3c3c"/><stop offset="0.5268" stop-color="#1d1d1d"/><stop offset="0.5446" stop-color="#060606"/><stop offset="0.5625" stop-color="#1d1d1d"/><stop offset="0.5804" stop-color="#1d1d1d"/><stop offset="0.5982" stop-color="#1d1d1d"/><stop offset="0.6161" stop-color="#060606"/><stop offset="0.6339" stop-color="#3c3c3c"/><stop offset="0.6518" stop-color="#1d1d1d"/><stop offset="0.6696" stop-color="#1d1d1d"/><stop offset="0.6875" stop-color="#0e0e0e"/><stop offset="0.7054" stop-color="#1d1d1d"/><stop offset="0.7232" stop-color="#1d1d1d"/><stop offset="0.7411" stop-color="#3c3c3c"/><stop offset="0.7589" stop-color="#3c3c3c"/><stop offset="0.7768" stop-color="#1d1d1d"/><stop offset="0.7946" stop-color="#060606"/><stop offset="0.8125" stop-color="#1d1d1d"/><stop offset="0.8304" stop-color="#2f2f2f"/><stop offset="0.8482" stop-color="#1d1d1d"/><stop offset="0.8661" stop-color="#0e0e0e"/><stop offset="0.8839" stop-color="#2f2f2f"/><stop offset="0.9018" stop-color="#3c3c3c"/><stop offset="0.9196" stop-color="#2f2f2f"/><stop offset="0.9375" stop-color="#1d1d1d"/><stop offset="0.9554" stop-color="#060606"/><stop offset="0.9732" stop-color="#1d1d1d"/><stop offset="0.9911" stop-color="#1d1d1d"/></linearGradient>
<linearGradient id="hg24" gradientUnits="userSpaceOnUse" x1="64.0" y1="0" x2="572.0" y2="0"><stop offset="0.0089" stop-color="#000000"/><stop offset="0.0268" stop-color="#000000"/><stop offset="0.0446" stop-color="#000000"/><stop offset="0.0625" stop-color="#000000"/><stop offset="0.0804" stop-color="#0e0e0e"/><stop offset="0.0982" stop-color="#0e0e0e"/><stop offset="0.1161" stop-color="#0e0e0e"/><stop offset="0.1339" stop-color="#060606"/><stop offset="0.1518" stop-color="#0e0e0e"/><stop offset="0.1696" stop-color="#060606"/><stop offset="0.1875" stop-color="#000000"/><stop offset="0.2054" stop-color="#060606"/><stop offset="0.2232" stop-color="#0e0e0e"/><stop offset="0.2411" stop-color="#060606"/><stop offset="0.2589" stop-color="#060606"/><stop offset="0.2768" stop-color="#0e0e0e"/><stop offset="0.2946" stop-color="#060606"/><stop offset="0.3125" stop-color="#060606"/><stop offset="0.3304" stop-color="#060606"/><stop offset="0.3482" stop-color="#060606"/><stop offset="0.3661" stop-color="#000000"/><stop offset="0.3839" stop-color="#060606"/><stop offset="0.4018" stop-color="#0e0e0e"/><stop offset="0.4196" stop-color="#060606"/><stop offset="0.4375" stop-color="#060606"/><stop offset="0.4554" stop-color="#1d1d1d"/><stop offset="0.4732" stop-color="#0e0e0e"/><stop offset="0.4911" stop-color="#3c3c3c"/><stop offset="0.5089" stop-color="#3c3c3c"/><stop offset="0.5268" stop-color="#3c3c3c"/><stop offset="0.5446" stop-color="#1d1d1d"/><stop offset="0.5625" stop-color="#1d1d1d"/><stop offset="0.5804" stop-color="#1d1d1d"/><stop offset="0.5982" stop-color="#0e0e0e"/><stop offset="0.6161" stop-color="#060606"/><stop offset="0.6339" stop-color="#525252"/><stop offset="0.6518" stop-color="#1d1d1d"/><stop offset="0.6696" stop-color="#0e0e0e"/><stop offset="0.6875" stop-color="#0e0e0e"/><stop offset="0.7054" stop-color="#1d1d1d"/><stop offset="0.7232" stop-color="#0e0e0e"/><stop offset="0.7411" stop-color="#1d1d1d"/><stop offset="0.7589" stop-color="#525252"/><stop offset="0.7768" stop-color="#1d1d1d"/><stop offset="0.7946" stop-color="#060606"/><stop offset="0.8125" stop-color="#1d1d1d"/><stop offset="0.8304" stop-color="#2f2f2f"/><stop offset="0.8482" stop-color="#2f2f2f"/><stop offset="0.8661" stop-color="#0e0e0e"/><stop offset="0.8839" stop-color="#1d1d1d"/><stop offset="0.9018" stop-color="#2f2f2f"/><stop offset="0.9196" stop-color="#1d1d1d"/><stop offset="0.9375" stop-color="#1d1d1d"/><stop offset="0.9554" stop-color="#060606"/><stop offset="0.9732" stop-color="#1d1d1d"/><stop offset="0.9911" stop-color="#2f2f2f"/></linearGradient>
<linearGradient id="hg25" gradientUnits="userSpaceOnUse" x1="64.0" y1="0" x2="572.0" y2="0"><stop offset="0.0089" stop-color="#000000"/><stop offset="0.0268" stop-color="#000000"/><stop offset="0.0446" stop-color="#000000"/><stop offset="0.0625" stop-color="#000000"/><stop offset="0.0804" stop-color="#0e0e0e"/><stop offset="0.0982" stop-color="#0e0e0e"/><stop offset="0.1161" stop-color="#0e0e0e"/><stop offset="0.1339" stop-color="#0e0e0e"/><stop offset="0.1518" stop-color="#1d1d1d"/><stop offset="0.1696" stop-color="#060606"/><stop offset="0.1875" stop-color="#000000"/><stop offset="0.2054" stop-color="#0e0e0e"/><stop offset="0.2232" stop-color="#0e0e0e"/><stop offset="0.2411" stop-color="#060606"/><stop offset="0.2589" stop-color="#060606"/><stop offset="0.2768" stop-color="#0e0e0e"/><stop offset="0.2946" stop-color="#060606"/><stop offset="0.3125" stop-color="#000000"/><stop offset="0.3304" stop-color="#0e0e0e"/><stop offset="0.3482" stop-color="#060606"/><stop offset="0.3661" stop-color="#000000"/><stop offset="0.3839" stop-color="#0e0e0e"/><stop offset="0.4018" stop-color="#0e0e0e"/><stop offset="0.4196" stop-color="#060606"/><stop offset="0.4375" stop-color="#060606"/><stop offset="0.4554" stop-color="#3c3c3c"/><stop offset="0.4732" stop-color="#0e0e0e"/><stop offset="0.4911" stop-color="#3c3c3c"/><stop offset="0.5089" stop-color="#3c3c3c"/><stop offset="0.5268" stop-color="#3c3c3c"/><stop offset="0.5446" stop-color="#1d1d1d"/><stop offset="0.5625" stop-color="#1d1d1d"/><stop offset="0.5804" stop-color="#1d1d1d"/><stop offset="0.5982" stop-color="#0e0e0e"/><stop offset="0.6161" stop-color="#0e0e0e"/><stop offset="0.6339" stop-color="#525252"/><stop offset="0.6518" stop-color="#1d1d1d"/><stop offset="0.6696" stop-color="#060606"/><stop offset="0.6875" stop-color="#0e0e0e"/><stop offset="0.7054" stop-color="#1d1d1d"/><stop offset="0.7232" stop-color="#0e0e0e"/><stop offset="0.7411" stop-color="#1d1d1d"/><stop offset="0.7589" stop-color="#666666"/><stop offset="0.7768" stop-color="#1d1d1d"/><stop offset="0.7946" stop-color="#0e0e0e"/><stop offset="0.8125" stop-color="#2f2f2f"/><stop offset="0.8304" stop-color="#2f2f2f"/><stop offset="0.8482" stop-color="#2f2f2f"/><stop offset="0.8661" stop-color="#0e0e0e"/><stop offset="0.8839" stop-color="#1d1d1d"/><stop offset="0.9018" stop-color="#1d1d1d"/><stop offset="0.9196" stop-color="#1d1d1d"/><stop offset="0.9375" stop-color="#0e0e0e"/><stop offset="0.9554" stop-color="#0e0e0e"/><stop offset="0.9732" stop-color="#3c3c3c"/><stop offset="0.9911" stop-color="#666666"/></linearGradient>
<linearGradient id="hg26" gradientUnits="userSpaceOnUse" x1="64.0" y1="0" x2="572.0" y2="0"><stop offset="0.0089" stop-color="#000000"/><stop offset="0.0268" stop-color="#000000"/><stop offset="0.0446" stop-color="#000000"/><stop offset="0.0625" stop-color="#000000"/><stop offset="0.0804" stop-color="#060606"/><stop offset="0.0982" stop-color="#0e0e0e"/><stop offset="0.1161" stop-color="#0e0e0e"/><stop offset="0.1339" stop-color="#0e0e0e"/><stop offset="0.1518" stop-color="#0e0e0e"/><stop offset="0.1696" stop-color="#060606"/><stop offset="0.1875" stop-color="#000000"/><stop offset="0.2054" stop-color="#060606"/><stop offset="0.2232" stop-color="#060606"/><stop offset="0.2411" stop-color="#000000"/><stop offset="0.2589" stop-color="#060606"/><stop offset="0.2768" stop-color="#060606"/><stop offset="0.2946" stop-color="#060606"/><stop offset="0.3125" stop-color="#000000"/><stop offset="0.3304" stop-color="#060606"/><stop offset="0.3482" stop-color="#060606"/><stop offset="0.3661" stop-color="#000000"/><stop offset="0.3839" stop-color="#0e0e0e"/><stop offset="0.4018" stop-color="#060606"/><stop offset="0.4196" stop-color="#060606"/><stop offset="0.4375" stop-color="#060606"/><stop offset="0.4554" stop-color="#3c3c3c"/><stop offset="0.4732" stop-color="#0e0e0e"/><stop offset="0.4911" stop-color="#3c3c3c"/><stop offset="0.5089" stop-color="#3c3c3c"/><stop offset="0.5268" stop-color="#3c3c3c"/><stop offset="0.5446" stop-color="#1d1d1d"/><stop offset="0.5625" stop-color="#0e0e0e"/><stop offset="0.5804" stop-color="#0e0e0e"/><stop offset="0.5982" stop-color="#0e0e0e"/><stop offset="0.6161" stop-color="#0e0e0e"/><stop offset="0.6339" stop-color="#2f2f2f"/><stop offset="0.6518" stop-color="#0e0e0e"/><stop offset="0.6696" stop-color="#060606"/><stop offset="0.6875" stop-color="#0e0e0e"/><stop offset="0.7054" stop-color="#0e0e0e"/><stop offset="0.7232" stop-color="#0e0e0e"/><stop offset="0.7411" stop-color="#0e0e0e"/><stop offset="0.7589" stop-color="#666666"/><stop offset="0.7768" stop-color="#1d1d1d"/><stop offset="0.7946" stop-color="#0e0e0e"/><stop offset="0.8125" stop-color="#1d1d1d"/><stop offset="0.8304" stop-color="#1d1d1d"/><stop offset="0.8482" stop-color="#1d1d1d"/><stop offset="0.8661" stop-color="#0e0e0e"/><stop offset="0.8839" stop-color="#1d1d1d"/><stop offset="0.9018" stop-color="#1d1d1d"/><stop offset="0.9196" stop-color="#1d1d1d"/><stop offset="0.9375" stop-color="#0e0e0e"/><stop offset="0.9554" stop-color="#0e0e0e"/><stop offset="0.9732" stop-color="#3c3c3c"/><stop offset="0.9911" stop-color="#666666"/></linearGradient>
<linearGradient id="hg27" gradientUnits="userSpaceOnUse" x1="64.0" y1="0" x2="572.0" y2="0"><stop offset="0.0089" stop-color="#000000"/><stop offset="0.0268" stop-color="#000000"/><stop offset="0.0446" stop-color="#000000"/><stop offset="0.0625" stop-color="#000000"/><stop offset="0.0804" stop-color="#000000"/><stop offset="0.0982" stop-color="#060606"/><stop offset="0.1161" stop-color="#060606"/><stop offset="0.1339" stop-color="#060606"/><stop offset="0.1518" stop-color="#060606"/><stop offset="0.1696" stop-color="#000000"/><stop offset="0.1875" stop-color="#000000"/><stop offset="0.2054" stop-color="#000000"/><stop offset="0.2232" stop-color="#000000"/><stop offset="0.2411" stop-color="#000000"/><stop offset="0.2589" stop-color="#000000"/><stop offset="0.2768" stop-color="#060606"/><stop offset="0.2946" stop-color="#000000"/><stop offset="0.3125" stop-color="#000000"/><stop offset="0.3304" stop-color="#060606"/><stop offset="0.3482" stop-color="#060606"/><stop offset="0.3661" stop-color="#000000"/><stop offset="0.3839" stop-color="#060606"/><stop offset="0.4018" stop-color="#060606"/><stop offset="0.4196" stop-color="#060606"/><stop offset="0.4375" stop-color="#060606"/><stop offset="0.4554" stop-color="#1d1d1d"/><stop offset="0.4732" stop-color="#060606"/><stop offset="0.4911" stop-color="#2f2f2f"/><stop offset="0.5089" stop-color="#2f2f2f"/><stop offset="0.5268" stop-color="#2f2f2f"/><stop offset="0.5446" stop-color="#1d1d1d"/><stop offset="0.5625" stop-color="#0e0e0e"/><stop offset="0.5804" stop-color="#0e0e0e"/><stop offset="0.5982" stop-color="#0e0e0e"/><stop offset="0.6161" stop-color="#0e0e0e"/><stop offset="0.6339" stop-color="#1d1d1d"/><stop offset="0.6518" stop-color="#0e0e0e"/><stop offset="0.6696" stop-color="#060606"/><stop offset="0.6875" stop-color="#0e0e0e"/><stop offset="0.7054" stop-color="#0e0e0e"/><stop offset="0.7232" stop-color="#060606"/><stop offset="0.7411" stop-color="#0e0e0e"/><stop offset="0.7589" stop-color="#2f2f2f"/><stop offset="0.7768" stop-color="#0e0e0e"/><stop offset="0.7946" stop-color="#0e0e0e"/><stop offset="0.8125" stop-color="#0e0e0e"/><stop offset="0.8304" stop-color="#1d1d1d"/><stop offset="0.8482" stop-color="#1d1d1d"/><stop offset="0.8661" stop-color="#0e0e0e"/><stop offset="0.8839" stop-color="#1d1d1d"/><stop offset="0.9018" stop-color="#1d1d1d"/><stop offset="0.9196" stop-color="#1d1d1d"/><stop offset="0.9375" stop-color="#0e0e0e"/><stop offset="0.9554" stop-color="#0e0e0e"/><stop offset="0.9732" stop-color="#1d1d1d"/><stop offset="0.9911" stop-color="#2f2f2f"/></linearGradient>
<linearGradient id="vfade" x1="0" y1="0" x2="0" y2="1"><stop offset="0" stop-color="#fff" stop-opacity="0"/><stop offset="1" stop-color="#fff" stop-opacity="1"/></linearGradient>
<mask id="vm" maskContentUnits="objectBoundingBox" style="mask-type:alpha"><rect width="1" height="1" fill="url(#vfade)"/></mask>
<filter id="cm" color-interpolation-filters="sRGB" filterUnits="userSpaceOnUse" x="62.0" y="2.3" width="512.0" height="181.39999999999998"><feGaussianBlur in="SourceGraphic" stdDeviation="3 2.2" result="bl"/><feComposite in="SourceGraphic" in2="bl" operator="arithmetic" k1="0" k2="1.5" k3="-0.5" k4="0"/><feComponentTransfer><feFuncR type="table" tableValues="0.000 0.080 0.145 0.196 0.247 0.298 0.314 0.314 0.314 0.314 0.263 0.203 0.143 0.084 0.024 0.000 0.000 0.000 0.000 0.000 0.000 0.000 0.000 0.000 0.000 0.000 0.000 0.000 0.000 0.000 0.000 0.000 0.000 0.000 0.000 0.000 0.000 0.000 0.053 0.159 0.265 0.371 0.477 0.583 0.689 0.770 0.847 0.923 1.000 1.000 1.000 1.000 1.000 1.000 1.000 1.000 1.000 1.000 1.000 1.000 1.000 1.000 1.000 1.000 1.000"/><feFuncG type="table" tableValues="0.000 0.000 0.000 0.000 0.000 0.000 0.000 0.000 0.000 0.000 0.000 0.000 0.000 0.000 0.000 0.053 0.140 0.228 0.315 0.403 0.490 0.578 0.664 0.750 0.835 0.921 1.000 1.000 1.000 1.000 1.000 1.000 1.000 1.000 1.000 1.000 1.000 1.000 1.000 1.000 1.000 1.000 1.000 1.000 1.000 1.000 1.000 1.000 1.000 0.884 0.767 0.651 0.557 0.470 0.382 0.293 0.199 0.105 0.011 0.000 0.000 0.000 0.000 0.000 0.000"/><feFuncB type="table" tableValues="0.000 0.080 0.155 0.227 0.298 0.370 0.462 0.565 0.667 0.769 0.819 0.860 0.901 0.942 0.984 1.000 1.000 1.000 1.000 1.000 1.000 1.000 1.000 1.000 1.000 1.000 0.992 0.889 0.785 0.682 0.579 0.476 0.379 0.310 0.241 0.172 0.104 0.035 0.000 0.000 0.000 0.000 0.000 0.000 0.000 0.000 0.000 0.000 0.000 0.000 0.000 0.000 0.000 0.000 0.000 0.000 0.000 0.000 0.000 0.000 0.000 0.000 0.000 0.000 0.000"/></feComponentTransfer></filter>
<clipPath id="hclip"><rect x="64.0" y="4.3" width="508.0" height="177.39999999999998"/></clipPath>
</defs>
<g clip-path="url(#hclip)"><g filter="url(#cm)">
<rect x="62.0" y="2.3" width="512.0" height="181.39999999999998" fill="#000"/>
<rect x="63.0" y="0" width="510.0" height="7" fill="url(#hg0)"/>
<rect x="63.0" y="7" width="510.0" height="7" fill="url(#hg0)"/>
<rect x="63.0" y="7" width="510.0" height="7" fill="url(#hg1)" mask="url(#vm)"/>
<rect x="63.0" y="14" width="510.0" height="6" fill="url(#hg1)"/>
<rect x="63.0" y="14" width="510.0" height="6" fill="url(#hg2)" mask="url(#vm)"/>
<rect x="63.0" y="20" width="510.0" height="6" fill="url(#hg2)"/>
<rect x="63.0" y="20" width="510.0" height="6" fill="url(#hg3)" mask="url(#vm)"/>
<rect x="63.0" y="26" width="510.0" height="7" fill="url(#hg3)"/>
<rect x="63.0" y="26" width="510.0" height="7" fill="url(#hg4)" mask="url(#vm)"/>
<rect x="63.0" y="33" width="510.0" height="6" fill="url(#hg4)"/>
<rect x="63.0" y="33" width="510.0" height="6" fill="url(#hg5)" mask="url(#vm)"/>
<rect x="63.0" y="39" width="510.0" height="6" fill="url(#hg5)"/>
<rect x="63.0" y="39" width="510.0" height="6" fill="url(#hg6)" mask="url(#vm)"/>
<rect x="63.0" y="45" width="510.0" height="7" fill="url(#hg6)"/>
<rect x="63.0" y="45" width="510.0" height="7" fill="url(#hg7)" mask="url(#vm)"/>
<rect x="63.0" y="52" width="510.0" height="6" fill="url(#hg7)"/>
<rect x="63.0" y="52" width="510.0" height="6" fill="url(#hg8)" mask="url(#vm)"/>
<rect x="63.0" y="58" width="510.0" height="6" fill="url(#hg8)"/>
<rect x="63.0" y="58" width="510.0" height="6" fill="url(#hg9)" mask="url(#vm)"/>
<rect x="63.0" y="64" width="510.0" height="7" fill="url(#hg9)"/>
<rect x="63.0" y="64" width="510.0" height="7" fill="url(#hg10)" mask="url(#vm)"/>
<rect x="63.0" y="71" width="510.0" height="6" fill="url(#hg10)"/>
<rect x="63.0" y="71" width="510.0" height="6" fill="url(#hg11)" mask="url(#vm)"/>
<rect x="63.0" y="77" width="510.0" height="6" fill="url(#hg11)"/>
<rect x="63.0" y="77" width="510.0" height="6" fill="url(#hg12)" mask="url(#vm)"/>
<rect x="63.0" y="83" width="510.0" height="7" fill="url(#hg12)"/>
<rect x="63.0" y="83" width="510.0" height="7" fill="url(#hg13)" mask="url(#vm)"/>
<rect x="63.0" y="90" width="510.0" height="6" fill="url(#hg13)"/>
<rect x="63.0" y="90" width="510.0" height="6" fill="url(#hg14)" mask="url(#vm)"/>
<rect x="63.0" y="96" width="510.0" height="7" fill="url(#hg14)"/>
<rect x="63.0" y="96" width="510.0" height="7" fill="url(#hg15)" mask="url(#vm)"/>
<rect x="63.0" y="103" width="510.0" height="6" fill="url(#hg15)"/>
<rect x="63.0" y="103" width="510.0" height="6" fill="url(#hg16)" mask="url(#vm)"/>
<rect x="63.0" y="109" width="510.0" height="6" fill="url(#hg16)"/>
<rect x="63.0" y="109" width="510.0" height="6" fill="url(#hg17)" mask="url(#vm)"/>
<rect x="63.0" y="115" width="510.0" height="7" fill="url(#hg17)"/>
<rect x="63.0" y="115" width="510.0" height="7" fill="url(#hg18)" mask="url(#vm)"/>
<rect x="63.0" y="122" width="510.0" height="6" fill="url(#hg18)"/>
<rect x="63.0" y="122" width="510.0" height="6" fill="url(#hg19)" mask="url(#vm)"/>
<rect x="63.0" y="128" width="510.0" height="6" fill="url(#hg19)"/>
<rect x="63.0" y="128" width="510.0" height="6" fill="url(#hg20)" mask="url(#vm)"/>
<rect x="63.0" y="134" width="510.0" height="7" fill="url(#hg20)"/>
<rect x="63.0" y="134" width="510.0" height="7" fill="url(#hg21)" mask="url(#vm)"/>
<rect x="63.0" y="141" width="510.0" height="6" fill="url(#hg21)"/>
<rect x="63.0" y="141" width="510.0" height="6" fill="url(#hg22)" mask="url(#vm)"/>
<rect x="63.0" y="147" width="510.0" height="6" fill="url(#hg22)"/>
<rect x="63.0" y="147" width="510.0" height="6" fill="url(#hg23)" mask="url(#vm)"/>
<rect x="63.0" y="153" width="510.0" height="7" fill="url(#hg23)"/>
<rect x="63.0" y="153" width="510.0" height="7" fill="url(#hg24)" mask="url(#vm)"/>
<rect x="63.0" y="160" width="510.0" height="6" fill="url(#hg24)"/>
<rect x="63.0" y="160" width="510.0" height="6" fill="url(#hg25)" mask="url(#vm)"/>
<rect x="63.0" y="166" width="510.0" height="6" fill="url(#hg25)"/>
<rect x="63.0" y="166" width="510.0" height="6" fill="url(#hg26)" mask="url(#vm)"/>
<rect x="63.0" y="172" width="510.0" height="7" fill="url(#hg26)"/>
<rect x="63.0" y="172" width="510.0" height="7" fill="url(#hg27)" mask="url(#vm)"/>
<rect x="63.0" y="179" width="510.0" height="11" fill="url(#hg27)"/>
</g></g>
<line x1="61.40" y1="181.50" x2="64.00" y2="181.50" stroke="#1a1a1a" stroke-width="0.9"/>
<line x1="572.00" y1="181.50" x2="574.60" y2="181.50" stroke="#1a1a1a" stroke-width="0.9"/>
<line x1="61.40" y1="180.50" x2="64.00" y2="180.50" stroke="#1a1a1a" stroke-width="0.9"/>
<line x1="572.00" y1="180.50" x2="574.60" y2="180.50" stroke="#1a1a1a" stroke-width="0.9"/>
<line x1="61.40" y1="179.50" x2="64.00" y2="179.50" stroke="#1a1a1a" stroke-width="0.9"/>
<line x1="572.00" y1="179.50" x2="574.60" y2="179.50" stroke="#1a1a1a" stroke-width="0.9"/>
<line x1="61.40" y1="177.50" x2="64.00" y2="177.50" stroke="#1a1a1a" stroke-width="0.9"/>
<line x1="572.00" y1="177.50" x2="574.60" y2="177.50" stroke="#1a1a1a" stroke-width="0.9"/>
<line x1="61.40" y1="176.50" x2="64.00" y2="176.50" stroke="#1a1a1a" stroke-width="0.9"/>
<line x1="572.00" y1="176.50" x2="574.60" y2="176.50" stroke="#1a1a1a" stroke-width="0.9"/>
<line x1="61.40" y1="175.50" x2="64.00" y2="175.50" stroke="#1a1a1a" stroke-width="0.9"/>
<line x1="572.00" y1="175.50" x2="574.60" y2="175.50" stroke="#1a1a1a" stroke-width="0.9"/>
<line x1="59.00" y1="174.50" x2="64.00" y2="174.50" stroke="#1a1a1a" stroke-width="1.0"/>
<line x1="572.00" y1="174.50" x2="577.00" y2="174.50" stroke="#1a1a1a" stroke-width="1.0"/>
<line x1="61.40" y1="172.50" x2="64.00" y2="172.50" stroke="#1a1a1a" stroke-width="0.9"/>
<line x1="572.00" y1="172.50" x2="574.60" y2="172.50" stroke="#1a1a1a" stroke-width="0.9"/>
<line x1="61.40" y1="171.50" x2="64.00" y2="171.50" stroke="#1a1a1a" stroke-width="0.9"/>
<line x1="572.00" y1="171.50" x2="574.60" y2="171.50" stroke="#1a1a1a" stroke-width="0.9"/>
<line x1="61.40" y1="170.50" x2="64.00" y2="170.50" stroke="#1a1a1a" stroke-width="0.9"/>
<line x1="572.00" y1="170.50" x2="574.60" y2="170.50" stroke="#1a1a1a" stroke-width="0.9"/>
<line x1="61.40" y1="169.50" x2="64.00" y2="169.50" stroke="#1a1a1a" stroke-width="0.9"/>
<line x1="572.00" y1="169.50" x2="574.60" y2="169.50" stroke="#1a1a1a" stroke-width="0.9"/>
<line x1="61.40" y1="167.50" x2="64.00" y2="167.50" stroke="#1a1a1a" stroke-width="0.9"/>
<line x1="572.00" y1="167.50" x2="574.60" y2="167.50" stroke="#1a1a1a" stroke-width="0.9"/>
<line x1="61.40" y1="166.50" x2="64.00" y2="166.50" stroke="#1a1a1a" stroke-width="0.9"/>
<line x1="572.00" y1="166.50" x2="574.60" y2="166.50" stroke="#1a1a1a" stroke-width="0.9"/>
<line x1="61.40" y1="165.50" x2="64.00" y2="165.50" stroke="#1a1a1a" stroke-width="0.9"/>
<line x1="572.00" y1="165.50" x2="574.60" y2="165.50" stroke="#1a1a1a" stroke-width="0.9"/>
<line x1="61.40" y1="164.50" x2="64.00" y2="164.50" stroke="#1a1a1a" stroke-width="0.9"/>
<line x1="572.00" y1="164.50" x2="574.60" y2="164.50" stroke="#1a1a1a" stroke-width="0.9"/>
<line x1="61.40" y1="162.50" x2="64.00" y2="162.50" stroke="#1a1a1a" stroke-width="0.9"/>
<line x1="572.00" y1="162.50" x2="574.60" y2="162.50" stroke="#1a1a1a" stroke-width="0.9"/>
<line x1="61.40" y1="161.50" x2="64.00" y2="161.50" stroke="#1a1a1a" stroke-width="0.9"/>
<line x1="572.00" y1="161.50" x2="574.60" y2="161.50" stroke="#1a1a1a" stroke-width="0.9"/>
<line x1="61.40" y1="160.50" x2="64.00" y2="160.50" stroke="#1a1a1a" stroke-width="0.9"/>
<line x1="572.00" y1="160.50" x2="574.60" y2="160.50" stroke="#1a1a1a" stroke-width="0.9"/>
<line x1="61.40" y1="158.50" x2="64.00" y2="158.50" stroke="#1a1a1a" stroke-width="0.9"/>
<line x1="572.00" y1="158.50" x2="574.60" y2="158.50" stroke="#1a1a1a" stroke-width="0.9"/>
<line x1="61.40" y1="157.50" x2="64.00" y2="157.50" stroke="#1a1a1a" stroke-width="0.9"/>
<line x1="572.00" y1="157.50" x2="574.60" y2="157.50" stroke="#1a1a1a" stroke-width="0.9"/>
<line x1="61.40" y1="156.50" x2="64.00" y2="156.50" stroke="#1a1a1a" stroke-width="0.9"/>
<line x1="572.00" y1="156.50" x2="574.60" y2="156.50" stroke="#1a1a1a" stroke-width="0.9"/>
<line x1="61.40" y1="155.50" x2="64.00" y2="155.50" stroke="#1a1a1a" stroke-width="0.9"/>
<line x1="572.00" y1="155.50" x2="574.60" y2="155.50" stroke="#1a1a1a" stroke-width="0.9"/>
<line x1="61.40" y1="153.50" x2="64.00" y2="153.50" stroke="#1a1a1a" stroke-width="0.9"/>
<line x1="572.00" y1="153.50" x2="574.60" y2="153.50" stroke="#1a1a1a" stroke-width="0.9"/>
<line x1="61.40" y1="152.50" x2="64.00" y2="152.50" stroke="#1a1a1a" stroke-width="0.9"/>
<line x1="572.00" y1="152.50" x2="574.60" y2="152.50" stroke="#1a1a1a" stroke-width="0.9"/>
<line x1="61.40" y1="151.50" x2="64.00" y2="151.50" stroke="#1a1a1a" stroke-width="0.9"/>
<line x1="572.00" y1="151.50" x2="574.60" y2="151.50" stroke="#1a1a1a" stroke-width="0.9"/>
<line x1="61.40" y1="150.50" x2="64.00" y2="150.50" stroke="#1a1a1a" stroke-width="0.9"/>
<line x1="572.00" y1="150.50" x2="574.60" y2="150.50" stroke="#1a1a1a" stroke-width="0.9"/>
<line x1="59.00" y1="148.50" x2="64.00" y2="148.50" stroke="#1a1a1a" stroke-width="1.0"/>
<line x1="572.00" y1="148.50" x2="577.00" y2="148.50" stroke="#1a1a1a" stroke-width="1.0"/>
<line x1="61.40" y1="147.50" x2="64.00" y2="147.50" stroke="#1a1a1a" stroke-width="0.9"/>
<line x1="572.00" y1="147.50" x2="574.60" y2="147.50" stroke="#1a1a1a" stroke-width="0.9"/>
<line x1="61.40" y1="146.50" x2="64.00" y2="146.50" stroke="#1a1a1a" stroke-width="0.9"/>
<line x1="572.00" y1="146.50" x2="574.60" y2="146.50" stroke="#1a1a1a" stroke-width="0.9"/>
<line x1="61.40" y1="145.50" x2="64.00" y2="145.50" stroke="#1a1a1a" stroke-width="0.9"/>
<line x1="572.00" y1="145.50" x2="574.60" y2="145.50" stroke="#1a1a1a" stroke-width="0.9"/>
<line x1="61.40" y1="143.50" x2="64.00" y2="143.50" stroke="#1a1a1a" stroke-width="0.9"/>
<line x1="572.00" y1="143.50" x2="574.60" y2="143.50" stroke="#1a1a1a" stroke-width="0.9"/>
<line x1="61.40" y1="142.50" x2="64.00" y2="142.50" stroke="#1a1a1a" stroke-width="0.9"/>
<line x1="572.00" y1="142.50" x2="574.60" y2="142.50" stroke="#1a1a1a" stroke-width="0.9"/>
<line x1="61.40" y1="141.50" x2="64.00" y2="141.50" stroke="#1a1a1a" stroke-width="0.9"/>
<line x1="572.00" y1="141.50" x2="574.60" y2="141.50" stroke="#1a1a1a" stroke-width="0.9"/>
<line x1="61.40" y1="140.50" x2="64.00" y2="140.50" stroke="#1a1a1a" stroke-width="0.9"/>
<line x1="572.00" y1="140.50" x2="574.60" y2="140.50" stroke="#1a1a1a" stroke-width="0.9"/>
<line x1="61.40" y1="138.50" x2="64.00" y2="138.50" stroke="#1a1a1a" stroke-width="0.9"/>
<line x1="572.00" y1="138.50" x2="574.60" y2="138.50" stroke="#1a1a1a" stroke-width="0.9"/>
<line x1="61.40" y1="137.50" x2="64.00" y2="137.50" stroke="#1a1a1a" stroke-width="0.9"/>
<line x1="572.00" y1="137.50" x2="574.60" y2="137.50" stroke="#1a1a1a" stroke-width="0.9"/>
<line x1="61.40" y1="136.50" x2="64.00" y2="136.50" stroke="#1a1a1a" stroke-width="0.9"/>
<line x1="572.00" y1="136.50" x2="574.60" y2="136.50" stroke="#1a1a1a" stroke-width="0.9"/>
<line x1="61.40" y1="135.50" x2="64.00" y2="135.50" stroke="#1a1a1a" stroke-width="0.9"/>
<line x1="572.00" y1="135.50" x2="574.60" y2="135.50" stroke="#1a1a1a" stroke-width="0.9"/>
<line x1="61.40" y1="133.50" x2="64.00" y2="133.50" stroke="#1a1a1a" stroke-width="0.9"/>
<line x1="572.00" y1="133.50" x2="574.60" y2="133.50" stroke="#1a1a1a" stroke-width="0.9"/>
<line x1="61.40" y1="132.50" x2="64.00" y2="132.50" stroke="#1a1a1a" stroke-width="0.9"/>
<line x1="572.00" y1="132.50" x2="574.60" y2="132.50" stroke="#1a1a1a" stroke-width="0.9"/>
<line x1="61.40" y1="131.50" x2="64.00" y2="131.50" stroke="#1a1a1a" stroke-width="0.9"/>
<line x1="572.00" y1="131.50" x2="574.60" y2="131.50" stroke="#1a1a1a" stroke-width="0.9"/>
<line x1="61.40" y1="130.50" x2="64.00" y2="130.50" stroke="#1a1a1a" stroke-width="0.9"/>
<line x1="572.00" y1="130.50" x2="574.60" y2="130.50" stroke="#1a1a1a" stroke-width="0.9"/>
<line x1="61.40" y1="128.50" x2="64.00" y2="128.50" stroke="#1a1a1a" stroke-width="0.9"/>
<line x1="572.00" y1="128.50" x2="574.60" y2="128.50" stroke="#1a1a1a" stroke-width="0.9"/>
<line x1="61.40" y1="127.50" x2="64.00" y2="127.50" stroke="#1a1a1a" stroke-width="0.9"/>
<line x1="572.00" y1="127.50" x2="574.60" y2="127.50" stroke="#1a1a1a" stroke-width="0.9"/>
<line x1="61.40" y1="126.50" x2="64.00" y2="126.50" stroke="#1a1a1a" stroke-width="0.9"/>
<line x1="572.00" y1="126.50" x2="574.60" y2="126.50" stroke="#1a1a1a" stroke-width="0.9"/>
<line x1="61.40" y1="124.50" x2="64.00" y2="124.50" stroke="#1a1a1a" stroke-width="0.9"/>
<line x1="572.00" y1="124.50" x2="574.60" y2="124.50" stroke="#1a1a1a" stroke-width="0.9"/>
<line x1="59.00" y1="123.50" x2="64.00" y2="123.50" stroke="#1a1a1a" stroke-width="1.0"/>
<line x1="572.00" y1="123.50" x2="577.00" y2="123.50" stroke="#1a1a1a" stroke-width="1.0"/>
<line x1="61.40" y1="122.50" x2="64.00" y2="122.50" stroke="#1a1a1a" stroke-width="0.9"/>
<line x1="572.00" y1="122.50" x2="574.60" y2="122.50" stroke="#1a1a1a" stroke-width="0.9"/>
<line x1="61.40" y1="121.50" x2="64.00" y2="121.50" stroke="#1a1a1a" stroke-width="0.9"/>
<line x1="572.00" y1="121.50" x2="574.60" y2="121.50" stroke="#1a1a1a" stroke-width="0.9"/>
<line x1="61.40" y1="119.50" x2="64.00" y2="119.50" stroke="#1a1a1a" stroke-width="0.9"/>
<line x1="572.00" y1="119.50" x2="574.60" y2="119.50" stroke="#1a1a1a" stroke-width="0.9"/>
<line x1="61.40" y1="118.50" x2="64.00" y2="118.50" stroke="#1a1a1a" stroke-width="0.9"/>
<line x1="572.00" y1="118.50" x2="574.60" y2="118.50" stroke="#1a1a1a" stroke-width="0.9"/>
<line x1="61.40" y1="117.50" x2="64.00" y2="117.50" stroke="#1a1a1a" stroke-width="0.9"/>
<line x1="572.00" y1="117.50" x2="574.60" y2="117.50" stroke="#1a1a1a" stroke-width="0.9"/>
<line x1="61.40" y1="116.50" x2="64.00" y2="116.50" stroke="#1a1a1a" stroke-width="0.9"/>
<line x1="572.00" y1="116.50" x2="574.60" y2="116.50" stroke="#1a1a1a" stroke-width="0.9"/>
<line x1="61.40" y1="114.50" x2="64.00" y2="114.50" stroke="#1a1a1a" stroke-width="0.9"/>
<line x1="572.00" y1="114.50" x2="574.60" y2="114.50" stroke="#1a1a1a" stroke-width="0.9"/>
<line x1="61.40" y1="113.50" x2="64.00" y2="113.50" stroke="#1a1a1a" stroke-width="0.9"/>
<line x1="572.00" y1="113.50" x2="574.60" y2="113.50" stroke="#1a1a1a" stroke-width="0.9"/>
<line x1="61.40" y1="112.50" x2="64.00" y2="112.50" stroke="#1a1a1a" stroke-width="0.9"/>
<line x1="572.00" y1="112.50" x2="574.60" y2="112.50" stroke="#1a1a1a" stroke-width="0.9"/>
<line x1="61.40" y1="111.50" x2="64.00" y2="111.50" stroke="#1a1a1a" stroke-width="0.9"/>
<line x1="572.00" y1="111.50" x2="574.60" y2="111.50" stroke="#1a1a1a" stroke-width="0.9"/>
<line x1="61.40" y1="109.50" x2="64.00" y2="109.50" stroke="#1a1a1a" stroke-width="0.9"/>
<line x1="572.00" y1="109.50" x2="574.60" y2="109.50" stroke="#1a1a1a" stroke-width="0.9"/>
<line x1="61.40" y1="108.50" x2="64.00" y2="108.50" stroke="#1a1a1a" stroke-width="0.9"/>
<line x1="572.00" y1="108.50" x2="574.60" y2="108.50" stroke="#1a1a1a" stroke-width="0.9"/>
<line x1="61.40" y1="107.50" x2="64.00" y2="107.50" stroke="#1a1a1a" stroke-width="0.9"/>
<line x1="572.00" y1="107.50" x2="574.60" y2="107.50" stroke="#1a1a1a" stroke-width="0.9"/>
<line x1="61.40" y1="106.50" x2="64.00" y2="106.50" stroke="#1a1a1a" stroke-width="0.9"/>
<line x1="572.00" y1="106.50" x2="574.60" y2="106.50" stroke="#1a1a1a" stroke-width="0.9"/>
<line x1="61.40" y1="104.50" x2="64.00" y2="104.50" stroke="#1a1a1a" stroke-width="0.9"/>
<line x1="572.00" y1="104.50" x2="574.60" y2="104.50" stroke="#1a1a1a" stroke-width="0.9"/>
<line x1="61.40" y1="103.50" x2="64.00" y2="103.50" stroke="#1a1a1a" stroke-width="0.9"/>
<line x1="572.00" y1="103.50" x2="574.60" y2="103.50" stroke="#1a1a1a" stroke-width="0.9"/>
<line x1="61.40" y1="102.50" x2="64.00" y2="102.50" stroke="#1a1a1a" stroke-width="0.9"/>
<line x1="572.00" y1="102.50" x2="574.60" y2="102.50" stroke="#1a1a1a" stroke-width="0.9"/>
<line x1="61.40" y1="101.50" x2="64.00" y2="101.50" stroke="#1a1a1a" stroke-width="0.9"/>
<line x1="572.00" y1="101.50" x2="574.60" y2="101.50" stroke="#1a1a1a" stroke-width="0.9"/>
<line x1="61.40" y1="99.50" x2="64.00" y2="99.50" stroke="#1a1a1a" stroke-width="0.9"/>
<line x1="572.00" y1="99.50" x2="574.60" y2="99.50" stroke="#1a1a1a" stroke-width="0.9"/>
<line x1="59.00" y1="98.50" x2="64.00" y2="98.50" stroke="#1a1a1a" stroke-width="1.0"/>
<line x1="572.00" y1="98.50" x2="577.00" y2="98.50" stroke="#1a1a1a" stroke-width="1.0"/>
<line x1="61.40" y1="97.50" x2="64.00" y2="97.50" stroke="#1a1a1a" stroke-width="0.9"/>
<line x1="572.00" y1="97.50" x2="574.60" y2="97.50" stroke="#1a1a1a" stroke-width="0.9"/>
<line x1="61.40" y1="95.50" x2="64.00" y2="95.50" stroke="#1a1a1a" stroke-width="0.9"/>
<line x1="572.00" y1="95.50" x2="574.60" y2="95.50" stroke="#1a1a1a" stroke-width="0.9"/>
<line x1="61.40" y1="94.50" x2="64.00" y2="94.50" stroke="#1a1a1a" stroke-width="0.9"/>
<line x1="572.00" y1="94.50" x2="574.60" y2="94.50" stroke="#1a1a1a" stroke-width="0.9"/>
<line x1="61.40" y1="93.50" x2="64.00" y2="93.50" stroke="#1a1a1a" stroke-width="0.9"/>
<line x1="572.00" y1="93.50" x2="574.60" y2="93.50" stroke="#1a1a1a" stroke-width="0.9"/>
<line x1="61.40" y1="92.50" x2="64.00" y2="92.50" stroke="#1a1a1a" stroke-width="0.9"/>
<line x1="572.00" y1="92.50" x2="574.60" y2="92.50" stroke="#1a1a1a" stroke-width="0.9"/>
<line x1="61.40" y1="90.50" x2="64.00" y2="90.50" stroke="#1a1a1a" stroke-width="0.9"/>
<line x1="572.00" y1="90.50" x2="574.60" y2="90.50" stroke="#1a1a1a" stroke-width="0.9"/>
<line x1="61.40" y1="89.50" x2="64.00" y2="89.50" stroke="#1a1a1a" stroke-width="0.9"/>
<line x1="572.00" y1="89.50" x2="574.60" y2="89.50" stroke="#1a1a1a" stroke-width="0.9"/>
<line x1="61.40" y1="88.50" x2="64.00" y2="88.50" stroke="#1a1a1a" stroke-width="0.9"/>
<line x1="572.00" y1="88.50" x2="574.60" y2="88.50" stroke="#1a1a1a" stroke-width="0.9"/>
<line x1="61.40" y1="87.50" x2="64.00" y2="87.50" stroke="#1a1a1a" stroke-width="0.9"/>
<line x1="572.00" y1="87.50" x2="574.60" y2="87.50" stroke="#1a1a1a" stroke-width="0.9"/>
<line x1="61.40" y1="85.50" x2="64.00" y2="85.50" stroke="#1a1a1a" stroke-width="0.9"/>
<line x1="572.00" y1="85.50" x2="574.60" y2="85.50" stroke="#1a1a1a" stroke-width="0.9"/>
<line x1="61.40" y1="84.50" x2="64.00" y2="84.50" stroke="#1a1a1a" stroke-width="0.9"/>
<line x1="572.00" y1="84.50" x2="574.60" y2="84.50" stroke="#1a1a1a" stroke-width="0.9"/>
<line x1="61.40" y1="83.50" x2="64.00" y2="83.50" stroke="#1a1a1a" stroke-width="0.9"/>
<line x1="572.00" y1="83.50" x2="574.60" y2="83.50" stroke="#1a1a1a" stroke-width="0.9"/>
<line x1="61.40" y1="82.50" x2="64.00" y2="82.50" stroke="#1a1a1a" stroke-width="0.9"/>
<line x1="572.00" y1="82.50" x2="574.60" y2="82.50" stroke="#1a1a1a" stroke-width="0.9"/>
<line x1="61.40" y1="80.50" x2="64.00" y2="80.50" stroke="#1a1a1a" stroke-width="0.9"/>
<line x1="572.00" y1="80.50" x2="574.60" y2="80.50" stroke="#1a1a1a" stroke-width="0.9"/>
<line x1="61.40" y1="79.50" x2="64.00" y2="79.50" stroke="#1a1a1a" stroke-width="0.9"/>
<line x1="572.00" y1="79.50" x2="574.60" y2="79.50" stroke="#1a1a1a" stroke-width="0.9"/>
<line x1="61.40" y1="78.50" x2="64.00" y2="78.50" stroke="#1a1a1a" stroke-width="0.9"/>
<line x1="572.00" y1="78.50" x2="574.60" y2="78.50" stroke="#1a1a1a" stroke-width="0.9"/>
<line x1="61.40" y1="77.50" x2="64.00" y2="77.50" stroke="#1a1a1a" stroke-width="0.9"/>
<line x1="572.00" y1="77.50" x2="574.60" y2="77.50" stroke="#1a1a1a" stroke-width="0.9"/>
<line x1="61.40" y1="75.50" x2="64.00" y2="75.50" stroke="#1a1a1a" stroke-width="0.9"/>
<line x1="572.00" y1="75.50" x2="574.60" y2="75.50" stroke="#1a1a1a" stroke-width="0.9"/>
<line x1="61.40" y1="74.50" x2="64.00" y2="74.50" stroke="#1a1a1a" stroke-width="0.9"/>
<line x1="572.00" y1="74.50" x2="574.60" y2="74.50" stroke="#1a1a1a" stroke-width="0.9"/>
<line x1="59.00" y1="73.50" x2="64.00" y2="73.50" stroke="#1a1a1a" stroke-width="1.0"/>
<line x1="572.00" y1="73.50" x2="577.00" y2="73.50" stroke="#1a1a1a" stroke-width="1.0"/>
<line x1="61.40" y1="72.50" x2="64.00" y2="72.50" stroke="#1a1a1a" stroke-width="0.9"/>
<line x1="572.00" y1="72.50" x2="574.60" y2="72.50" stroke="#1a1a1a" stroke-width="0.9"/>
<line x1="61.40" y1="70.50" x2="64.00" y2="70.50" stroke="#1a1a1a" stroke-width="0.9"/>
<line x1="572.00" y1="70.50" x2="574.60" y2="70.50" stroke="#1a1a1a" stroke-width="0.9"/>
<line x1="61.40" y1="69.50" x2="64.00" y2="69.50" stroke="#1a1a1a" stroke-width="0.9"/>
<line x1="572.00" y1="69.50" x2="574.60" y2="69.50" stroke="#1a1a1a" stroke-width="0.9"/>
<line x1="61.40" y1="68.50" x2="64.00" y2="68.50" stroke="#1a1a1a" stroke-width="0.9"/>
<line x1="572.00" y1="68.50" x2="574.60" y2="68.50" stroke="#1a1a1a" stroke-width="0.9"/>
<line x1="61.40" y1="67.50" x2="64.00" y2="67.50" stroke="#1a1a1a" stroke-width="0.9"/>
<line x1="572.00" y1="67.50" x2="574.60" y2="67.50" stroke="#1a1a1a" stroke-width="0.9"/>
<line x1="61.40" y1="65.50" x2="64.00" y2="65.50" stroke="#1a1a1a" stroke-width="0.9"/>
<line x1="572.00" y1="65.50" x2="574.60" y2="65.50" stroke="#1a1a1a" stroke-width="0.9"/>
<line x1="61.40" y1="64.50" x2="64.00" y2="64.50" stroke="#1a1a1a" stroke-width="0.9"/>
<line x1="572.00" y1="64.50" x2="574.60" y2="64.50" stroke="#1a1a1a" stroke-width="0.9"/>
<line x1="61.40" y1="63.50" x2="64.00" y2="63.50" stroke="#1a1a1a" stroke-width="0.9"/>
<line x1="572.00" y1="63.50" x2="574.60" y2="63.50" stroke="#1a1a1a" stroke-width="0.9"/>
<line x1="61.40" y1="61.50" x2="64.00" y2="61.50" stroke="#1a1a1a" stroke-width="0.9"/>
<line x1="572.00" y1="61.50" x2="574.60" y2="61.50" stroke="#1a1a1a" stroke-width="0.9"/>
<line x1="61.40" y1="60.50" x2="64.00" y2="60.50" stroke="#1a1a1a" stroke-width="0.9"/>
<line x1="572.00" y1="60.50" x2="574.60" y2="60.50" stroke="#1a1a1a" stroke-width="0.9"/>
<line x1="61.40" y1="59.50" x2="64.00" y2="59.50" stroke="#1a1a1a" stroke-width="0.9"/>
<line x1="572.00" y1="59.50" x2="574.60" y2="59.50" stroke="#1a1a1a" stroke-width="0.9"/>
<line x1="61.40" y1="58.50" x2="64.00" y2="58.50" stroke="#1a1a1a" stroke-width="0.9"/>
<line x1="572.00" y1="58.50" x2="574.60" y2="58.50" stroke="#1a1a1a" stroke-width="0.9"/>
<line x1="61.40" y1="56.50" x2="64.00" y2="56.50" stroke="#1a1a1a" stroke-width="0.9"/>
<line x1="572.00" y1="56.50" x2="574.60" y2="56.50" stroke="#1a1a1a" stroke-width="0.9"/>
<line x1="61.40" y1="55.50" x2="64.00" y2="55.50" stroke="#1a1a1a" stroke-width="0.9"/>
<line x1="572.00" y1="55.50" x2="574.60" y2="55.50" stroke="#1a1a1a" stroke-width="0.9"/>
<line x1="61.40" y1="54.50" x2="64.00" y2="54.50" stroke="#1a1a1a" stroke-width="0.9"/>
<line x1="572.00" y1="54.50" x2="574.60" y2="54.50" stroke="#1a1a1a" stroke-width="0.9"/>
<line x1="61.40" y1="53.50" x2="64.00" y2="53.50" stroke="#1a1a1a" stroke-width="0.9"/>
<line x1="572.00" y1="53.50" x2="574.60" y2="53.50" stroke="#1a1a1a" stroke-width="0.9"/>
<line x1="61.40" y1="51.50" x2="64.00" y2="51.50" stroke="#1a1a1a" stroke-width="0.9"/>
<line x1="572.00" y1="51.50" x2="574.60" y2="51.50" stroke="#1a1a1a" stroke-width="0.9"/>
<line x1="61.40" y1="50.50" x2="64.00" y2="50.50" stroke="#1a1a1a" stroke-width="0.9"/>
<line x1="572.00" y1="50.50" x2="574.60" y2="50.50" stroke="#1a1a1a" stroke-width="0.9"/>
<line x1="61.40" y1="49.50" x2="64.00" y2="49.50" stroke="#1a1a1a" stroke-width="0.9"/>
<line x1="572.00" y1="49.50" x2="574.60" y2="49.50" stroke="#1a1a1a" stroke-width="0.9"/>
<line x1="59.00" y1="48.50" x2="64.00" y2="48.50" stroke="#1a1a1a" stroke-width="1.0"/>
<line x1="572.00" y1="48.50" x2="577.00" y2="48.50" stroke="#1a1a1a" stroke-width="1.0"/>
<line x1="61.40" y1="46.50" x2="64.00" y2="46.50" stroke="#1a1a1a" stroke-width="0.9"/>
<line x1="572.00" y1="46.50" x2="574.60" y2="46.50" stroke="#1a1a1a" stroke-width="0.9"/>
<line x1="61.40" y1="45.50" x2="64.00" y2="45.50" stroke="#1a1a1a" stroke-width="0.9"/>
<line x1="572.00" y1="45.50" x2="574.60" y2="45.50" stroke="#1a1a1a" stroke-width="0.9"/>
<line x1="61.40" y1="44.50" x2="64.00" y2="44.50" stroke="#1a1a1a" stroke-width="0.9"/>
<line x1="572.00" y1="44.50" x2="574.60" y2="44.50" stroke="#1a1a1a" stroke-width="0.9"/>
<line x1="61.40" y1="43.50" x2="64.00" y2="43.50" stroke="#1a1a1a" stroke-width="0.9"/>
<line x1="572.00" y1="43.50" x2="574.60" y2="43.50" stroke="#1a1a1a" stroke-width="0.9"/>
<line x1="61.40" y1="41.50" x2="64.00" y2="41.50" stroke="#1a1a1a" stroke-width="0.9"/>
<line x1="572.00" y1="41.50" x2="574.60" y2="41.50" stroke="#1a1a1a" stroke-width="0.9"/>
<line x1="61.40" y1="40.50" x2="64.00" y2="40.50" stroke="#1a1a1a" stroke-width="0.9"/>
<line x1="572.00" y1="40.50" x2="574.60" y2="40.50" stroke="#1a1a1a" stroke-width="0.9"/>
<line x1="61.40" y1="39.50" x2="64.00" y2="39.50" stroke="#1a1a1a" stroke-width="0.9"/>
<line x1="572.00" y1="39.50" x2="574.60" y2="39.50" stroke="#1a1a1a" stroke-width="0.9"/>
<line x1="61.40" y1="38.50" x2="64.00" y2="38.50" stroke="#1a1a1a" stroke-width="0.9"/>
<line x1="572.00" y1="38.50" x2="574.60" y2="38.50" stroke="#1a1a1a" stroke-width="0.9"/>
<line x1="61.40" y1="36.50" x2="64.00" y2="36.50" stroke="#1a1a1a" stroke-width="0.9"/>
<line x1="572.00" y1="36.50" x2="574.60" y2="36.50" stroke="#1a1a1a" stroke-width="0.9"/>
<line x1="61.40" y1="35.50" x2="64.00" y2="35.50" stroke="#1a1a1a" stroke-width="0.9"/>
<line x1="572.00" y1="35.50" x2="574.60" y2="35.50" stroke="#1a1a1a" stroke-width="0.9"/>
<line x1="61.40" y1="34.50" x2="64.00" y2="34.50" stroke="#1a1a1a" stroke-width="0.9"/>
<line x1="572.00" y1="34.50" x2="574.60" y2="34.50" stroke="#1a1a1a" stroke-width="0.9"/>
<line x1="61.40" y1="32.50" x2="64.00" y2="32.50" stroke="#1a1a1a" stroke-width="0.9"/>
<line x1="572.00" y1="32.50" x2="574.60" y2="32.50" stroke="#1a1a1a" stroke-width="0.9"/>
<line x1="61.40" y1="31.50" x2="64.00" y2="31.50" stroke="#1a1a1a" stroke-width="0.9"/>
<line x1="572.00" y1="31.50" x2="574.60" y2="31.50" stroke="#1a1a1a" stroke-width="0.9"/>
<line x1="61.40" y1="30.50" x2="64.00" y2="30.50" stroke="#1a1a1a" stroke-width="0.9"/>
<line x1="572.00" y1="30.50" x2="574.60" y2="30.50" stroke="#1a1a1a" stroke-width="0.9"/>
<line x1="61.40" y1="29.50" x2="64.00" y2="29.50" stroke="#1a1a1a" stroke-width="0.9"/>
<line x1="572.00" y1="29.50" x2="574.60" y2="29.50" stroke="#1a1a1a" stroke-width="0.9"/>
<line x1="61.40" y1="27.50" x2="64.00" y2="27.50" stroke="#1a1a1a" stroke-width="0.9"/>
<line x1="572.00" y1="27.50" x2="574.60" y2="27.50" stroke="#1a1a1a" stroke-width="0.9"/>
<line x1="61.40" y1="26.50" x2="64.00" y2="26.50" stroke="#1a1a1a" stroke-width="0.9"/>
<line x1="572.00" y1="26.50" x2="574.60" y2="26.50" stroke="#1a1a1a" stroke-width="0.9"/>
<line x1="61.40" y1="25.50" x2="64.00" y2="25.50" stroke="#1a1a1a" stroke-width="0.9"/>
<line x1="572.00" y1="25.50" x2="574.60" y2="25.50" stroke="#1a1a1a" stroke-width="0.9"/>
<line x1="61.40" y1="24.50" x2="64.00" y2="24.50" stroke="#1a1a1a" stroke-width="0.9"/>
<line x1="572.00" y1="24.50" x2="574.60" y2="24.50" stroke="#1a1a1a" stroke-width="0.9"/>
<line x1="59.00" y1="22.50" x2="64.00" y2="22.50" stroke="#1a1a1a" stroke-width="1.0"/>
<line x1="572.00" y1="22.50" x2="577.00" y2="22.50" stroke="#1a1a1a" stroke-width="1.0"/>
<line x1="61.40" y1="21.50" x2="64.00" y2="21.50" stroke="#1a1a1a" stroke-width="0.9"/>
<line x1="572.00" y1="21.50" x2="574.60" y2="21.50" stroke="#1a1a1a" stroke-width="0.9"/>
<line x1="61.40" y1="20.50" x2="64.00" y2="20.50" stroke="#1a1a1a" stroke-width="0.9"/>
<line x1="572.00" y1="20.50" x2="574.60" y2="20.50" stroke="#1a1a1a" stroke-width="0.9"/>
<line x1="61.40" y1="19.50" x2="64.00" y2="19.50" stroke="#1a1a1a" stroke-width="0.9"/>
<line x1="572.00" y1="19.50" x2="574.60" y2="19.50" stroke="#1a1a1a" stroke-width="0.9"/>
<line x1="61.40" y1="17.50" x2="64.00" y2="17.50" stroke="#1a1a1a" stroke-width="0.9"/>
<line x1="572.00" y1="17.50" x2="574.60" y2="17.50" stroke="#1a1a1a" stroke-width="0.9"/>
<line x1="61.40" y1="16.50" x2="64.00" y2="16.50" stroke="#1a1a1a" stroke-width="0.9"/>
<line x1="572.00" y1="16.50" x2="574.60" y2="16.50" stroke="#1a1a1a" stroke-width="0.9"/>
<line x1="61.40" y1="15.50" x2="64.00" y2="15.50" stroke="#1a1a1a" stroke-width="0.9"/>
<line x1="572.00" y1="15.50" x2="574.60" y2="15.50" stroke="#1a1a1a" stroke-width="0.9"/>
<line x1="61.40" y1="14.50" x2="64.00" y2="14.50" stroke="#1a1a1a" stroke-width="0.9"/>
<line x1="572.00" y1="14.50" x2="574.60" y2="14.50" stroke="#1a1a1a" stroke-width="0.9"/>
<line x1="61.40" y1="12.50" x2="64.00" y2="12.50" stroke="#1a1a1a" stroke-width="0.9"/>
<line x1="572.00" y1="12.50" x2="574.60" y2="12.50" stroke="#1a1a1a" stroke-width="0.9"/>
<line x1="61.40" y1="11.50" x2="64.00" y2="11.50" stroke="#1a1a1a" stroke-width="0.9"/>
<line x1="572.00" y1="11.50" x2="574.60" y2="11.50" stroke="#1a1a1a" stroke-width="0.9"/>
<line x1="61.40" y1="10.50" x2="64.00" y2="10.50" stroke="#1a1a1a" stroke-width="0.9"/>
<line x1="572.00" y1="10.50" x2="574.60" y2="10.50" stroke="#1a1a1a" stroke-width="0.9"/>
<line x1="61.40" y1="9.50" x2="64.00" y2="9.50" stroke="#1a1a1a" stroke-width="0.9"/>
<line x1="572.00" y1="9.50" x2="574.60" y2="9.50" stroke="#1a1a1a" stroke-width="0.9"/>
<line x1="61.40" y1="7.50" x2="64.00" y2="7.50" stroke="#1a1a1a" stroke-width="0.9"/>
<line x1="572.00" y1="7.50" x2="574.60" y2="7.50" stroke="#1a1a1a" stroke-width="0.9"/>
<line x1="61.40" y1="6.50" x2="64.00" y2="6.50" stroke="#1a1a1a" stroke-width="0.9"/>
<line x1="572.00" y1="6.50" x2="574.60" y2="6.50" stroke="#1a1a1a" stroke-width="0.9"/>
<line x1="61.40" y1="5.50" x2="64.00" y2="5.50" stroke="#1a1a1a" stroke-width="0.9"/>
<line x1="572.00" y1="5.50" x2="574.60" y2="5.50" stroke="#1a1a1a" stroke-width="0.9"/>
<line x1="64.50" y1="1.80" x2="64.50" y2="4.30" stroke="#1a1a1a" stroke-width="1.0"/>
<line x1="64.50" y1="181.70" x2="64.50" y2="184.20" stroke="#1a1a1a" stroke-width="1.0"/>
<line x1="84.50" y1="3.10" x2="84.50" y2="4.30" stroke="#1a1a1a" stroke-width="1.0"/>
<line x1="84.50" y1="181.70" x2="84.50" y2="182.90" stroke="#1a1a1a" stroke-width="1.0"/>
<line x1="104.50" y1="3.10" x2="104.50" y2="4.30" stroke="#1a1a1a" stroke-width="1.0"/>
<line x1="104.50" y1="181.70" x2="104.50" y2="182.90" stroke="#1a1a1a" stroke-width="1.0"/>
<line x1="124.50" y1="3.10" x2="124.50" y2="4.30" stroke="#1a1a1a" stroke-width="1.0"/>
<line x1="124.50" y1="181.70" x2="124.50" y2="182.90" stroke="#1a1a1a" stroke-width="1.0"/>
<line x1="145.50" y1="1.80" x2="145.50" y2="4.30" stroke="#1a1a1a" stroke-width="1.0"/>
<line x1="145.50" y1="181.70" x2="145.50" y2="184.20" stroke="#1a1a1a" stroke-width="1.0"/>
<line x1="165.50" y1="3.10" x2="165.50" y2="4.30" stroke="#1a1a1a" stroke-width="1.0"/>
<line x1="165.50" y1="181.70" x2="165.50" y2="182.90" stroke="#1a1a1a" stroke-width="1.0"/>
<line x1="185.50" y1="3.10" x2="185.50" y2="4.30" stroke="#1a1a1a" stroke-width="1.0"/>
<line x1="185.50" y1="181.70" x2="185.50" y2="182.90" stroke="#1a1a1a" stroke-width="1.0"/>
<line x1="206.50" y1="3.10" x2="206.50" y2="4.30" stroke="#1a1a1a" stroke-width="1.0"/>
<line x1="206.50" y1="181.70" x2="206.50" y2="182.90" stroke="#1a1a1a" stroke-width="1.0"/>
<line x1="226.50" y1="1.80" x2="226.50" y2="4.30" stroke="#1a1a1a" stroke-width="1.0"/>
<line x1="226.50" y1="181.70" x2="226.50" y2="184.20" stroke="#1a1a1a" stroke-width="1.0"/>
<line x1="246.50" y1="3.10" x2="246.50" y2="4.30" stroke="#1a1a1a" stroke-width="1.0"/>
<line x1="246.50" y1="181.70" x2="246.50" y2="182.90" stroke="#1a1a1a" stroke-width="1.0"/>
<line x1="267.50" y1="3.10" x2="267.50" y2="4.30" stroke="#1a1a1a" stroke-width="1.0"/>
<line x1="267.50" y1="181.70" x2="267.50" y2="182.90" stroke="#1a1a1a" stroke-width="1.0"/>
<line x1="287.50" y1="3.10" x2="287.50" y2="4.30" stroke="#1a1a1a" stroke-width="1.0"/>
<line x1="287.50" y1="181.70" x2="287.50" y2="182.90" stroke="#1a1a1a" stroke-width="1.0"/>
<line x1="307.50" y1="1.80" x2="307.50" y2="4.30" stroke="#1a1a1a" stroke-width="1.0"/>
<line x1="307.50" y1="181.70" x2="307.50" y2="184.20" stroke="#1a1a1a" stroke-width="1.0"/>
<line x1="327.50" y1="3.10" x2="327.50" y2="4.30" stroke="#1a1a1a" stroke-width="1.0"/>
<line x1="327.50" y1="181.70" x2="327.50" y2="182.90" stroke="#1a1a1a" stroke-width="1.0"/>
<line x1="348.50" y1="3.10" x2="348.50" y2="4.30" stroke="#1a1a1a" stroke-width="1.0"/>
<line x1="348.50" y1="181.70" x2="348.50" y2="182.90" stroke="#1a1a1a" stroke-width="1.0"/>
<line x1="368.50" y1="3.10" x2="368.50" y2="4.30" stroke="#1a1a1a" stroke-width="1.0"/>
<line x1="368.50" y1="181.70" x2="368.50" y2="182.90" stroke="#1a1a1a" stroke-width="1.0"/>
<line x1="388.50" y1="1.80" x2="388.50" y2="4.30" stroke="#1a1a1a" stroke-width="1.0"/>
<line x1="388.50" y1="181.70" x2="388.50" y2="184.20" stroke="#1a1a1a" stroke-width="1.0"/>
<line x1="409.50" y1="3.10" x2="409.50" y2="4.30" stroke="#1a1a1a" stroke-width="1.0"/>
<line x1="409.50" y1="181.70" x2="409.50" y2="182.90" stroke="#1a1a1a" stroke-width="1.0"/>
<line x1="429.50" y1="3.10" x2="429.50" y2="4.30" stroke="#1a1a1a" stroke-width="1.0"/>
<line x1="429.50" y1="181.70" x2="429.50" y2="182.90" stroke="#1a1a1a" stroke-width="1.0"/>
<line x1="449.50" y1="3.10" x2="449.50" y2="4.30" stroke="#1a1a1a" stroke-width="1.0"/>
<line x1="449.50" y1="181.70" x2="449.50" y2="182.90" stroke="#1a1a1a" stroke-width="1.0"/>
<line x1="470.50" y1="1.80" x2="470.50" y2="4.30" stroke="#1a1a1a" stroke-width="1.0"/>
<line x1="470.50" y1="181.70" x2="470.50" y2="184.20" stroke="#1a1a1a" stroke-width="1.0"/>
<line x1="490.50" y1="3.10" x2="490.50" y2="4.30" stroke="#1a1a1a" stroke-width="1.0"/>
<line x1="490.50" y1="181.70" x2="490.50" y2="182.90" stroke="#1a1a1a" stroke-width="1.0"/>
<line x1="510.50" y1="3.10" x2="510.50" y2="4.30" stroke="#1a1a1a" stroke-width="1.0"/>
<line x1="510.50" y1="181.70" x2="510.50" y2="182.90" stroke="#1a1a1a" stroke-width="1.0"/>
<line x1="530.50" y1="3.10" x2="530.50" y2="4.30" stroke="#1a1a1a" stroke-width="1.0"/>
<line x1="530.50" y1="181.70" x2="530.50" y2="182.90" stroke="#1a1a1a" stroke-width="1.0"/>
<line x1="551.50" y1="1.80" x2="551.50" y2="4.30" stroke="#1a1a1a" stroke-width="1.0"/>
<line x1="551.50" y1="181.70" x2="551.50" y2="184.20" stroke="#1a1a1a" stroke-width="1.0"/>
<line x1="571.50" y1="3.10" x2="571.50" y2="4.30" stroke="#1a1a1a" stroke-width="1.0"/>
<line x1="571.50" y1="181.70" x2="571.50" y2="182.90" stroke="#1a1a1a" stroke-width="1.0"/>
<path d="M64.00,98.70 C69.25,98.68 83.03,99.07 95.50,98.60 C107.97,98.13 124.72,97.05 138.80,95.90 C152.88,94.75 170.22,92.90 180.00,91.70 C189.78,90.50 191.67,89.83 197.50,88.70 C203.33,87.57 209.58,86.08 215.00,84.90 C220.42,83.72 226.03,82.65 230.00,81.60 C233.97,80.55 235.88,79.72 238.80,78.60 C241.72,77.48 244.58,76.27 247.50,74.90 C250.42,73.53 253.38,72.22 256.30,70.40 C259.22,68.58 262.08,66.13 265.00,64.00 C267.92,61.87 270.88,59.90 273.80,57.60 C276.72,55.30 279.80,52.55 282.50,50.20 C285.20,47.85 286.92,46.20 290.00,43.50 C293.08,40.80 296.47,37.78 301.00,34.00 C305.53,30.22 314.50,23.00 317.20,20.80 L321.0,176.8 C331.07,170.38 361.57,150.78 381.40,138.30 C401.23,125.82 420.38,113.50 440.00,101.90 C459.62,90.30 477.13,80.48 499.10,68.70 C521.07,56.92 559.68,37.45 571.80,31.20" fill="none" stroke="#f40404" stroke-width="2.5" stroke-linejoin="miter" stroke-miterlimit="20"/>
<text transform="translate(54.00,29.66) scale(1.15,1)" text-anchor="end" font-size="15.9">3</text>
<text transform="translate(54.00,55.18) scale(1.15,1)" text-anchor="end" font-size="15.9">2</text>
<text transform="translate(54.00,80.70) scale(1.15,1)" text-anchor="end" font-size="15.9">1</text>
<text transform="translate(54.00,106.22) scale(1.15,1)" text-anchor="end" font-size="15.9">0</text>
<text transform="translate(54.00,131.74) scale(1.15,1)" text-anchor="end" font-size="15.9">&#8722;1</text>
<text transform="translate(54.00,157.26) scale(1.15,1)" text-anchor="end" font-size="15.9">&#8722;2</text>
<text transform="translate(54.00,182.78) scale(1.15,1)" text-anchor="end" font-size="15.9">&#8722;3</text>
<text transform="translate(63.60,207.46) scale(1.15,1)" text-anchor="middle" font-size="15.9">0</text>
<text transform="translate(145.26,207.46) scale(1.15,1)" text-anchor="middle" font-size="15.9">2</text>
<text transform="translate(226.92,207.46) scale(1.15,1)" text-anchor="middle" font-size="15.9">4</text>
<text transform="translate(308.58,207.46) scale(1.15,1)" text-anchor="middle" font-size="15.9">6</text>
<text transform="translate(390.24,207.46) scale(1.15,1)" text-anchor="middle" font-size="15.9">8</text>
<text transform="translate(471.90,207.46) scale(1.15,1)" text-anchor="middle" font-size="15.9">10</text>
<text transform="translate(553.56,207.46) scale(1.15,1)" text-anchor="middle" font-size="15.9">12</text>
<text transform="translate(12.40,80.60) rotate(-90)" text-anchor="middle" font-size="16.2" textLength="39" lengthAdjust="spacingAndGlyphs" dy="0.36em">(rad)</text>
<text transform="translate(11.40,116.60) rotate(-90)" text-anchor="middle" font-size="16.5" textLength="15.5" lengthAdjust="spacingAndGlyphs" dy="0.36em">&#916;&#934;</text>
<rect x="591.5" y="4.9" width="41.0" height="176.0" fill="url(#cbgrad)" stroke="#1a1a1a" stroke-width="1.2"/>
<line x1="632.50" y1="180.50" x2="639.00" y2="180.50" stroke="#1a1a1a" stroke-width="1.0"/>
<line x1="632.50" y1="176.50" x2="636.00" y2="176.50" stroke="#1a1a1a" stroke-width="1.0"/>
<line x1="632.50" y1="172.50" x2="636.00" y2="172.50" stroke="#1a1a1a" stroke-width="1.0"/>
<line x1="632.50" y1="167.50" x2="636.00" y2="167.50" stroke="#1a1a1a" stroke-width="1.0"/>
<line x1="632.50" y1="163.50" x2="636.00" y2="163.50" stroke="#1a1a1a" stroke-width="1.0"/>
<line x1="632.50" y1="158.50" x2="636.00" y2="158.50" stroke="#1a1a1a" stroke-width="1.0"/>
<line x1="632.50" y1="154.50" x2="636.00" y2="154.50" stroke="#1a1a1a" stroke-width="1.0"/>
<line x1="632.50" y1="150.50" x2="636.00" y2="150.50" stroke="#1a1a1a" stroke-width="1.0"/>
<line x1="632.50" y1="145.50" x2="636.00" y2="145.50" stroke="#1a1a1a" stroke-width="1.0"/>
<line x1="632.50" y1="141.50" x2="636.00" y2="141.50" stroke="#1a1a1a" stroke-width="1.0"/>
<line x1="632.50" y1="136.50" x2="639.00" y2="136.50" stroke="#1a1a1a" stroke-width="1.0"/>
<line x1="632.50" y1="132.50" x2="636.00" y2="132.50" stroke="#1a1a1a" stroke-width="1.0"/>
<line x1="632.50" y1="128.50" x2="636.00" y2="128.50" stroke="#1a1a1a" stroke-width="1.0"/>
<line x1="632.50" y1="123.50" x2="636.00" y2="123.50" stroke="#1a1a1a" stroke-width="1.0"/>
<line x1="632.50" y1="119.50" x2="636.00" y2="119.50" stroke="#1a1a1a" stroke-width="1.0"/>
<line x1="632.50" y1="114.50" x2="636.00" y2="114.50" stroke="#1a1a1a" stroke-width="1.0"/>
<line x1="632.50" y1="110.50" x2="636.00" y2="110.50" stroke="#1a1a1a" stroke-width="1.0"/>
<line x1="632.50" y1="106.50" x2="636.00" y2="106.50" stroke="#1a1a1a" stroke-width="1.0"/>
<line x1="632.50" y1="101.50" x2="636.00" y2="101.50" stroke="#1a1a1a" stroke-width="1.0"/>
<line x1="632.50" y1="97.50" x2="636.00" y2="97.50" stroke="#1a1a1a" stroke-width="1.0"/>
<line x1="632.50" y1="92.50" x2="639.00" y2="92.50" stroke="#1a1a1a" stroke-width="1.0"/>
<line x1="632.50" y1="88.50" x2="636.00" y2="88.50" stroke="#1a1a1a" stroke-width="1.0"/>
<line x1="632.50" y1="84.50" x2="636.00" y2="84.50" stroke="#1a1a1a" stroke-width="1.0"/>
<line x1="632.50" y1="79.50" x2="636.00" y2="79.50" stroke="#1a1a1a" stroke-width="1.0"/>
<line x1="632.50" y1="75.50" x2="636.00" y2="75.50" stroke="#1a1a1a" stroke-width="1.0"/>
<line x1="632.50" y1="70.50" x2="636.00" y2="70.50" stroke="#1a1a1a" stroke-width="1.0"/>
<line x1="632.50" y1="66.50" x2="636.00" y2="66.50" stroke="#1a1a1a" stroke-width="1.0"/>
<line x1="632.50" y1="62.50" x2="636.00" y2="62.50" stroke="#1a1a1a" stroke-width="1.0"/>
<line x1="632.50" y1="57.50" x2="636.00" y2="57.50" stroke="#1a1a1a" stroke-width="1.0"/>
<line x1="632.50" y1="53.50" x2="636.00" y2="53.50" stroke="#1a1a1a" stroke-width="1.0"/>
<line x1="632.50" y1="48.50" x2="639.00" y2="48.50" stroke="#1a1a1a" stroke-width="1.0"/>
<line x1="632.50" y1="44.50" x2="636.00" y2="44.50" stroke="#1a1a1a" stroke-width="1.0"/>
<line x1="632.50" y1="40.50" x2="636.00" y2="40.50" stroke="#1a1a1a" stroke-width="1.0"/>
<line x1="632.50" y1="35.50" x2="636.00" y2="35.50" stroke="#1a1a1a" stroke-width="1.0"/>
<line x1="632.50" y1="31.50" x2="636.00" y2="31.50" stroke="#1a1a1a" stroke-width="1.0"/>
<line x1="632.50" y1="26.50" x2="636.00" y2="26.50" stroke="#1a1a1a" stroke-width="1.0"/>
<line x1="632.50" y1="22.50" x2="636.00" y2="22.50" stroke="#1a1a1a" stroke-width="1.0"/>
<line x1="632.50" y1="18.50" x2="636.00" y2="18.50" stroke="#1a1a1a" stroke-width="1.0"/>
<line x1="632.50" y1="13.50" x2="636.00" y2="13.50" stroke="#1a1a1a" stroke-width="1.0"/>
<line x1="632.50" y1="9.50" x2="636.00" y2="9.50" stroke="#1a1a1a" stroke-width="1.0"/>
<line x1="632.50" y1="4.50" x2="639.00" y2="4.50" stroke="#1a1a1a" stroke-width="1.0"/>
<text transform="translate(643.30,16.66) scale(1.15,1)" text-anchor="start" font-size="15.9">40</text>
<text transform="translate(643.30,55.76) scale(1.15,1)" text-anchor="start" font-size="15.9">30</text>
<text transform="translate(643.30,100.66) scale(1.15,1)" text-anchor="start" font-size="15.9">20</text>
<text transform="translate(643.30,144.26) scale(1.15,1)" text-anchor="start" font-size="15.9">10</text>
<text transform="translate(643.30,181.96) scale(1.15,1)" text-anchor="start" font-size="15.9">0</text>
<g fill="none" stroke="#1e1e1e" stroke-width="1.35" stroke-linecap="round"><line x1="670.3" y1="89.4" x2="680.5" y2="97.9"/><path d="M670.3,89.4 L670.2,95.2"/><circle cx="679.2" cy="90.8" r="1.75"/><circle cx="671.9" cy="96.4" r="1.95"/></g>
<rect x="63.4" y="221.3" width="510.6" height="188.8" fill="none" stroke="#1a1a1a" stroke-width="1.4"/>
<line x1="63.40" y1="410.50" x2="73.40" y2="410.50" stroke="#1a1a1a" stroke-width="1.2"/>
<line x1="574.00" y1="410.50" x2="566.50" y2="410.50" stroke="#1a1a1a" stroke-width="1.2"/>
<line x1="63.40" y1="400.50" x2="68.60" y2="400.50" stroke="#1a1a1a" stroke-width="1.2"/>
<line x1="574.00" y1="400.50" x2="569.00" y2="400.50" stroke="#1a1a1a" stroke-width="1.2"/>
<line x1="63.40" y1="391.50" x2="68.60" y2="391.50" stroke="#1a1a1a" stroke-width="1.2"/>
<line x1="574.00" y1="391.50" x2="569.00" y2="391.50" stroke="#1a1a1a" stroke-width="1.2"/>
<line x1="63.40" y1="381.50" x2="68.60" y2="381.50" stroke="#1a1a1a" stroke-width="1.2"/>
<line x1="574.00" y1="381.50" x2="569.00" y2="381.50" stroke="#1a1a1a" stroke-width="1.2"/>
<line x1="63.40" y1="372.50" x2="73.40" y2="372.50" stroke="#1a1a1a" stroke-width="1.2"/>
<line x1="574.00" y1="372.50" x2="566.50" y2="372.50" stroke="#1a1a1a" stroke-width="1.2"/>
<line x1="63.40" y1="362.50" x2="68.60" y2="362.50" stroke="#1a1a1a" stroke-width="1.2"/>
<line x1="574.00" y1="362.50" x2="569.00" y2="362.50" stroke="#1a1a1a" stroke-width="1.2"/>
<line x1="63.40" y1="353.50" x2="68.60" y2="353.50" stroke="#1a1a1a" stroke-width="1.2"/>
<line x1="574.00" y1="353.50" x2="569.00" y2="353.50" stroke="#1a1a1a" stroke-width="1.2"/>
<line x1="63.40" y1="344.50" x2="68.60" y2="344.50" stroke="#1a1a1a" stroke-width="1.2"/>
<line x1="574.00" y1="344.50" x2="569.00" y2="344.50" stroke="#1a1a1a" stroke-width="1.2"/>
<line x1="63.40" y1="334.50" x2="73.40" y2="334.50" stroke="#1a1a1a" stroke-width="1.2"/>
<line x1="574.00" y1="334.50" x2="566.50" y2="334.50" stroke="#1a1a1a" stroke-width="1.2"/>
<line x1="63.40" y1="325.50" x2="68.60" y2="325.50" stroke="#1a1a1a" stroke-width="1.2"/>
<line x1="574.00" y1="325.50" x2="569.00" y2="325.50" stroke="#1a1a1a" stroke-width="1.2"/>
<line x1="63.40" y1="315.50" x2="68.60" y2="315.50" stroke="#1a1a1a" stroke-width="1.2"/>
<line x1="574.00" y1="315.50" x2="569.00" y2="315.50" stroke="#1a1a1a" stroke-width="1.2"/>
<line x1="63.40" y1="306.50" x2="68.60" y2="306.50" stroke="#1a1a1a" stroke-width="1.2"/>
<line x1="574.00" y1="306.50" x2="569.00" y2="306.50" stroke="#1a1a1a" stroke-width="1.2"/>
<line x1="63.40" y1="296.50" x2="73.40" y2="296.50" stroke="#1a1a1a" stroke-width="1.2"/>
<line x1="574.00" y1="296.50" x2="566.50" y2="296.50" stroke="#1a1a1a" stroke-width="1.2"/>
<line x1="63.40" y1="287.50" x2="68.60" y2="287.50" stroke="#1a1a1a" stroke-width="1.2"/>
<line x1="574.00" y1="287.50" x2="569.00" y2="287.50" stroke="#1a1a1a" stroke-width="1.2"/>
<line x1="63.40" y1="277.50" x2="68.60" y2="277.50" stroke="#1a1a1a" stroke-width="1.2"/>
<line x1="574.00" y1="277.50" x2="569.00" y2="277.50" stroke="#1a1a1a" stroke-width="1.2"/>
<line x1="63.40" y1="268.50" x2="68.60" y2="268.50" stroke="#1a1a1a" stroke-width="1.2"/>
<line x1="574.00" y1="268.50" x2="569.00" y2="268.50" stroke="#1a1a1a" stroke-width="1.2"/>
<line x1="63.40" y1="259.50" x2="73.40" y2="259.50" stroke="#1a1a1a" stroke-width="1.2"/>
<line x1="574.00" y1="259.50" x2="566.50" y2="259.50" stroke="#1a1a1a" stroke-width="1.2"/>
<line x1="63.40" y1="249.50" x2="68.60" y2="249.50" stroke="#1a1a1a" stroke-width="1.2"/>
<line x1="574.00" y1="249.50" x2="569.00" y2="249.50" stroke="#1a1a1a" stroke-width="1.2"/>
<line x1="63.40" y1="240.50" x2="68.60" y2="240.50" stroke="#1a1a1a" stroke-width="1.2"/>
<line x1="574.00" y1="240.50" x2="569.00" y2="240.50" stroke="#1a1a1a" stroke-width="1.2"/>
<line x1="63.40" y1="230.50" x2="68.60" y2="230.50" stroke="#1a1a1a" stroke-width="1.2"/>
<line x1="574.00" y1="230.50" x2="569.00" y2="230.50" stroke="#1a1a1a" stroke-width="1.2"/>
<line x1="63.40" y1="221.50" x2="73.40" y2="221.50" stroke="#1a1a1a" stroke-width="1.2"/>
<line x1="574.00" y1="221.50" x2="566.50" y2="221.50" stroke="#1a1a1a" stroke-width="1.2"/>
<line x1="63.50" y1="410.10" x2="63.50" y2="406.10" stroke="#1a1a1a" stroke-width="1.2"/>
<line x1="63.50" y1="221.30" x2="63.50" y2="225.30" stroke="#1a1a1a" stroke-width="1.2"/>
<line x1="84.50" y1="410.10" x2="84.50" y2="408.10" stroke="#1a1a1a" stroke-width="1.2"/>
<line x1="84.50" y1="221.30" x2="84.50" y2="223.30" stroke="#1a1a1a" stroke-width="1.2"/>
<line x1="105.50" y1="410.10" x2="105.50" y2="408.10" stroke="#1a1a1a" stroke-width="1.2"/>
<line x1="105.50" y1="221.30" x2="105.50" y2="223.30" stroke="#1a1a1a" stroke-width="1.2"/>
<line x1="125.50" y1="410.10" x2="125.50" y2="408.10" stroke="#1a1a1a" stroke-width="1.2"/>
<line x1="125.50" y1="221.30" x2="125.50" y2="223.30" stroke="#1a1a1a" stroke-width="1.2"/>
<line x1="146.50" y1="410.10" x2="146.50" y2="406.10" stroke="#1a1a1a" stroke-width="1.2"/>
<line x1="146.50" y1="221.30" x2="146.50" y2="225.30" stroke="#1a1a1a" stroke-width="1.2"/>
<line x1="167.50" y1="410.10" x2="167.50" y2="408.10" stroke="#1a1a1a" stroke-width="1.2"/>
<line x1="167.50" y1="221.30" x2="167.50" y2="223.30" stroke="#1a1a1a" stroke-width="1.2"/>
<line x1="188.50" y1="410.10" x2="188.50" y2="408.10" stroke="#1a1a1a" stroke-width="1.2"/>
<line x1="188.50" y1="221.30" x2="188.50" y2="223.30" stroke="#1a1a1a" stroke-width="1.2"/>
<line x1="209.50" y1="410.10" x2="209.50" y2="408.10" stroke="#1a1a1a" stroke-width="1.2"/>
<line x1="209.50" y1="221.30" x2="209.50" y2="223.30" stroke="#1a1a1a" stroke-width="1.2"/>
<line x1="230.50" y1="410.10" x2="230.50" y2="406.10" stroke="#1a1a1a" stroke-width="1.2"/>
<line x1="230.50" y1="221.30" x2="230.50" y2="225.30" stroke="#1a1a1a" stroke-width="1.2"/>
<line x1="251.50" y1="410.10" x2="251.50" y2="408.10" stroke="#1a1a1a" stroke-width="1.2"/>
<line x1="251.50" y1="221.30" x2="251.50" y2="223.30" stroke="#1a1a1a" stroke-width="1.2"/>
<line x1="272.50" y1="410.10" x2="272.50" y2="408.10" stroke="#1a1a1a" stroke-width="1.2"/>
<line x1="272.50" y1="221.30" x2="272.50" y2="223.30" stroke="#1a1a1a" stroke-width="1.2"/>
<line x1="292.50" y1="410.10" x2="292.50" y2="408.10" stroke="#1a1a1a" stroke-width="1.2"/>
<line x1="292.50" y1="221.30" x2="292.50" y2="223.30" stroke="#1a1a1a" stroke-width="1.2"/>
<line x1="313.50" y1="410.10" x2="313.50" y2="406.10" stroke="#1a1a1a" stroke-width="1.2"/>
<line x1="313.50" y1="221.30" x2="313.50" y2="225.30" stroke="#1a1a1a" stroke-width="1.2"/>
<line x1="334.50" y1="410.10" x2="334.50" y2="408.10" stroke="#1a1a1a" stroke-width="1.2"/>
<line x1="334.50" y1="221.30" x2="334.50" y2="223.30" stroke="#1a1a1a" stroke-width="1.2"/>
<line x1="355.50" y1="410.10" x2="355.50" y2="408.10" stroke="#1a1a1a" stroke-width="1.2"/>
<line x1="355.50" y1="221.30" x2="355.50" y2="223.30" stroke="#1a1a1a" stroke-width="1.2"/>
<line x1="376.50" y1="410.10" x2="376.50" y2="408.10" stroke="#1a1a1a" stroke-width="1.2"/>
<line x1="376.50" y1="221.30" x2="376.50" y2="223.30" stroke="#1a1a1a" stroke-width="1.2"/>
<line x1="397.50" y1="410.10" x2="397.50" y2="406.10" stroke="#1a1a1a" stroke-width="1.2"/>
<line x1="397.50" y1="221.30" x2="397.50" y2="225.30" stroke="#1a1a1a" stroke-width="1.2"/>
<line x1="418.50" y1="410.10" x2="418.50" y2="408.10" stroke="#1a1a1a" stroke-width="1.2"/>
<line x1="418.50" y1="221.30" x2="418.50" y2="223.30" stroke="#1a1a1a" stroke-width="1.2"/>
<line x1="438.50" y1="410.10" x2="438.50" y2="408.10" stroke="#1a1a1a" stroke-width="1.2"/>
<line x1="438.50" y1="221.30" x2="438.50" y2="223.30" stroke="#1a1a1a" stroke-width="1.2"/>
<line x1="459.50" y1="410.10" x2="459.50" y2="408.10" stroke="#1a1a1a" stroke-width="1.2"/>
<line x1="459.50" y1="221.30" x2="459.50" y2="223.30" stroke="#1a1a1a" stroke-width="1.2"/>
<line x1="480.50" y1="410.10" x2="480.50" y2="406.10" stroke="#1a1a1a" stroke-width="1.2"/>
<line x1="480.50" y1="221.30" x2="480.50" y2="225.30" stroke="#1a1a1a" stroke-width="1.2"/>
<line x1="501.50" y1="410.10" x2="501.50" y2="408.10" stroke="#1a1a1a" stroke-width="1.2"/>
<line x1="501.50" y1="221.30" x2="501.50" y2="223.30" stroke="#1a1a1a" stroke-width="1.2"/>
<line x1="522.50" y1="410.10" x2="522.50" y2="408.10" stroke="#1a1a1a" stroke-width="1.2"/>
<line x1="522.50" y1="221.30" x2="522.50" y2="223.30" stroke="#1a1a1a" stroke-width="1.2"/>
<line x1="543.50" y1="410.10" x2="543.50" y2="408.10" stroke="#1a1a1a" stroke-width="1.2"/>
<line x1="543.50" y1="221.30" x2="543.50" y2="223.30" stroke="#1a1a1a" stroke-width="1.2"/>
<line x1="564.50" y1="410.10" x2="564.50" y2="406.10" stroke="#1a1a1a" stroke-width="1.2"/>
<line x1="564.50" y1="221.30" x2="564.50" y2="225.30" stroke="#1a1a1a" stroke-width="1.2"/>
<line x1="63.4" y1="277.94" x2="574.0" y2="277.94" stroke="#1a1a1a" stroke-width="1.8" stroke-dasharray="8.9 9.84" stroke-dashoffset="0.54"/>
<polyline points="63.5,222.2 72.8,234.5 82.0,238.5 91.3,231.6 100.6,245.1 109.8,306.0 119.1,291.4 128.4,360.4 156.2,312.3 165.5,258.5 174.7,265.1 184.0,235.6 193.3,233.6 202.5,222.2 211.8,338.1 230.4,228.5 239.6,228.5 248.9,247.9 258.2,258.5 267.4,332.4 276.7,235.6 286.0,233.6 295.2,237.0 304.5,267.4 323.1,247.9 332.3,298.0 341.6,253.1 360.1,356.7 369.4,358.7 378.7,255.1 387.9,252.8 397.2,276.6 406.5,295.2 415.8,277.4 425.0,345.8 434.3,259.4 443.6,268.4 452.8,282.8 462.1,252.8 471.4,284.6 480.6,265.1 489.9,365.3 499.2,278.6 508.5,319.5 517.7,268.5 527.0,274.5 536.3,315.2 545.5,381.0 554.8,278.0 564.1,254.2 573.3,276.6" fill="none" stroke="#202020" stroke-width="1.6" stroke-linejoin="round"/>
<text transform="translate(58.00,411.06) scale(1.15,1)" text-anchor="end" font-size="15.9">0.0</text>
<text transform="translate(58.00,379.60) scale(1.15,1)" text-anchor="end" font-size="15.9">0.2</text>
<text transform="translate(58.00,341.84) scale(1.15,1)" text-anchor="end" font-size="15.9">0.4</text>
<text transform="translate(58.00,304.08) scale(1.15,1)" text-anchor="end" font-size="15.9">0.6</text>
<text transform="translate(58.00,266.32) scale(1.15,1)" text-anchor="end" font-size="15.9">0.8</text>
<text transform="translate(58.00,232.96) scale(1.15,1)" text-anchor="end" font-size="15.9">1.0</text>
<text transform="translate(62.40,433.46) scale(1.15,1)" text-anchor="middle" font-size="15.9">0</text>
<text transform="translate(146.12,433.46) scale(1.15,1)" text-anchor="middle" font-size="15.9">2</text>
<text transform="translate(229.84,433.46) scale(1.15,1)" text-anchor="middle" font-size="15.9">4</text>
<text transform="translate(313.56,433.46) scale(1.15,1)" text-anchor="middle" font-size="15.9">6</text>
<text transform="translate(397.28,433.46) scale(1.15,1)" text-anchor="middle" font-size="15.9">8</text>
<text transform="translate(481.00,433.46) scale(1.15,1)" text-anchor="middle" font-size="15.9">10</text>
<text transform="translate(564.72,433.46) scale(1.15,1)" text-anchor="middle" font-size="15.9">12</text>
<text transform="translate(12.60,316.00) rotate(-90)" text-anchor="middle" font-size="16.2" textLength="82.6" lengthAdjust="spacingAndGlyphs" dy="0.36em">Coherence</text>
<clipPath id="c3"><rect x="63.4" y="459.6" width="510.6" height="189.0"/></clipPath>
<rect x="63.4" y="459.6" width="510.6" height="189.0" fill="none" stroke="#1a1a1a" stroke-width="1.4"/>
<line x1="63.40" y1="648.50" x2="73.40" y2="648.50" stroke="#111" stroke-width="1.25"/>
<line x1="574.00" y1="648.50" x2="564.00" y2="648.50" stroke="#111" stroke-width="1.25"/>
<line x1="63.40" y1="639.50" x2="68.60" y2="639.50" stroke="#111" stroke-width="1.25"/>
<line x1="574.00" y1="639.50" x2="568.80" y2="639.50" stroke="#111" stroke-width="1.25"/>
<line x1="63.40" y1="633.50" x2="68.60" y2="633.50" stroke="#111" stroke-width="1.25"/>
<line x1="574.00" y1="633.50" x2="568.80" y2="633.50" stroke="#111" stroke-width="1.25"/>
<line x1="63.40" y1="629.50" x2="68.60" y2="629.50" stroke="#111" stroke-width="1.25"/>
<line x1="574.00" y1="629.50" x2="568.80" y2="629.50" stroke="#111" stroke-width="1.25"/>
<line x1="63.40" y1="626.50" x2="68.60" y2="626.50" stroke="#111" stroke-width="1.25"/>
<line x1="574.00" y1="626.50" x2="568.80" y2="626.50" stroke="#111" stroke-width="1.25"/>
<line x1="63.40" y1="624.50" x2="68.60" y2="624.50" stroke="#111" stroke-width="1.25"/>
<line x1="574.00" y1="624.50" x2="568.80" y2="624.50" stroke="#111" stroke-width="1.25"/>
<line x1="63.40" y1="621.50" x2="68.60" y2="621.50" stroke="#111" stroke-width="1.25"/>
<line x1="574.00" y1="621.50" x2="568.80" y2="621.50" stroke="#111" stroke-width="1.25"/>
<line x1="63.40" y1="620.50" x2="68.60" y2="620.50" stroke="#111" stroke-width="1.25"/>
<line x1="574.00" y1="620.50" x2="568.80" y2="620.50" stroke="#111" stroke-width="1.25"/>
<line x1="63.40" y1="618.50" x2="68.60" y2="618.50" stroke="#111" stroke-width="1.25"/>
<line x1="574.00" y1="618.50" x2="568.80" y2="618.50" stroke="#111" stroke-width="1.25"/>
<line x1="63.40" y1="617.50" x2="73.40" y2="617.50" stroke="#111" stroke-width="1.25"/>
<line x1="574.00" y1="617.50" x2="564.00" y2="617.50" stroke="#111" stroke-width="1.25"/>
<line x1="63.40" y1="607.50" x2="68.60" y2="607.50" stroke="#111" stroke-width="1.25"/>
<line x1="574.00" y1="607.50" x2="568.80" y2="607.50" stroke="#111" stroke-width="1.25"/>
<line x1="63.40" y1="602.50" x2="68.60" y2="602.50" stroke="#111" stroke-width="1.25"/>
<line x1="574.00" y1="602.50" x2="568.80" y2="602.50" stroke="#111" stroke-width="1.25"/>
<line x1="63.40" y1="598.50" x2="68.60" y2="598.50" stroke="#111" stroke-width="1.25"/>
<line x1="574.00" y1="598.50" x2="568.80" y2="598.50" stroke="#111" stroke-width="1.25"/>
<line x1="63.40" y1="595.50" x2="68.60" y2="595.50" stroke="#111" stroke-width="1.25"/>
<line x1="574.00" y1="595.50" x2="568.80" y2="595.50" stroke="#111" stroke-width="1.25"/>
<line x1="63.40" y1="592.50" x2="68.60" y2="592.50" stroke="#111" stroke-width="1.25"/>
<line x1="574.00" y1="592.50" x2="568.80" y2="592.50" stroke="#111" stroke-width="1.25"/>
<line x1="63.40" y1="590.50" x2="68.60" y2="590.50" stroke="#111" stroke-width="1.25"/>
<line x1="574.00" y1="590.50" x2="568.80" y2="590.50" stroke="#111" stroke-width="1.25"/>
<line x1="63.40" y1="588.50" x2="68.60" y2="588.50" stroke="#111" stroke-width="1.25"/>
<line x1="574.00" y1="588.50" x2="568.80" y2="588.50" stroke="#111" stroke-width="1.25"/>
<line x1="63.40" y1="587.50" x2="68.60" y2="587.50" stroke="#111" stroke-width="1.25"/>
<line x1="574.00" y1="587.50" x2="568.80" y2="587.50" stroke="#111" stroke-width="1.25"/>
<line x1="63.40" y1="585.50" x2="73.40" y2="585.50" stroke="#111" stroke-width="1.25"/>
<line x1="574.00" y1="585.50" x2="564.00" y2="585.50" stroke="#111" stroke-width="1.25"/>
<line x1="63.40" y1="576.50" x2="68.60" y2="576.50" stroke="#111" stroke-width="1.25"/>
<line x1="574.00" y1="576.50" x2="568.80" y2="576.50" stroke="#111" stroke-width="1.25"/>
<line x1="63.40" y1="570.50" x2="68.60" y2="570.50" stroke="#111" stroke-width="1.25"/>
<line x1="574.00" y1="570.50" x2="568.80" y2="570.50" stroke="#111" stroke-width="1.25"/>
<line x1="63.40" y1="566.50" x2="68.60" y2="566.50" stroke="#111" stroke-width="1.25"/>
<line x1="574.00" y1="566.50" x2="568.80" y2="566.50" stroke="#111" stroke-width="1.25"/>
<line x1="63.40" y1="563.50" x2="68.60" y2="563.50" stroke="#111" stroke-width="1.25"/>
<line x1="574.00" y1="563.50" x2="568.80" y2="563.50" stroke="#111" stroke-width="1.25"/>
<line x1="63.40" y1="561.50" x2="68.60" y2="561.50" stroke="#111" stroke-width="1.25"/>
<line x1="574.00" y1="561.50" x2="568.80" y2="561.50" stroke="#111" stroke-width="1.25"/>
<line x1="63.40" y1="558.50" x2="68.60" y2="558.50" stroke="#111" stroke-width="1.25"/>
<line x1="574.00" y1="558.50" x2="568.80" y2="558.50" stroke="#111" stroke-width="1.25"/>
<line x1="63.40" y1="557.50" x2="68.60" y2="557.50" stroke="#111" stroke-width="1.25"/>
<line x1="574.00" y1="557.50" x2="568.80" y2="557.50" stroke="#111" stroke-width="1.25"/>
<line x1="63.40" y1="555.50" x2="68.60" y2="555.50" stroke="#111" stroke-width="1.25"/>
<line x1="574.00" y1="555.50" x2="568.80" y2="555.50" stroke="#111" stroke-width="1.25"/>
<line x1="63.40" y1="554.50" x2="73.40" y2="554.50" stroke="#111" stroke-width="1.25"/>
<line x1="574.00" y1="554.50" x2="564.00" y2="554.50" stroke="#111" stroke-width="1.25"/>
<line x1="63.40" y1="544.50" x2="68.60" y2="544.50" stroke="#111" stroke-width="1.25"/>
<line x1="574.00" y1="544.50" x2="568.80" y2="544.50" stroke="#111" stroke-width="1.25"/>
<line x1="63.40" y1="539.50" x2="68.60" y2="539.50" stroke="#111" stroke-width="1.25"/>
<line x1="574.00" y1="539.50" x2="568.80" y2="539.50" stroke="#111" stroke-width="1.25"/>
<line x1="63.40" y1="535.50" x2="68.60" y2="535.50" stroke="#111" stroke-width="1.25"/>
<line x1="574.00" y1="535.50" x2="568.80" y2="535.50" stroke="#111" stroke-width="1.25"/>
<line x1="63.40" y1="532.50" x2="68.60" y2="532.50" stroke="#111" stroke-width="1.25"/>
<line x1="574.00" y1="532.50" x2="568.80" y2="532.50" stroke="#111" stroke-width="1.25"/>
<line x1="63.40" y1="529.50" x2="68.60" y2="529.50" stroke="#111" stroke-width="1.25"/>
<line x1="574.00" y1="529.50" x2="568.80" y2="529.50" stroke="#111" stroke-width="1.25"/>
<line x1="63.40" y1="527.50" x2="68.60" y2="527.50" stroke="#111" stroke-width="1.25"/>
<line x1="574.00" y1="527.50" x2="568.80" y2="527.50" stroke="#111" stroke-width="1.25"/>
<line x1="63.40" y1="525.50" x2="68.60" y2="525.50" stroke="#111" stroke-width="1.25"/>
<line x1="574.00" y1="525.50" x2="568.80" y2="525.50" stroke="#111" stroke-width="1.25"/>
<line x1="63.40" y1="524.50" x2="68.60" y2="524.50" stroke="#111" stroke-width="1.25"/>
<line x1="574.00" y1="524.50" x2="568.80" y2="524.50" stroke="#111" stroke-width="1.25"/>
<line x1="63.40" y1="522.50" x2="73.40" y2="522.50" stroke="#111" stroke-width="1.25"/>
<line x1="574.00" y1="522.50" x2="564.00" y2="522.50" stroke="#111" stroke-width="1.25"/>
<line x1="63.40" y1="513.50" x2="68.60" y2="513.50" stroke="#111" stroke-width="1.25"/>
<line x1="574.00" y1="513.50" x2="568.80" y2="513.50" stroke="#111" stroke-width="1.25"/>
<line x1="63.40" y1="507.50" x2="68.60" y2="507.50" stroke="#111" stroke-width="1.25"/>
<line x1="574.00" y1="507.50" x2="568.80" y2="507.50" stroke="#111" stroke-width="1.25"/>
<line x1="63.40" y1="503.50" x2="68.60" y2="503.50" stroke="#111" stroke-width="1.25"/>
<line x1="574.00" y1="503.50" x2="568.80" y2="503.50" stroke="#111" stroke-width="1.25"/>
<line x1="63.40" y1="500.50" x2="68.60" y2="500.50" stroke="#111" stroke-width="1.25"/>
<line x1="574.00" y1="500.50" x2="568.80" y2="500.50" stroke="#111" stroke-width="1.25"/>
<line x1="63.40" y1="498.50" x2="68.60" y2="498.50" stroke="#111" stroke-width="1.25"/>
<line x1="574.00" y1="498.50" x2="568.80" y2="498.50" stroke="#111" stroke-width="1.25"/>
<line x1="63.40" y1="495.50" x2="68.60" y2="495.50" stroke="#111" stroke-width="1.25"/>
<line x1="574.00" y1="495.50" x2="568.80" y2="495.50" stroke="#111" stroke-width="1.25"/>
<line x1="63.40" y1="494.50" x2="68.60" y2="494.50" stroke="#111" stroke-width="1.25"/>
<line x1="574.00" y1="494.50" x2="568.80" y2="494.50" stroke="#111" stroke-width="1.25"/>
<line x1="63.40" y1="492.50" x2="68.60" y2="492.50" stroke="#111" stroke-width="1.25"/>
<line x1="574.00" y1="492.50" x2="568.80" y2="492.50" stroke="#111" stroke-width="1.25"/>
<line x1="63.40" y1="491.50" x2="73.40" y2="491.50" stroke="#111" stroke-width="1.25"/>
<line x1="574.00" y1="491.50" x2="564.00" y2="491.50" stroke="#111" stroke-width="1.25"/>
<line x1="63.40" y1="481.50" x2="68.60" y2="481.50" stroke="#111" stroke-width="1.25"/>
<line x1="574.00" y1="481.50" x2="568.80" y2="481.50" stroke="#111" stroke-width="1.25"/>
<line x1="63.40" y1="476.50" x2="68.60" y2="476.50" stroke="#111" stroke-width="1.25"/>
<line x1="574.00" y1="476.50" x2="568.80" y2="476.50" stroke="#111" stroke-width="1.25"/>
<line x1="63.40" y1="472.50" x2="68.60" y2="472.50" stroke="#111" stroke-width="1.25"/>
<line x1="574.00" y1="472.50" x2="568.80" y2="472.50" stroke="#111" stroke-width="1.25"/>
<line x1="63.40" y1="469.50" x2="68.60" y2="469.50" stroke="#111" stroke-width="1.25"/>
<line x1="574.00" y1="469.50" x2="568.80" y2="469.50" stroke="#111" stroke-width="1.25"/>
<line x1="63.40" y1="466.50" x2="68.60" y2="466.50" stroke="#111" stroke-width="1.25"/>
<line x1="574.00" y1="466.50" x2="568.80" y2="466.50" stroke="#111" stroke-width="1.25"/>
<line x1="63.40" y1="464.50" x2="68.60" y2="464.50" stroke="#111" stroke-width="1.25"/>
<line x1="574.00" y1="464.50" x2="568.80" y2="464.50" stroke="#111" stroke-width="1.25"/>
<line x1="63.40" y1="462.50" x2="68.60" y2="462.50" stroke="#111" stroke-width="1.25"/>
<line x1="574.00" y1="462.50" x2="568.80" y2="462.50" stroke="#111" stroke-width="1.25"/>
<line x1="63.40" y1="461.50" x2="68.60" y2="461.50" stroke="#111" stroke-width="1.25"/>
<line x1="574.00" y1="461.50" x2="568.80" y2="461.50" stroke="#111" stroke-width="1.25"/>
<line x1="63.40" y1="459.50" x2="73.40" y2="459.50" stroke="#1a1a1a" stroke-width="1.1"/>
<line x1="63.50" y1="648.60" x2="63.50" y2="644.60" stroke="#1a1a1a" stroke-width="1.2"/>
<line x1="63.50" y1="459.60" x2="63.50" y2="463.60" stroke="#1a1a1a" stroke-width="1.2"/>
<line x1="84.50" y1="648.60" x2="84.50" y2="646.60" stroke="#1a1a1a" stroke-width="1.2"/>
<line x1="84.50" y1="459.60" x2="84.50" y2="461.60" stroke="#1a1a1a" stroke-width="1.2"/>
<line x1="105.50" y1="648.60" x2="105.50" y2="646.60" stroke="#1a1a1a" stroke-width="1.2"/>
<line x1="105.50" y1="459.60" x2="105.50" y2="461.60" stroke="#1a1a1a" stroke-width="1.2"/>
<line x1="125.50" y1="648.60" x2="125.50" y2="646.60" stroke="#1a1a1a" stroke-width="1.2"/>
<line x1="125.50" y1="459.60" x2="125.50" y2="461.60" stroke="#1a1a1a" stroke-width="1.2"/>
<line x1="146.50" y1="648.60" x2="146.50" y2="644.60" stroke="#1a1a1a" stroke-width="1.2"/>
<line x1="146.50" y1="459.60" x2="146.50" y2="463.60" stroke="#1a1a1a" stroke-width="1.2"/>
<line x1="167.50" y1="648.60" x2="167.50" y2="646.60" stroke="#1a1a1a" stroke-width="1.2"/>
<line x1="167.50" y1="459.60" x2="167.50" y2="461.60" stroke="#1a1a1a" stroke-width="1.2"/>
<line x1="188.50" y1="648.60" x2="188.50" y2="646.60" stroke="#1a1a1a" stroke-width="1.2"/>
<line x1="188.50" y1="459.60" x2="188.50" y2="461.60" stroke="#1a1a1a" stroke-width="1.2"/>
<line x1="209.50" y1="648.60" x2="209.50" y2="646.60" stroke="#1a1a1a" stroke-width="1.2"/>
<line x1="209.50" y1="459.60" x2="209.50" y2="461.60" stroke="#1a1a1a" stroke-width="1.2"/>
<line x1="230.50" y1="648.60" x2="230.50" y2="644.60" stroke="#1a1a1a" stroke-width="1.2"/>
<line x1="230.50" y1="459.60" x2="230.50" y2="463.60" stroke="#1a1a1a" stroke-width="1.2"/>
<line x1="251.50" y1="648.60" x2="251.50" y2="646.60" stroke="#1a1a1a" stroke-width="1.2"/>
<line x1="251.50" y1="459.60" x2="251.50" y2="461.60" stroke="#1a1a1a" stroke-width="1.2"/>
<line x1="272.50" y1="648.60" x2="272.50" y2="646.60" stroke="#1a1a1a" stroke-width="1.2"/>
<line x1="272.50" y1="459.60" x2="272.50" y2="461.60" stroke="#1a1a1a" stroke-width="1.2"/>
<line x1="292.50" y1="648.60" x2="292.50" y2="646.60" stroke="#1a1a1a" stroke-width="1.2"/>
<line x1="292.50" y1="459.60" x2="292.50" y2="461.60" stroke="#1a1a1a" stroke-width="1.2"/>
<line x1="313.50" y1="648.60" x2="313.50" y2="644.60" stroke="#1a1a1a" stroke-width="1.2"/>
<line x1="313.50" y1="459.60" x2="313.50" y2="463.60" stroke="#1a1a1a" stroke-width="1.2"/>
<line x1="334.50" y1="648.60" x2="334.50" y2="646.60" stroke="#1a1a1a" stroke-width="1.2"/>
<line x1="334.50" y1="459.60" x2="334.50" y2="461.60" stroke="#1a1a1a" stroke-width="1.2"/>
<line x1="355.50" y1="648.60" x2="355.50" y2="646.60" stroke="#1a1a1a" stroke-width="1.2"/>
<line x1="355.50" y1="459.60" x2="355.50" y2="461.60" stroke="#1a1a1a" stroke-width="1.2"/>
<line x1="376.50" y1="648.60" x2="376.50" y2="646.60" stroke="#1a1a1a" stroke-width="1.2"/>
<line x1="376.50" y1="459.60" x2="376.50" y2="461.60" stroke="#1a1a1a" stroke-width="1.2"/>
<line x1="397.50" y1="648.60" x2="397.50" y2="644.60" stroke="#1a1a1a" stroke-width="1.2"/>
<line x1="397.50" y1="459.60" x2="397.50" y2="463.60" stroke="#1a1a1a" stroke-width="1.2"/>
<line x1="418.50" y1="648.60" x2="418.50" y2="646.60" stroke="#1a1a1a" stroke-width="1.2"/>
<line x1="418.50" y1="459.60" x2="418.50" y2="461.60" stroke="#1a1a1a" stroke-width="1.2"/>
<line x1="438.50" y1="648.60" x2="438.50" y2="646.60" stroke="#1a1a1a" stroke-width="1.2"/>
<line x1="438.50" y1="459.60" x2="438.50" y2="461.60" stroke="#1a1a1a" stroke-width="1.2"/>
<line x1="459.50" y1="648.60" x2="459.50" y2="646.60" stroke="#1a1a1a" stroke-width="1.2"/>
<line x1="459.50" y1="459.60" x2="459.50" y2="461.60" stroke="#1a1a1a" stroke-width="1.2"/>
<line x1="480.50" y1="648.60" x2="480.50" y2="644.60" stroke="#1a1a1a" stroke-width="1.2"/>
<line x1="480.50" y1="459.60" x2="480.50" y2="463.60" stroke="#1a1a1a" stroke-width="1.2"/>
<line x1="501.50" y1="648.60" x2="501.50" y2="646.60" stroke="#1a1a1a" stroke-width="1.2"/>
<line x1="501.50" y1="459.60" x2="501.50" y2="461.60" stroke="#1a1a1a" stroke-width="1.2"/>
<line x1="522.50" y1="648.60" x2="522.50" y2="646.60" stroke="#1a1a1a" stroke-width="1.2"/>
<line x1="522.50" y1="459.60" x2="522.50" y2="461.60" stroke="#1a1a1a" stroke-width="1.2"/>
<line x1="543.50" y1="648.60" x2="543.50" y2="646.60" stroke="#1a1a1a" stroke-width="1.2"/>
<line x1="543.50" y1="459.60" x2="543.50" y2="461.60" stroke="#1a1a1a" stroke-width="1.2"/>
<line x1="564.50" y1="648.60" x2="564.50" y2="644.60" stroke="#1a1a1a" stroke-width="1.2"/>
<line x1="564.50" y1="459.60" x2="564.50" y2="463.60" stroke="#1a1a1a" stroke-width="1.2"/>
<path clip-path="url(#c3)" d="M63.50,648.50 L65.00,648.42 L66.50,648.34 L68.00,648.25 L69.50,648.16 L71.00,648.07 L72.50,647.97 L74.00,647.87 L75.50,647.76 L77.00,647.66 L78.50,647.55 L80.00,647.43 L81.50,647.31 L83.00,647.19 L84.50,647.07 L86.00,646.94 L87.50,646.81 L89.00,646.68 L90.50,646.53 L92.00,646.39 L93.50,646.24 L95.00,646.08 L96.50,645.92 L98.00,645.75 L99.50,645.57 L101.00,645.39 L102.50,645.19 L104.00,644.99 L105.50,644.77 L107.00,644.54 L108.50,644.29 L110.00,644.04 L111.50,643.78 L113.00,643.51 L114.50,643.23 L116.00,642.95 L117.50,642.66 L119.00,642.36 L120.50,642.06 L122.00,641.76 L123.50,641.44 L125.00,641.10 L126.50,640.76 L128.00,640.40 L129.50,640.03 L131.00,639.65 L132.50,639.27 L134.00,638.87 L135.50,638.48 L137.00,638.07 L138.50,637.67 L140.00,637.26 L141.50,636.85 L143.00,636.45 L144.50,636.03 L146.00,635.61 L147.50,635.19 L149.00,634.76 L150.50,634.32 L152.00,633.88 L153.50,633.43 L155.00,632.98 L156.50,632.52 L158.00,632.05 L159.50,631.58 L161.00,631.09 L162.50,630.60 L164.00,630.09 L165.50,629.57 L167.00,629.03 L168.50,628.48 L170.00,627.92 L171.50,627.35 L173.00,626.78 L174.50,626.21 L176.00,625.63 L177.50,625.07 L179.00,624.50 L180.50,623.95 L182.00,623.41 L183.50,622.89 L185.00,622.38 L186.50,621.89 L188.00,621.41 L189.50,620.92 L191.00,620.42 L192.50,619.91 L194.00,619.37 L195.50,618.81 L197.00,618.22 L198.50,617.60 L200.00,616.96 L201.50,616.31 L203.00,615.64 L204.50,614.96 L206.00,614.27 L207.50,613.58 L209.00,612.88 L210.50,612.18 L212.00,611.49 L213.50,610.78 L215.00,610.06 L216.50,609.33 L218.00,608.56 L219.50,607.76 L221.00,606.92 L222.50,606.03 L224.00,605.10 L225.50,604.14 L227.00,603.16 L228.50,602.18 L230.00,601.20 L231.50,600.23 L233.00,599.26 L234.50,598.29 L236.00,597.31 L237.50,596.32 L239.00,595.32 L240.50,594.30 L242.00,593.26 L243.50,592.20 L245.00,591.10 L246.50,589.96 L248.00,588.76 L249.50,587.52 L251.00,586.26 L252.50,585.00 L254.00,583.73 L255.50,582.49 L257.00,581.28 L258.50,580.12 L260.00,579.01 L261.50,577.93 L263.00,576.88 L264.50,575.87 L266.00,574.91 L267.50,574.00 L269.00,573.12 L270.50,572.28 L272.00,571.49 L273.50,570.74 L275.00,570.03 L276.50,569.33 L278.00,568.65 L279.50,567.98 L281.00,567.34 L282.50,566.72 L284.00,566.14 L285.50,565.61 L287.00,565.11 L288.50,564.67 L290.00,564.27 L291.50,563.89 L293.00,563.54 L294.50,563.20 L296.00,562.88 L297.50,562.58 L299.00,562.30 L300.50,562.03 L302.00,561.77 L303.50,561.52 L305.00,561.28 L306.50,561.05 L308.00,560.82 L309.50,560.61 L311.00,560.41 L312.50,560.21 L314.00,560.02 L315.50,559.84 L317.00,559.67 L318.50,559.50 L320.00,559.34 L321.50,559.19 L323.00,559.04 L324.50,558.89 L326.00,558.76 L327.50,558.62 L329.00,558.49 L330.50,558.36 L332.00,558.22 L333.50,558.09 L335.00,557.95 L336.50,557.81 L338.00,557.68 L339.50,557.55 L341.00,557.42 L342.50,557.29 L344.00,557.17 L345.50,557.05 L347.00,556.95 L348.50,556.84 L350.00,556.75 L351.50,556.67 L353.00,556.60 L354.50,556.54 L356.00,556.48 L357.50,556.42 L359.00,556.37 L360.50,556.31 L362.00,556.27 L363.50,556.22 L365.00,556.18 L366.50,556.13 L368.00,556.09 L369.50,556.05 L371.00,556.02 L372.50,555.98 L374.00,555.94 L375.50,555.91 L377.00,555.87 L378.50,555.84 L380.00,555.80 L381.50,555.76 L383.00,555.73 L384.50,555.69 L386.00,555.66 L387.50,555.62 L389.00,555.58 L390.50,555.55 L392.00,555.51 L393.50,555.47 L395.00,555.44 L396.50,555.40 L398.00,555.37 L399.50,555.33 L401.00,555.29 L402.50,555.26 L404.00,555.22 L405.50,555.19 L407.00,555.15 L408.50,555.12 L410.00,555.09 L411.50,555.05 L413.00,555.02 L414.50,554.98 L416.00,554.95 L417.50,554.92 L419.00,554.89 L420.50,554.85 L422.00,554.82 L423.50,554.79 L425.00,554.76 L426.50,554.73 L428.00,554.70 L429.50,554.67 L431.00,554.65 L432.50,554.62 L434.00,554.59 L435.50,554.56 L437.00,554.54 L438.50,554.51 L440.00,554.49 L441.50,554.46 L443.00,554.44 L444.50,554.42 L446.00,554.40 L447.50,554.38 L449.00,554.36 L450.50,554.34 L452.00,554.32 L453.50,554.30 L455.00,554.29 L456.50,554.27 L458.00,554.26 L459.50,554.24 L461.00,554.23 L462.50,554.22 L464.00,554.21 L465.50,554.20 L467.00,554.19 L468.50,554.18 L470.00,554.17 L471.50,554.16 L473.00,554.15 L474.50,554.14 L476.00,554.13 L477.50,554.12 L479.00,554.11 L480.50,554.11 L482.00,554.10 L483.50,554.09 L485.00,554.08 L486.50,554.07 L488.00,554.06 L489.50,554.05 L491.00,554.05 L492.50,554.04 L494.00,554.03 L495.50,554.02 L497.00,554.02 L498.50,554.01 L500.00,554.00 L501.50,553.99 L503.00,553.99 L504.50,553.98 L506.00,553.97 L507.50,553.96 L509.00,553.96 L510.50,553.95 L512.00,553.94 L513.50,553.94 L515.00,553.93 L516.50,553.93 L518.00,553.92 L519.50,553.91 L521.00,553.91 L522.50,553.90 L524.00,553.90 L525.50,553.89 L527.00,553.89 L528.50,553.88 L530.00,553.88 L531.50,553.87 L533.00,553.87 L534.50,553.86 L536.00,553.86 L537.50,553.85 L539.00,553.85 L540.50,553.84 L542.00,553.84 L543.50,553.84 L545.00,553.83 L546.50,553.83 L548.00,553.83 L549.50,553.82 L551.00,553.82 L552.50,553.82 L554.00,553.82 L555.50,553.81 L557.00,553.81 L558.50,553.81 L560.00,553.81 L561.50,553.81 L563.00,553.80 L564.50,553.80 L566.00,553.80 L567.50,553.80 L569.00,553.80 L570.50,553.80 L572.00,553.80 L573.50,553.80" fill="none" stroke="#f40404" stroke-width="3.0"/>
<polyline clip-path="url(#c3)" points="63.5,601.0 72.8,649.0 82.0,644.2 91.3,644.2 100.6,637.2 109.8,656.0 119.1,616.5 128.4,617.4 137.7,615.5 146.9,614.1 156.2,600.5 165.5,619.6 174.7,643.0 184.0,591.9 193.3,645.6 202.5,618.5 211.8,636.6 221.1,601.6 230.4,592.4 239.6,626.4 248.9,589.9 258.2,623.8 267.4,600.1 276.7,595.8 286.0,583.6 295.2,561.2 304.5,581.6 313.8,572.2 323.1,556.4 332.3,556.8 341.6,532.7 350.9,518.1 360.1,552.4 369.4,571.4 378.7,542.2 387.9,526.6 397.2,557.6 406.5,540.3 415.8,578.7 425.0,572.4 434.3,568.5 443.6,551.0 452.8,542.2 462.1,571.9 471.4,551.1 480.6,542.4 489.9,556.2 499.2,558.1 508.5,581.3 517.7,538.6 527.0,551.5 536.3,589.8 545.5,574.8 554.8,542.0 564.1,575.6 573.3,554.0" fill="none" stroke="#202020" stroke-width="1.6" stroke-linejoin="round"/>
<text transform="translate(51.20,648.76) scale(1.15,1)" text-anchor="end" font-size="15.9">10</text>
<text transform="translate(51.60,640.24) scale(1.0,1)" text-anchor="start" font-size="10.5">0</text>
<text transform="translate(51.20,624.06) scale(1.15,1)" text-anchor="end" font-size="15.9">10</text>
<text transform="translate(51.60,615.54) scale(1.0,1)" text-anchor="start" font-size="10.5">1</text>
<text transform="translate(51.20,592.56) scale(1.15,1)" text-anchor="end" font-size="15.9">10</text>
<text transform="translate(51.60,584.04) scale(1.0,1)" text-anchor="start" font-size="10.5">2</text>
<text transform="translate(51.20,561.06) scale(1.15,1)" text-anchor="end" font-size="15.9">10</text>
<text transform="translate(51.60,552.54) scale(1.0,1)" text-anchor="start" font-size="10.5">3</text>
<text transform="translate(51.20,529.56) scale(1.15,1)" text-anchor="end" font-size="15.9">10</text>
<text transform="translate(51.60,521.04) scale(1.0,1)" text-anchor="start" font-size="10.5">4</text>
<text transform="translate(51.20,498.06) scale(1.15,1)" text-anchor="end" font-size="15.9">10</text>
<text transform="translate(51.60,489.54) scale(1.0,1)" text-anchor="start" font-size="10.5">5</text>
<text transform="translate(51.20,470.86) scale(1.15,1)" text-anchor="end" font-size="15.9">10</text>
<text transform="translate(51.60,462.34) scale(1.0,1)" text-anchor="start" font-size="10.5">6</text>
<text transform="translate(62.40,672.26) scale(1.15,1)" text-anchor="middle" font-size="15.9">0</text>
<text transform="translate(146.12,672.26) scale(1.15,1)" text-anchor="middle" font-size="15.9">2</text>
<text transform="translate(229.84,672.26) scale(1.15,1)" text-anchor="middle" font-size="15.9">4</text>
<text transform="translate(313.56,672.26) scale(1.15,1)" text-anchor="middle" font-size="15.9">6</text>
<text transform="translate(397.28,672.26) scale(1.15,1)" text-anchor="middle" font-size="15.9">8</text>
<text transform="translate(481.00,672.26) scale(1.15,1)" text-anchor="middle" font-size="15.9">10</text>
<text transform="translate(564.72,672.26) scale(1.15,1)" text-anchor="middle" font-size="15.9">12</text>
<text transform="translate(11.80,554.20) rotate(-90)" text-anchor="middle" font-size="16.2" textLength="102.6" lengthAdjust="spacingAndGlyphs" dy="0.36em">Amplification</text>
<text x="318" y="693.3" text-anchor="middle" font-size="16.2" textLength="93" lengthAdjust="spacingAndGlyphs">Freq (mHz)</text>
</svg></body></html>
